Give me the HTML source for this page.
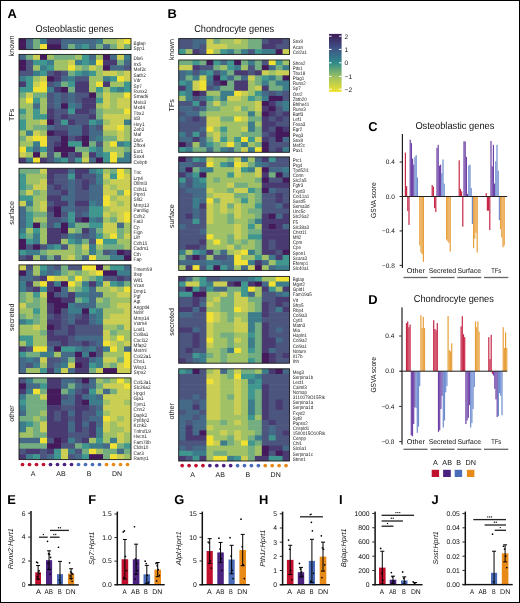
<!DOCTYPE html>
<html><head><meta charset="utf-8"><style>
html,body{margin:0;padding:0;background:#fff;}
body{width:520px;height:603px;overflow:hidden;position:relative;font-family:"Liberation Sans", sans-serif;}
svg{display:block;position:absolute;left:0;top:0;filter:blur(0.4px);}
.frame{position:absolute;left:0;top:0;width:520px;height:603px;box-sizing:border-box;pointer-events:none;}
</style></head><body>
<svg width="520" height="603" viewBox="0 0 520 603" text-rendering="geometricPrecision" font-family='"Liberation Sans", sans-serif'>
<rect x="0" y="0" width="520" height="603" fill="#fff"/>
<rect x="19" y="38.6" width="7.6" height="6.1" fill="#441a5c"/>
<rect x="26" y="38.6" width="7.6" height="6.1" fill="#456a88"/>
<rect x="33" y="38.6" width="7.6" height="6.1" fill="#74ae80"/>
<rect x="40" y="38.6" width="7.6" height="6.1" fill="#3d7d8b"/>
<rect x="47" y="38.6" width="14.6" height="6.1" fill="#4a3a72"/>
<rect x="61" y="38.6" width="35.6" height="6.1" fill="#456a88"/>
<rect x="96" y="38.6" width="7.6" height="6.1" fill="#3d7d8b"/>
<rect x="103" y="38.6" width="14.6" height="6.1" fill="#a0c166"/>
<rect x="117" y="38.6" width="7.6" height="6.1" fill="#cacf53"/>
<rect x="124" y="38.6" width="7" height="6.1" fill="#f0e132"/>
<rect x="19" y="44.1" width="7.6" height="5.5" fill="#441a5c"/>
<rect x="26" y="44.1" width="7.6" height="5.5" fill="#456a88"/>
<rect x="33" y="44.1" width="7.6" height="5.5" fill="#74ae80"/>
<rect x="40" y="44.1" width="7.6" height="5.5" fill="#f0e132"/>
<rect x="47" y="44.1" width="14.6" height="5.5" fill="#441a5c"/>
<rect x="61" y="44.1" width="7.6" height="5.5" fill="#456a88"/>
<rect x="68" y="44.1" width="7.6" height="5.5" fill="#74ae80"/>
<rect x="75" y="44.1" width="7.6" height="5.5" fill="#3d7d8b"/>
<rect x="82" y="44.1" width="7.6" height="5.5" fill="#40978f"/>
<rect x="89" y="44.1" width="7.6" height="5.5" fill="#456a88"/>
<rect x="96" y="44.1" width="7.6" height="5.5" fill="#74ae80"/>
<rect x="103" y="44.1" width="7.6" height="5.5" fill="#456a88"/>
<rect x="110" y="44.1" width="7.6" height="5.5" fill="#74ae80"/>
<rect x="117" y="44.1" width="7.6" height="5.5" fill="#cacf53"/>
<rect x="124" y="44.1" width="7" height="5.5" fill="#74ae80"/>
<rect x="19" y="38.6" width="112" height="11" fill="none" stroke="#1a1a1a" stroke-width="0.9"/>
<text x="593.78" y="178.6" font-size="20.8" fill="#1a1a1a" transform="scale(0.2250,0.25)">Bglap</text>
<text x="593.78" y="200.6" font-size="20.8" fill="#1a1a1a" transform="scale(0.2250,0.25)">Spp1</text>
<text x="0" y="0" font-size="7.2" fill="#111" text-anchor="middle" transform="translate(13.9,46) rotate(-90)">known</text>
<rect x="19" y="54.4" width="7.6" height="6.03" fill="#456a88"/>
<rect x="26" y="54.4" width="7.6" height="6.03" fill="#74ae80"/>
<rect x="33" y="54.4" width="7.6" height="6.03" fill="#cacf53"/>
<rect x="40" y="54.4" width="7.6" height="6.03" fill="#441a5c"/>
<rect x="47" y="54.4" width="7.6" height="6.03" fill="#a0c166"/>
<rect x="54" y="54.4" width="21.6" height="6.03" fill="#74ae80"/>
<rect x="75" y="54.4" width="7.6" height="6.03" fill="#a0c166"/>
<rect x="82" y="54.4" width="7.6" height="6.03" fill="#40978f"/>
<rect x="89" y="54.4" width="7.6" height="6.03" fill="#456a88"/>
<rect x="96" y="54.4" width="7.6" height="6.03" fill="#a0c166"/>
<rect x="103" y="54.4" width="7.6" height="6.03" fill="#441a5c"/>
<rect x="110" y="54.4" width="7.6" height="6.03" fill="#456a88"/>
<rect x="117" y="54.4" width="7.6" height="6.03" fill="#cacf53"/>
<rect x="124" y="54.4" width="7" height="6.03" fill="#3d7d8b"/>
<rect x="19" y="59.83" width="7.6" height="6.03" fill="#441a5c"/>
<rect x="26" y="59.83" width="7.6" height="6.03" fill="#4b557e"/>
<rect x="33" y="59.83" width="14.6" height="6.03" fill="#40978f"/>
<rect x="47" y="59.83" width="7.6" height="6.03" fill="#3d7d8b"/>
<rect x="54" y="59.83" width="14.6" height="6.03" fill="#a0c166"/>
<rect x="68" y="59.83" width="7.6" height="6.03" fill="#cacf53"/>
<rect x="75" y="59.83" width="7.6" height="6.03" fill="#3d7d8b"/>
<rect x="82" y="59.83" width="7.6" height="6.03" fill="#40978f"/>
<rect x="89" y="59.83" width="7.6" height="6.03" fill="#3d7d8b"/>
<rect x="96" y="59.83" width="7.6" height="6.03" fill="#f0e132"/>
<rect x="103" y="59.83" width="14.6" height="6.03" fill="#4a3a72"/>
<rect x="117" y="59.83" width="7.6" height="6.03" fill="#74ae80"/>
<rect x="124" y="59.83" width="7" height="6.03" fill="#456a88"/>
<rect x="19" y="65.26" width="7.6" height="6.03" fill="#441a5c"/>
<rect x="26" y="65.26" width="7.6" height="6.03" fill="#4b557e"/>
<rect x="33" y="65.26" width="7.6" height="6.03" fill="#a0c166"/>
<rect x="40" y="65.26" width="7.6" height="6.03" fill="#3d7d8b"/>
<rect x="47" y="65.26" width="7.6" height="6.03" fill="#40978f"/>
<rect x="54" y="65.26" width="14.6" height="6.03" fill="#a0c166"/>
<rect x="68" y="65.26" width="7.6" height="6.03" fill="#f0e132"/>
<rect x="75" y="65.26" width="7.6" height="6.03" fill="#a0c166"/>
<rect x="82" y="65.26" width="7.6" height="6.03" fill="#74ae80"/>
<rect x="89" y="65.26" width="7.6" height="6.03" fill="#cacf53"/>
<rect x="96" y="65.26" width="7.6" height="6.03" fill="#a0c166"/>
<rect x="103" y="65.26" width="7.6" height="6.03" fill="#441a5c"/>
<rect x="110" y="65.26" width="14.6" height="6.03" fill="#456a88"/>
<rect x="124" y="65.26" width="7" height="6.03" fill="#4b557e"/>
<rect x="19" y="70.69" width="14.6" height="6.03" fill="#4b557e"/>
<rect x="33" y="70.69" width="7.6" height="6.03" fill="#3d7d8b"/>
<rect x="40" y="70.69" width="7.6" height="6.03" fill="#40978f"/>
<rect x="47" y="70.69" width="7.6" height="6.03" fill="#4b557e"/>
<rect x="54" y="70.69" width="7.6" height="6.03" fill="#4a3a72"/>
<rect x="61" y="70.69" width="7.6" height="6.03" fill="#4b557e"/>
<rect x="68" y="70.69" width="7.6" height="6.03" fill="#74ae80"/>
<rect x="75" y="70.69" width="7.6" height="6.03" fill="#40978f"/>
<rect x="82" y="70.69" width="7.6" height="6.03" fill="#3d7d8b"/>
<rect x="89" y="70.69" width="7.6" height="6.03" fill="#40978f"/>
<rect x="96" y="70.69" width="7.6" height="6.03" fill="#a0c166"/>
<rect x="103" y="70.69" width="14.6" height="6.03" fill="#cacf53"/>
<rect x="117" y="70.69" width="7.6" height="6.03" fill="#a0c166"/>
<rect x="124" y="70.69" width="7" height="6.03" fill="#cacf53"/>
<rect x="19" y="76.12" width="7.6" height="6.03" fill="#3d7d8b"/>
<rect x="26" y="76.12" width="7.6" height="6.03" fill="#40978f"/>
<rect x="33" y="76.12" width="7.6" height="6.03" fill="#a0c166"/>
<rect x="40" y="76.12" width="7.6" height="6.03" fill="#cacf53"/>
<rect x="47" y="76.12" width="7.6" height="6.03" fill="#441a5c"/>
<rect x="54" y="76.12" width="7.6" height="6.03" fill="#4a3a72"/>
<rect x="61" y="76.12" width="7.6" height="6.03" fill="#456a88"/>
<rect x="68" y="76.12" width="7.6" height="6.03" fill="#3d7d8b"/>
<rect x="75" y="76.12" width="14.6" height="6.03" fill="#4b557e"/>
<rect x="89" y="76.12" width="14.6" height="6.03" fill="#a0c166"/>
<rect x="103" y="76.12" width="7.6" height="6.03" fill="#3d7d8b"/>
<rect x="110" y="76.12" width="7.6" height="6.03" fill="#40978f"/>
<rect x="117" y="76.12" width="7.6" height="6.03" fill="#f0e132"/>
<rect x="124" y="76.12" width="7" height="6.03" fill="#cacf53"/>
<rect x="19" y="81.55" width="7.6" height="6.03" fill="#4a3a72"/>
<rect x="26" y="81.55" width="7.6" height="6.03" fill="#40978f"/>
<rect x="33" y="81.55" width="7.6" height="6.03" fill="#cacf53"/>
<rect x="40" y="81.55" width="7.6" height="6.03" fill="#f0e132"/>
<rect x="47" y="81.55" width="7.6" height="6.03" fill="#4b557e"/>
<rect x="54" y="81.55" width="7.6" height="6.03" fill="#456a88"/>
<rect x="61" y="81.55" width="7.6" height="6.03" fill="#74ae80"/>
<rect x="68" y="81.55" width="7.6" height="6.03" fill="#40978f"/>
<rect x="75" y="81.55" width="14.6" height="6.03" fill="#4a3a72"/>
<rect x="89" y="81.55" width="7.6" height="6.03" fill="#a0c166"/>
<rect x="96" y="81.55" width="7.6" height="6.03" fill="#f0e132"/>
<rect x="103" y="81.55" width="7.6" height="6.03" fill="#4a3a72"/>
<rect x="110" y="81.55" width="14.6" height="6.03" fill="#a0c166"/>
<rect x="124" y="81.55" width="7" height="6.03" fill="#40978f"/>
<rect x="19" y="86.98" width="14.6" height="6.03" fill="#40978f"/>
<rect x="33" y="86.98" width="14.6" height="6.03" fill="#f0e132"/>
<rect x="47" y="86.98" width="7.6" height="6.03" fill="#3d7d8b"/>
<rect x="54" y="86.98" width="7.6" height="6.03" fill="#4a3a72"/>
<rect x="61" y="86.98" width="7.6" height="6.03" fill="#441a5c"/>
<rect x="68" y="86.98" width="7.6" height="6.03" fill="#74ae80"/>
<rect x="75" y="86.98" width="14.6" height="6.03" fill="#4a3a72"/>
<rect x="89" y="86.98" width="7.6" height="6.03" fill="#a0c166"/>
<rect x="96" y="86.98" width="7.6" height="6.03" fill="#40978f"/>
<rect x="103" y="86.98" width="7.6" height="6.03" fill="#a0c166"/>
<rect x="110" y="86.98" width="7.6" height="6.03" fill="#40978f"/>
<rect x="117" y="86.98" width="7.6" height="6.03" fill="#3d7d8b"/>
<rect x="124" y="86.98" width="7" height="6.03" fill="#40978f"/>
<rect x="19" y="92.41" width="7.6" height="6.03" fill="#74ae80"/>
<rect x="26" y="92.41" width="7.6" height="6.03" fill="#cacf53"/>
<rect x="33" y="92.41" width="14.6" height="6.03" fill="#74ae80"/>
<rect x="47" y="92.41" width="7.6" height="6.03" fill="#4b557e"/>
<rect x="54" y="92.41" width="7.6" height="6.03" fill="#456a88"/>
<rect x="61" y="92.41" width="7.6" height="6.03" fill="#4b557e"/>
<rect x="68" y="92.41" width="7.6" height="6.03" fill="#456a88"/>
<rect x="75" y="92.41" width="14.6" height="6.03" fill="#4b557e"/>
<rect x="89" y="92.41" width="7.6" height="6.03" fill="#441a5c"/>
<rect x="96" y="92.41" width="7.6" height="6.03" fill="#74ae80"/>
<rect x="103" y="92.41" width="7.6" height="6.03" fill="#cacf53"/>
<rect x="110" y="92.41" width="14.6" height="6.03" fill="#a0c166"/>
<rect x="124" y="92.41" width="7" height="6.03" fill="#f0e132"/>
<rect x="19" y="97.84" width="7.6" height="6.03" fill="#a0c166"/>
<rect x="26" y="97.84" width="7.6" height="6.03" fill="#f0e132"/>
<rect x="33" y="97.84" width="7.6" height="6.03" fill="#40978f"/>
<rect x="40" y="97.84" width="7.6" height="6.03" fill="#a0c166"/>
<rect x="47" y="97.84" width="7.6" height="6.03" fill="#4b557e"/>
<rect x="54" y="97.84" width="7.6" height="6.03" fill="#456a88"/>
<rect x="61" y="97.84" width="7.6" height="6.03" fill="#4b557e"/>
<rect x="68" y="97.84" width="7.6" height="6.03" fill="#456a88"/>
<rect x="75" y="97.84" width="7.6" height="6.03" fill="#4b557e"/>
<rect x="82" y="97.84" width="14.6" height="6.03" fill="#4a3a72"/>
<rect x="96" y="97.84" width="7.6" height="6.03" fill="#40978f"/>
<rect x="103" y="97.84" width="7.6" height="6.03" fill="#cacf53"/>
<rect x="110" y="97.84" width="7.6" height="6.03" fill="#a0c166"/>
<rect x="117" y="97.84" width="14" height="6.03" fill="#cacf53"/>
<rect x="19" y="103.27" width="14.6" height="6.03" fill="#a0c166"/>
<rect x="33" y="103.27" width="7.6" height="6.03" fill="#456a88"/>
<rect x="40" y="103.27" width="7.6" height="6.03" fill="#a0c166"/>
<rect x="47" y="103.27" width="7.6" height="6.03" fill="#4b557e"/>
<rect x="54" y="103.27" width="7.6" height="6.03" fill="#456a88"/>
<rect x="61" y="103.27" width="7.6" height="6.03" fill="#441a5c"/>
<rect x="68" y="103.27" width="7.6" height="6.03" fill="#3d7d8b"/>
<rect x="75" y="103.27" width="7.6" height="6.03" fill="#456a88"/>
<rect x="82" y="103.27" width="14.6" height="6.03" fill="#4a3a72"/>
<rect x="96" y="103.27" width="7.6" height="6.03" fill="#a0c166"/>
<rect x="103" y="103.27" width="7.6" height="6.03" fill="#cacf53"/>
<rect x="110" y="103.27" width="7.6" height="6.03" fill="#a0c166"/>
<rect x="117" y="103.27" width="14" height="6.03" fill="#cacf53"/>
<rect x="19" y="108.7" width="7.6" height="6.03" fill="#40978f"/>
<rect x="26" y="108.7" width="7.6" height="6.03" fill="#a0c166"/>
<rect x="33" y="108.7" width="7.6" height="6.03" fill="#40978f"/>
<rect x="40" y="108.7" width="7.6" height="6.03" fill="#a0c166"/>
<rect x="47" y="108.7" width="7.6" height="6.03" fill="#4a3a72"/>
<rect x="54" y="108.7" width="14.6" height="6.03" fill="#4b557e"/>
<rect x="68" y="108.7" width="7.6" height="6.03" fill="#40978f"/>
<rect x="75" y="108.7" width="14.6" height="6.03" fill="#4a3a72"/>
<rect x="89" y="108.7" width="7.6" height="6.03" fill="#4b557e"/>
<rect x="96" y="108.7" width="7.6" height="6.03" fill="#74ae80"/>
<rect x="103" y="108.7" width="21.6" height="6.03" fill="#a0c166"/>
<rect x="124" y="108.7" width="7" height="6.03" fill="#f0e132"/>
<rect x="19" y="114.13" width="7.6" height="6.03" fill="#74ae80"/>
<rect x="26" y="114.13" width="7.6" height="6.03" fill="#a0c166"/>
<rect x="33" y="114.13" width="14.6" height="6.03" fill="#40978f"/>
<rect x="47" y="114.13" width="7.6" height="6.03" fill="#4a3a72"/>
<rect x="54" y="114.13" width="7.6" height="6.03" fill="#4b557e"/>
<rect x="61" y="114.13" width="7.6" height="6.03" fill="#4a3a72"/>
<rect x="68" y="114.13" width="21.6" height="6.03" fill="#4b557e"/>
<rect x="89" y="114.13" width="7.6" height="6.03" fill="#4a3a72"/>
<rect x="96" y="114.13" width="7.6" height="6.03" fill="#74ae80"/>
<rect x="103" y="114.13" width="28" height="6.03" fill="#cacf53"/>
<rect x="19" y="119.56" width="7.6" height="6.03" fill="#40978f"/>
<rect x="26" y="119.56" width="14.6" height="6.03" fill="#a0c166"/>
<rect x="40" y="119.56" width="7.6" height="6.03" fill="#cacf53"/>
<rect x="47" y="119.56" width="7.6" height="6.03" fill="#441a5c"/>
<rect x="54" y="119.56" width="7.6" height="6.03" fill="#4b557e"/>
<rect x="61" y="119.56" width="7.6" height="6.03" fill="#40978f"/>
<rect x="68" y="119.56" width="7.6" height="6.03" fill="#4a3a72"/>
<rect x="75" y="119.56" width="14.6" height="6.03" fill="#4b557e"/>
<rect x="89" y="119.56" width="7.6" height="6.03" fill="#40978f"/>
<rect x="96" y="119.56" width="7.6" height="6.03" fill="#3d7d8b"/>
<rect x="103" y="119.56" width="7.6" height="6.03" fill="#a0c166"/>
<rect x="110" y="119.56" width="14.6" height="6.03" fill="#cacf53"/>
<rect x="124" y="119.56" width="7" height="6.03" fill="#3d7d8b"/>
<rect x="19" y="124.99" width="7.6" height="6.03" fill="#40978f"/>
<rect x="26" y="124.99" width="7.6" height="6.03" fill="#a0c166"/>
<rect x="33" y="124.99" width="14.6" height="6.03" fill="#74ae80"/>
<rect x="47" y="124.99" width="7.6" height="6.03" fill="#456a88"/>
<rect x="54" y="124.99" width="14.6" height="6.03" fill="#4b557e"/>
<rect x="68" y="124.99" width="14.6" height="6.03" fill="#456a88"/>
<rect x="82" y="124.99" width="7.6" height="6.03" fill="#4a3a72"/>
<rect x="89" y="124.99" width="7.6" height="6.03" fill="#456a88"/>
<rect x="96" y="124.99" width="7.6" height="6.03" fill="#4b557e"/>
<rect x="103" y="124.99" width="14.6" height="6.03" fill="#cacf53"/>
<rect x="117" y="124.99" width="7.6" height="6.03" fill="#f0e132"/>
<rect x="124" y="124.99" width="7" height="6.03" fill="#a0c166"/>
<rect x="19" y="130.42" width="7.6" height="6.03" fill="#a0c166"/>
<rect x="26" y="130.42" width="7.6" height="6.03" fill="#3d7d8b"/>
<rect x="33" y="130.42" width="7.6" height="6.03" fill="#cacf53"/>
<rect x="40" y="130.42" width="7.6" height="6.03" fill="#a0c166"/>
<rect x="47" y="130.42" width="7.6" height="6.03" fill="#441a5c"/>
<rect x="54" y="130.42" width="14.6" height="6.03" fill="#4a3a72"/>
<rect x="68" y="130.42" width="14.6" height="6.03" fill="#456a88"/>
<rect x="82" y="130.42" width="7.6" height="6.03" fill="#4a3a72"/>
<rect x="89" y="130.42" width="14.6" height="6.03" fill="#456a88"/>
<rect x="103" y="130.42" width="14.6" height="6.03" fill="#a0c166"/>
<rect x="117" y="130.42" width="7.6" height="6.03" fill="#cacf53"/>
<rect x="124" y="130.42" width="7" height="6.03" fill="#a0c166"/>
<rect x="19" y="135.85" width="7.6" height="6.03" fill="#74ae80"/>
<rect x="26" y="135.85" width="7.6" height="6.03" fill="#cacf53"/>
<rect x="33" y="135.85" width="14.6" height="6.03" fill="#f0e132"/>
<rect x="47" y="135.85" width="14.6" height="6.03" fill="#4b557e"/>
<rect x="61" y="135.85" width="7.6" height="6.03" fill="#441a5c"/>
<rect x="68" y="135.85" width="7.6" height="6.03" fill="#4b557e"/>
<rect x="75" y="135.85" width="7.6" height="6.03" fill="#4a3a72"/>
<rect x="82" y="135.85" width="7.6" height="6.03" fill="#441a5c"/>
<rect x="89" y="135.85" width="7.6" height="6.03" fill="#456a88"/>
<rect x="96" y="135.85" width="7.6" height="6.03" fill="#3d7d8b"/>
<rect x="103" y="135.85" width="14.6" height="6.03" fill="#74ae80"/>
<rect x="117" y="135.85" width="7.6" height="6.03" fill="#cacf53"/>
<rect x="124" y="135.85" width="7" height="6.03" fill="#a0c166"/>
<rect x="19" y="141.28" width="14.6" height="6.03" fill="#a0c166"/>
<rect x="33" y="141.28" width="7.6" height="6.03" fill="#3d7d8b"/>
<rect x="40" y="141.28" width="7.6" height="6.03" fill="#f0e132"/>
<rect x="47" y="141.28" width="7.6" height="6.03" fill="#4b557e"/>
<rect x="54" y="141.28" width="7.6" height="6.03" fill="#4a3a72"/>
<rect x="61" y="141.28" width="7.6" height="6.03" fill="#441a5c"/>
<rect x="68" y="141.28" width="14.6" height="6.03" fill="#40978f"/>
<rect x="82" y="141.28" width="7.6" height="6.03" fill="#441a5c"/>
<rect x="89" y="141.28" width="7.6" height="6.03" fill="#74ae80"/>
<rect x="96" y="141.28" width="7.6" height="6.03" fill="#4b557e"/>
<rect x="103" y="141.28" width="7.6" height="6.03" fill="#a0c166"/>
<rect x="110" y="141.28" width="7.6" height="6.03" fill="#f0e132"/>
<rect x="117" y="141.28" width="7.6" height="6.03" fill="#3d7d8b"/>
<rect x="124" y="141.28" width="7" height="6.03" fill="#40978f"/>
<rect x="19" y="146.71" width="7.6" height="6.03" fill="#f0e132"/>
<rect x="26" y="146.71" width="7.6" height="6.03" fill="#40978f"/>
<rect x="33" y="146.71" width="7.6" height="6.03" fill="#456a88"/>
<rect x="40" y="146.71" width="7.6" height="6.03" fill="#40978f"/>
<rect x="47" y="146.71" width="7.6" height="6.03" fill="#4b557e"/>
<rect x="54" y="146.71" width="21.6" height="6.03" fill="#441a5c"/>
<rect x="75" y="146.71" width="14.6" height="6.03" fill="#74ae80"/>
<rect x="89" y="146.71" width="7.6" height="6.03" fill="#40978f"/>
<rect x="96" y="146.71" width="7.6" height="6.03" fill="#3d7d8b"/>
<rect x="103" y="146.71" width="21.6" height="6.03" fill="#a0c166"/>
<rect x="124" y="146.71" width="7" height="6.03" fill="#74ae80"/>
<rect x="19" y="152.14" width="7.6" height="6.03" fill="#cacf53"/>
<rect x="26" y="152.14" width="7.6" height="6.03" fill="#a0c166"/>
<rect x="33" y="152.14" width="7.6" height="6.03" fill="#441a5c"/>
<rect x="40" y="152.14" width="7.6" height="6.03" fill="#a0c166"/>
<rect x="47" y="152.14" width="7.6" height="6.03" fill="#4b557e"/>
<rect x="54" y="152.14" width="7.6" height="6.03" fill="#74ae80"/>
<rect x="61" y="152.14" width="7.6" height="6.03" fill="#441a5c"/>
<rect x="68" y="152.14" width="7.6" height="6.03" fill="#4b557e"/>
<rect x="75" y="152.14" width="7.6" height="6.03" fill="#4a3a72"/>
<rect x="82" y="152.14" width="7.6" height="6.03" fill="#a0c166"/>
<rect x="89" y="152.14" width="7.6" height="6.03" fill="#4a3a72"/>
<rect x="96" y="152.14" width="7.6" height="6.03" fill="#3d7d8b"/>
<rect x="103" y="152.14" width="7.6" height="6.03" fill="#40978f"/>
<rect x="110" y="152.14" width="7.6" height="6.03" fill="#f0e132"/>
<rect x="117" y="152.14" width="7.6" height="6.03" fill="#a0c166"/>
<rect x="124" y="152.14" width="7" height="6.03" fill="#3d7d8b"/>
<rect x="19" y="157.57" width="7.6" height="5.43" fill="#4a3a72"/>
<rect x="26" y="157.57" width="7.6" height="5.43" fill="#3d7d8b"/>
<rect x="33" y="157.57" width="7.6" height="5.43" fill="#f0e132"/>
<rect x="40" y="157.57" width="7.6" height="5.43" fill="#4a3a72"/>
<rect x="47" y="157.57" width="7.6" height="5.43" fill="#4b557e"/>
<rect x="54" y="157.57" width="7.6" height="5.43" fill="#3d7d8b"/>
<rect x="61" y="157.57" width="7.6" height="5.43" fill="#40978f"/>
<rect x="68" y="157.57" width="7.6" height="5.43" fill="#4b557e"/>
<rect x="75" y="157.57" width="7.6" height="5.43" fill="#40978f"/>
<rect x="82" y="157.57" width="7.6" height="5.43" fill="#cacf53"/>
<rect x="89" y="157.57" width="7.6" height="5.43" fill="#456a88"/>
<rect x="96" y="157.57" width="7.6" height="5.43" fill="#441a5c"/>
<rect x="103" y="157.57" width="7.6" height="5.43" fill="#40978f"/>
<rect x="110" y="157.57" width="7.6" height="5.43" fill="#f0e132"/>
<rect x="117" y="157.57" width="14" height="5.43" fill="#3d7d8b"/>
<rect x="19" y="54.4" width="112" height="108.6" fill="none" stroke="#1a1a1a" stroke-width="0.9"/>
<text x="593.78" y="241.66" font-size="20.8" fill="#1a1a1a" transform="scale(0.2250,0.25)">Dlx6</text>
<text x="593.78" y="263.38" font-size="20.8" fill="#1a1a1a" transform="scale(0.2250,0.25)">Irx5</text>
<text x="593.78" y="285.1" font-size="20.8" fill="#1a1a1a" transform="scale(0.2250,0.25)">Mef2c</text>
<text x="593.78" y="306.82" font-size="20.8" fill="#1a1a1a" transform="scale(0.2250,0.25)">Satb2</text>
<text x="593.78" y="328.54" font-size="20.8" fill="#1a1a1a" transform="scale(0.2250,0.25)">Vdr</text>
<text x="593.78" y="350.26" font-size="20.8" fill="#1a1a1a" transform="scale(0.2250,0.25)">Sp7</text>
<text x="593.78" y="371.98" font-size="20.8" fill="#1a1a1a" transform="scale(0.2250,0.25)">Runx2</text>
<text x="593.78" y="393.7" font-size="20.8" fill="#1a1a1a" transform="scale(0.2250,0.25)">Smad6</text>
<text x="593.78" y="415.42" font-size="20.8" fill="#1a1a1a" transform="scale(0.2250,0.25)">Meis3</text>
<text x="593.78" y="437.14" font-size="20.8" fill="#1a1a1a" transform="scale(0.2250,0.25)">Mxd4</text>
<text x="593.78" y="458.86" font-size="20.8" fill="#1a1a1a" transform="scale(0.2250,0.25)">Tbx2</text>
<text x="593.78" y="480.58" font-size="20.8" fill="#1a1a1a" transform="scale(0.2250,0.25)">Id3</text>
<text x="593.78" y="502.3" font-size="20.8" fill="#1a1a1a" transform="scale(0.2250,0.25)">Hey1</text>
<text x="593.78" y="524.02" font-size="20.8" fill="#1a1a1a" transform="scale(0.2250,0.25)">Zeb2</text>
<text x="593.78" y="545.74" font-size="20.8" fill="#1a1a1a" transform="scale(0.2250,0.25)">Maf</text>
<text x="593.78" y="567.46" font-size="20.8" fill="#1a1a1a" transform="scale(0.2250,0.25)">Dlx5</text>
<text x="593.78" y="589.18" font-size="20.8" fill="#1a1a1a" transform="scale(0.2250,0.25)">Zfhx4</text>
<text x="593.78" y="610.9" font-size="20.8" fill="#1a1a1a" transform="scale(0.2250,0.25)">Esr1</text>
<text x="593.78" y="632.62" font-size="20.8" fill="#1a1a1a" transform="scale(0.2250,0.25)">Sox4</text>
<text x="593.78" y="654.34" font-size="20.8" fill="#1a1a1a" transform="scale(0.2250,0.25)">Cebpb</text>
<text x="0" y="0" font-size="7.2" fill="#111" text-anchor="middle" transform="translate(13.9,114.75) rotate(-90)">TFs</text>
<rect x="19" y="168.3" width="21.6" height="6.03" fill="#74ae80"/>
<rect x="40" y="168.3" width="7.6" height="6.03" fill="#cacf53"/>
<rect x="47" y="168.3" width="21.6" height="6.03" fill="#4a3a72"/>
<rect x="68" y="168.3" width="7.6" height="6.03" fill="#456a88"/>
<rect x="75" y="168.3" width="14.6" height="6.03" fill="#4a3a72"/>
<rect x="89" y="168.3" width="7.6" height="6.03" fill="#3d7d8b"/>
<rect x="96" y="168.3" width="7.6" height="6.03" fill="#40978f"/>
<rect x="103" y="168.3" width="7.6" height="6.03" fill="#a0c166"/>
<rect x="110" y="168.3" width="7.6" height="6.03" fill="#74ae80"/>
<rect x="117" y="168.3" width="7.6" height="6.03" fill="#f0e132"/>
<rect x="124" y="168.3" width="7" height="6.03" fill="#a0c166"/>
<rect x="19" y="173.73" width="7.6" height="6.03" fill="#40978f"/>
<rect x="26" y="173.73" width="21.6" height="6.03" fill="#a0c166"/>
<rect x="47" y="173.73" width="7.6" height="6.03" fill="#4a3a72"/>
<rect x="54" y="173.73" width="14.6" height="6.03" fill="#4b557e"/>
<rect x="68" y="173.73" width="7.6" height="6.03" fill="#40978f"/>
<rect x="75" y="173.73" width="7.6" height="6.03" fill="#4a3a72"/>
<rect x="82" y="173.73" width="14.6" height="6.03" fill="#4b557e"/>
<rect x="96" y="173.73" width="7.6" height="6.03" fill="#3d7d8b"/>
<rect x="103" y="173.73" width="7.6" height="6.03" fill="#cacf53"/>
<rect x="110" y="173.73" width="7.6" height="6.03" fill="#40978f"/>
<rect x="117" y="173.73" width="7.6" height="6.03" fill="#f0e132"/>
<rect x="124" y="173.73" width="7" height="6.03" fill="#cacf53"/>
<rect x="19" y="179.16" width="7.6" height="6.03" fill="#40978f"/>
<rect x="26" y="179.16" width="14.6" height="6.03" fill="#a0c166"/>
<rect x="40" y="179.16" width="7.6" height="6.03" fill="#cacf53"/>
<rect x="47" y="179.16" width="7.6" height="6.03" fill="#4a3a72"/>
<rect x="54" y="179.16" width="14.6" height="6.03" fill="#4b557e"/>
<rect x="68" y="179.16" width="7.6" height="6.03" fill="#456a88"/>
<rect x="75" y="179.16" width="7.6" height="6.03" fill="#4b557e"/>
<rect x="82" y="179.16" width="7.6" height="6.03" fill="#4a3a72"/>
<rect x="89" y="179.16" width="7.6" height="6.03" fill="#4b557e"/>
<rect x="96" y="179.16" width="7.6" height="6.03" fill="#3d7d8b"/>
<rect x="103" y="179.16" width="7.6" height="6.03" fill="#a0c166"/>
<rect x="110" y="179.16" width="21" height="6.03" fill="#cacf53"/>
<rect x="19" y="184.59" width="7.6" height="6.03" fill="#40978f"/>
<rect x="26" y="184.59" width="7.6" height="6.03" fill="#74ae80"/>
<rect x="33" y="184.59" width="14.6" height="6.03" fill="#cacf53"/>
<rect x="47" y="184.59" width="7.6" height="6.03" fill="#4b557e"/>
<rect x="54" y="184.59" width="7.6" height="6.03" fill="#4a3a72"/>
<rect x="61" y="184.59" width="7.6" height="6.03" fill="#4b557e"/>
<rect x="68" y="184.59" width="7.6" height="6.03" fill="#456a88"/>
<rect x="75" y="184.59" width="7.6" height="6.03" fill="#4b557e"/>
<rect x="82" y="184.59" width="7.6" height="6.03" fill="#4a3a72"/>
<rect x="89" y="184.59" width="14.6" height="6.03" fill="#456a88"/>
<rect x="103" y="184.59" width="7.6" height="6.03" fill="#cacf53"/>
<rect x="110" y="184.59" width="7.6" height="6.03" fill="#a0c166"/>
<rect x="117" y="184.59" width="14" height="6.03" fill="#cacf53"/>
<rect x="19" y="190.02" width="7.6" height="6.03" fill="#74ae80"/>
<rect x="26" y="190.02" width="7.6" height="6.03" fill="#cacf53"/>
<rect x="33" y="190.02" width="7.6" height="6.03" fill="#74ae80"/>
<rect x="40" y="190.02" width="7.6" height="6.03" fill="#a0c166"/>
<rect x="47" y="190.02" width="14.6" height="6.03" fill="#4b557e"/>
<rect x="61" y="190.02" width="7.6" height="6.03" fill="#4a3a72"/>
<rect x="68" y="190.02" width="7.6" height="6.03" fill="#456a88"/>
<rect x="75" y="190.02" width="14.6" height="6.03" fill="#4b557e"/>
<rect x="89" y="190.02" width="14.6" height="6.03" fill="#456a88"/>
<rect x="103" y="190.02" width="14.6" height="6.03" fill="#cacf53"/>
<rect x="117" y="190.02" width="7.6" height="6.03" fill="#74ae80"/>
<rect x="124" y="190.02" width="7" height="6.03" fill="#f0e132"/>
<rect x="19" y="195.45" width="14.6" height="6.03" fill="#40978f"/>
<rect x="33" y="195.45" width="14.6" height="6.03" fill="#a0c166"/>
<rect x="47" y="195.45" width="14.6" height="6.03" fill="#4a3a72"/>
<rect x="61" y="195.45" width="14.6" height="6.03" fill="#456a88"/>
<rect x="75" y="195.45" width="14.6" height="6.03" fill="#4b557e"/>
<rect x="89" y="195.45" width="14.6" height="6.03" fill="#456a88"/>
<rect x="103" y="195.45" width="7.6" height="6.03" fill="#f0e132"/>
<rect x="110" y="195.45" width="7.6" height="6.03" fill="#a0c166"/>
<rect x="117" y="195.45" width="14" height="6.03" fill="#cacf53"/>
<rect x="19" y="200.88" width="7.6" height="6.03" fill="#cacf53"/>
<rect x="26" y="200.88" width="7.6" height="6.03" fill="#3d7d8b"/>
<rect x="33" y="200.88" width="7.6" height="6.03" fill="#a0c166"/>
<rect x="40" y="200.88" width="7.6" height="6.03" fill="#cacf53"/>
<rect x="47" y="200.88" width="7.6" height="6.03" fill="#4b557e"/>
<rect x="54" y="200.88" width="14.6" height="6.03" fill="#4a3a72"/>
<rect x="68" y="200.88" width="7.6" height="6.03" fill="#456a88"/>
<rect x="75" y="200.88" width="14.6" height="6.03" fill="#4a3a72"/>
<rect x="89" y="200.88" width="7.6" height="6.03" fill="#3d7d8b"/>
<rect x="96" y="200.88" width="7.6" height="6.03" fill="#456a88"/>
<rect x="103" y="200.88" width="7.6" height="6.03" fill="#f0e132"/>
<rect x="110" y="200.88" width="7.6" height="6.03" fill="#cacf53"/>
<rect x="117" y="200.88" width="7.6" height="6.03" fill="#a0c166"/>
<rect x="124" y="200.88" width="7" height="6.03" fill="#cacf53"/>
<rect x="19" y="206.31" width="7.6" height="6.03" fill="#456a88"/>
<rect x="26" y="206.31" width="7.6" height="6.03" fill="#74ae80"/>
<rect x="33" y="206.31" width="7.6" height="6.03" fill="#a0c166"/>
<rect x="40" y="206.31" width="7.6" height="6.03" fill="#cacf53"/>
<rect x="47" y="206.31" width="7.6" height="6.03" fill="#4a3a72"/>
<rect x="54" y="206.31" width="7.6" height="6.03" fill="#441a5c"/>
<rect x="61" y="206.31" width="14.6" height="6.03" fill="#456a88"/>
<rect x="75" y="206.31" width="14.6" height="6.03" fill="#4b557e"/>
<rect x="89" y="206.31" width="14.6" height="6.03" fill="#40978f"/>
<rect x="103" y="206.31" width="7.6" height="6.03" fill="#a0c166"/>
<rect x="110" y="206.31" width="21" height="6.03" fill="#cacf53"/>
<rect x="19" y="211.74" width="7.6" height="6.03" fill="#456a88"/>
<rect x="26" y="211.74" width="7.6" height="6.03" fill="#40978f"/>
<rect x="33" y="211.74" width="14.6" height="6.03" fill="#74ae80"/>
<rect x="47" y="211.74" width="7.6" height="6.03" fill="#4b557e"/>
<rect x="54" y="211.74" width="7.6" height="6.03" fill="#441a5c"/>
<rect x="61" y="211.74" width="7.6" height="6.03" fill="#4b557e"/>
<rect x="68" y="211.74" width="7.6" height="6.03" fill="#40978f"/>
<rect x="75" y="211.74" width="7.6" height="6.03" fill="#4b557e"/>
<rect x="82" y="211.74" width="7.6" height="6.03" fill="#456a88"/>
<rect x="89" y="211.74" width="14.6" height="6.03" fill="#40978f"/>
<rect x="103" y="211.74" width="7.6" height="6.03" fill="#cacf53"/>
<rect x="110" y="211.74" width="7.6" height="6.03" fill="#a0c166"/>
<rect x="117" y="211.74" width="7.6" height="6.03" fill="#cacf53"/>
<rect x="124" y="211.74" width="7" height="6.03" fill="#f0e132"/>
<rect x="19" y="217.16" width="7.6" height="6.03" fill="#456a88"/>
<rect x="26" y="217.16" width="7.6" height="6.03" fill="#40978f"/>
<rect x="33" y="217.16" width="14.6" height="6.03" fill="#a0c166"/>
<rect x="47" y="217.16" width="14.6" height="6.03" fill="#4b557e"/>
<rect x="61" y="217.16" width="7.6" height="6.03" fill="#456a88"/>
<rect x="68" y="217.16" width="7.6" height="6.03" fill="#40978f"/>
<rect x="75" y="217.16" width="7.6" height="6.03" fill="#4a3a72"/>
<rect x="82" y="217.16" width="7.6" height="6.03" fill="#441a5c"/>
<rect x="89" y="217.16" width="7.6" height="6.03" fill="#3d7d8b"/>
<rect x="96" y="217.16" width="7.6" height="6.03" fill="#456a88"/>
<rect x="103" y="217.16" width="7.6" height="6.03" fill="#a0c166"/>
<rect x="110" y="217.16" width="7.6" height="6.03" fill="#74ae80"/>
<rect x="117" y="217.16" width="7.6" height="6.03" fill="#cacf53"/>
<rect x="124" y="217.16" width="7" height="6.03" fill="#f0e132"/>
<rect x="19" y="222.59" width="7.6" height="6.03" fill="#456a88"/>
<rect x="26" y="222.59" width="7.6" height="6.03" fill="#40978f"/>
<rect x="33" y="222.59" width="7.6" height="6.03" fill="#441a5c"/>
<rect x="40" y="222.59" width="7.6" height="6.03" fill="#74ae80"/>
<rect x="47" y="222.59" width="7.6" height="6.03" fill="#4b557e"/>
<rect x="54" y="222.59" width="7.6" height="6.03" fill="#3d7d8b"/>
<rect x="61" y="222.59" width="7.6" height="6.03" fill="#441a5c"/>
<rect x="68" y="222.59" width="7.6" height="6.03" fill="#3d7d8b"/>
<rect x="75" y="222.59" width="14.6" height="6.03" fill="#74ae80"/>
<rect x="89" y="222.59" width="14.6" height="6.03" fill="#40978f"/>
<rect x="103" y="222.59" width="14.6" height="6.03" fill="#cacf53"/>
<rect x="117" y="222.59" width="7.6" height="6.03" fill="#456a88"/>
<rect x="124" y="222.59" width="7" height="6.03" fill="#a0c166"/>
<rect x="19" y="228.02" width="7.6" height="6.03" fill="#3d7d8b"/>
<rect x="26" y="228.02" width="7.6" height="6.03" fill="#a0c166"/>
<rect x="33" y="228.02" width="7.6" height="6.03" fill="#40978f"/>
<rect x="40" y="228.02" width="7.6" height="6.03" fill="#a0c166"/>
<rect x="47" y="228.02" width="14.6" height="6.03" fill="#4a3a72"/>
<rect x="61" y="228.02" width="7.6" height="6.03" fill="#441a5c"/>
<rect x="68" y="228.02" width="7.6" height="6.03" fill="#a0c166"/>
<rect x="75" y="228.02" width="7.6" height="6.03" fill="#74ae80"/>
<rect x="82" y="228.02" width="7.6" height="6.03" fill="#4a3a72"/>
<rect x="89" y="228.02" width="7.6" height="6.03" fill="#456a88"/>
<rect x="96" y="228.02" width="7.6" height="6.03" fill="#74ae80"/>
<rect x="103" y="228.02" width="14.6" height="6.03" fill="#cacf53"/>
<rect x="117" y="228.02" width="7.6" height="6.03" fill="#74ae80"/>
<rect x="124" y="228.02" width="7" height="6.03" fill="#a0c166"/>
<rect x="19" y="233.45" width="7.6" height="6.03" fill="#40978f"/>
<rect x="26" y="233.45" width="7.6" height="6.03" fill="#74ae80"/>
<rect x="33" y="233.45" width="7.6" height="6.03" fill="#3d7d8b"/>
<rect x="40" y="233.45" width="7.6" height="6.03" fill="#a0c166"/>
<rect x="47" y="233.45" width="14.6" height="6.03" fill="#4a3a72"/>
<rect x="61" y="233.45" width="7.6" height="6.03" fill="#4b557e"/>
<rect x="68" y="233.45" width="7.6" height="6.03" fill="#3d7d8b"/>
<rect x="75" y="233.45" width="7.6" height="6.03" fill="#456a88"/>
<rect x="82" y="233.45" width="7.6" height="6.03" fill="#4b557e"/>
<rect x="89" y="233.45" width="7.6" height="6.03" fill="#456a88"/>
<rect x="96" y="233.45" width="7.6" height="6.03" fill="#40978f"/>
<rect x="103" y="233.45" width="7.6" height="6.03" fill="#a0c166"/>
<rect x="110" y="233.45" width="7.6" height="6.03" fill="#f0e132"/>
<rect x="117" y="233.45" width="7.6" height="6.03" fill="#74ae80"/>
<rect x="124" y="233.45" width="7" height="6.03" fill="#cacf53"/>
<rect x="19" y="238.88" width="7.6" height="6.03" fill="#441a5c"/>
<rect x="26" y="238.88" width="7.6" height="6.03" fill="#40978f"/>
<rect x="33" y="238.88" width="7.6" height="6.03" fill="#3d7d8b"/>
<rect x="40" y="238.88" width="7.6" height="6.03" fill="#a0c166"/>
<rect x="47" y="238.88" width="14.6" height="6.03" fill="#4a3a72"/>
<rect x="61" y="238.88" width="7.6" height="6.03" fill="#a0c166"/>
<rect x="68" y="238.88" width="7.6" height="6.03" fill="#40978f"/>
<rect x="75" y="238.88" width="7.6" height="6.03" fill="#3d7d8b"/>
<rect x="82" y="238.88" width="7.6" height="6.03" fill="#74ae80"/>
<rect x="89" y="238.88" width="7.6" height="6.03" fill="#4b557e"/>
<rect x="96" y="238.88" width="7.6" height="6.03" fill="#f0e132"/>
<rect x="103" y="238.88" width="14.6" height="6.03" fill="#40978f"/>
<rect x="117" y="238.88" width="14" height="6.03" fill="#a0c166"/>
<rect x="19" y="244.31" width="7.6" height="6.03" fill="#441a5c"/>
<rect x="26" y="244.31" width="7.6" height="6.03" fill="#4b557e"/>
<rect x="33" y="244.31" width="7.6" height="6.03" fill="#441a5c"/>
<rect x="40" y="244.31" width="7.6" height="6.03" fill="#4b557e"/>
<rect x="47" y="244.31" width="7.6" height="6.03" fill="#3d7d8b"/>
<rect x="54" y="244.31" width="7.6" height="6.03" fill="#40978f"/>
<rect x="61" y="244.31" width="7.6" height="6.03" fill="#4b557e"/>
<rect x="68" y="244.31" width="7.6" height="6.03" fill="#a0c166"/>
<rect x="75" y="244.31" width="7.6" height="6.03" fill="#74ae80"/>
<rect x="82" y="244.31" width="7.6" height="6.03" fill="#cacf53"/>
<rect x="89" y="244.31" width="7.6" height="6.03" fill="#3d7d8b"/>
<rect x="96" y="244.31" width="7.6" height="6.03" fill="#a0c166"/>
<rect x="103" y="244.31" width="21.6" height="6.03" fill="#74ae80"/>
<rect x="124" y="244.31" width="7" height="6.03" fill="#a0c166"/>
<rect x="19" y="249.74" width="7.6" height="6.03" fill="#40978f"/>
<rect x="26" y="249.74" width="14.6" height="6.03" fill="#3d7d8b"/>
<rect x="40" y="249.74" width="7.6" height="6.03" fill="#74ae80"/>
<rect x="47" y="249.74" width="28.6" height="6.03" fill="#a0c166"/>
<rect x="75" y="249.74" width="7.6" height="6.03" fill="#74ae80"/>
<rect x="82" y="249.74" width="7.6" height="6.03" fill="#a0c166"/>
<rect x="89" y="249.74" width="7.6" height="6.03" fill="#3d7d8b"/>
<rect x="96" y="249.74" width="7.6" height="6.03" fill="#74ae80"/>
<rect x="103" y="249.74" width="7.6" height="6.03" fill="#4b557e"/>
<rect x="110" y="249.74" width="7.6" height="6.03" fill="#456a88"/>
<rect x="117" y="249.74" width="7.6" height="6.03" fill="#441a5c"/>
<rect x="124" y="249.74" width="7" height="6.03" fill="#4a3a72"/>
<rect x="19" y="255.17" width="7.6" height="5.43" fill="#4b557e"/>
<rect x="26" y="255.17" width="7.6" height="5.43" fill="#4a3a72"/>
<rect x="33" y="255.17" width="7.6" height="5.43" fill="#a0c166"/>
<rect x="40" y="255.17" width="7.6" height="5.43" fill="#456a88"/>
<rect x="47" y="255.17" width="7.6" height="5.43" fill="#74ae80"/>
<rect x="54" y="255.17" width="7.6" height="5.43" fill="#4b557e"/>
<rect x="61" y="255.17" width="7.6" height="5.43" fill="#a0c166"/>
<rect x="68" y="255.17" width="7.6" height="5.43" fill="#cacf53"/>
<rect x="75" y="255.17" width="7.6" height="5.43" fill="#74ae80"/>
<rect x="82" y="255.17" width="7.6" height="5.43" fill="#456a88"/>
<rect x="89" y="255.17" width="7.6" height="5.43" fill="#f0e132"/>
<rect x="96" y="255.17" width="14.6" height="5.43" fill="#74ae80"/>
<rect x="110" y="255.17" width="14.6" height="5.43" fill="#3d7d8b"/>
<rect x="124" y="255.17" width="7" height="5.43" fill="#441a5c"/>
<rect x="19" y="168.3" width="112" height="92.3" fill="none" stroke="#1a1a1a" stroke-width="0.9"/>
<text x="593.78" y="697.26" font-size="20.8" fill="#1a1a1a" transform="scale(0.2250,0.25)">Tnc</text>
<text x="593.78" y="718.98" font-size="20.8" fill="#1a1a1a" transform="scale(0.2250,0.25)">Lrp4</text>
<text x="593.78" y="740.69" font-size="20.8" fill="#1a1a1a" transform="scale(0.2250,0.25)">Olfml3</text>
<text x="593.78" y="762.41" font-size="20.8" fill="#1a1a1a" transform="scale(0.2250,0.25)">Cdh11</text>
<text x="593.78" y="784.13" font-size="20.8" fill="#1a1a1a" transform="scale(0.2250,0.25)">Ptprd</text>
<text x="593.78" y="805.85" font-size="20.8" fill="#1a1a1a" transform="scale(0.2250,0.25)">Slit2</text>
<text x="593.78" y="827.56" font-size="20.8" fill="#1a1a1a" transform="scale(0.2250,0.25)">Mmp13</text>
<text x="593.78" y="849.28" font-size="20.8" fill="#1a1a1a" transform="scale(0.2250,0.25)">Pard6g</text>
<text x="593.78" y="871" font-size="20.8" fill="#1a1a1a" transform="scale(0.2250,0.25)">Cdh2</text>
<text x="593.78" y="892.72" font-size="20.8" fill="#1a1a1a" transform="scale(0.2250,0.25)">Fat3</text>
<text x="593.78" y="914.44" font-size="20.8" fill="#1a1a1a" transform="scale(0.2250,0.25)">Cp</text>
<text x="593.78" y="936.15" font-size="20.8" fill="#1a1a1a" transform="scale(0.2250,0.25)">Fign</text>
<text x="593.78" y="957.87" font-size="20.8" fill="#1a1a1a" transform="scale(0.2250,0.25)">Lifr</text>
<text x="593.78" y="979.59" font-size="20.8" fill="#1a1a1a" transform="scale(0.2250,0.25)">Cdh15</text>
<text x="593.78" y="1001.31" font-size="20.8" fill="#1a1a1a" transform="scale(0.2250,0.25)">Cadm1</text>
<text x="593.78" y="1023.02" font-size="20.8" fill="#1a1a1a" transform="scale(0.2250,0.25)">Cth</text>
<text x="593.78" y="1044.74" font-size="20.8" fill="#1a1a1a" transform="scale(0.2250,0.25)">Fap</text>
<text x="0" y="0" font-size="7.2" fill="#111" text-anchor="middle" transform="translate(13.9,212.9) rotate(-90)">surface</text>
<rect x="19" y="264.9" width="7.6" height="6.03" fill="#cacf53"/>
<rect x="26" y="264.9" width="7.6" height="6.03" fill="#4b557e"/>
<rect x="33" y="264.9" width="7.6" height="6.03" fill="#a0c166"/>
<rect x="40" y="264.9" width="7.6" height="6.03" fill="#40978f"/>
<rect x="47" y="264.9" width="7.6" height="6.03" fill="#456a88"/>
<rect x="54" y="264.9" width="7.6" height="6.03" fill="#4b557e"/>
<rect x="61" y="264.9" width="7.6" height="6.03" fill="#74ae80"/>
<rect x="68" y="264.9" width="14.6" height="6.03" fill="#4b557e"/>
<rect x="82" y="264.9" width="14.6" height="6.03" fill="#f0e132"/>
<rect x="96" y="264.9" width="7.6" height="6.03" fill="#441a5c"/>
<rect x="103" y="264.9" width="7.6" height="6.03" fill="#a0c166"/>
<rect x="110" y="264.9" width="14.6" height="6.03" fill="#40978f"/>
<rect x="124" y="264.9" width="7" height="6.03" fill="#456a88"/>
<rect x="19" y="270.33" width="7.6" height="6.03" fill="#441a5c"/>
<rect x="26" y="270.33" width="7.6" height="6.03" fill="#456a88"/>
<rect x="33" y="270.33" width="7.6" height="6.03" fill="#a0c166"/>
<rect x="40" y="270.33" width="7.6" height="6.03" fill="#3d7d8b"/>
<rect x="47" y="270.33" width="7.6" height="6.03" fill="#456a88"/>
<rect x="54" y="270.33" width="7.6" height="6.03" fill="#3d7d8b"/>
<rect x="61" y="270.33" width="7.6" height="6.03" fill="#74ae80"/>
<rect x="68" y="270.33" width="7.6" height="6.03" fill="#a0c166"/>
<rect x="75" y="270.33" width="7.6" height="6.03" fill="#74ae80"/>
<rect x="82" y="270.33" width="7.6" height="6.03" fill="#a0c166"/>
<rect x="89" y="270.33" width="7.6" height="6.03" fill="#cacf53"/>
<rect x="96" y="270.33" width="7.6" height="6.03" fill="#f0e132"/>
<rect x="103" y="270.33" width="14.6" height="6.03" fill="#441a5c"/>
<rect x="117" y="270.33" width="14" height="6.03" fill="#3d7d8b"/>
<rect x="19" y="275.76" width="14.6" height="6.03" fill="#456a88"/>
<rect x="33" y="275.76" width="7.6" height="6.03" fill="#4b557e"/>
<rect x="40" y="275.76" width="7.6" height="6.03" fill="#4a3a72"/>
<rect x="47" y="275.76" width="7.6" height="6.03" fill="#f0e132"/>
<rect x="54" y="275.76" width="14.6" height="6.03" fill="#cacf53"/>
<rect x="68" y="275.76" width="7.6" height="6.03" fill="#74ae80"/>
<rect x="75" y="275.76" width="7.6" height="6.03" fill="#f0e132"/>
<rect x="82" y="275.76" width="7.6" height="6.03" fill="#a0c166"/>
<rect x="89" y="275.76" width="7.6" height="6.03" fill="#74ae80"/>
<rect x="96" y="275.76" width="7.6" height="6.03" fill="#40978f"/>
<rect x="103" y="275.76" width="14.6" height="6.03" fill="#4b557e"/>
<rect x="117" y="275.76" width="7.6" height="6.03" fill="#4a3a72"/>
<rect x="124" y="275.76" width="7" height="6.03" fill="#4b557e"/>
<rect x="19" y="281.19" width="7.6" height="6.03" fill="#3d7d8b"/>
<rect x="26" y="281.19" width="7.6" height="6.03" fill="#4a3a72"/>
<rect x="33" y="281.19" width="7.6" height="6.03" fill="#a0c166"/>
<rect x="40" y="281.19" width="7.6" height="6.03" fill="#f0e132"/>
<rect x="47" y="281.19" width="7.6" height="6.03" fill="#4a3a72"/>
<rect x="54" y="281.19" width="7.6" height="6.03" fill="#3d7d8b"/>
<rect x="61" y="281.19" width="7.6" height="6.03" fill="#441a5c"/>
<rect x="68" y="281.19" width="7.6" height="6.03" fill="#f0e132"/>
<rect x="75" y="281.19" width="7.6" height="6.03" fill="#a0c166"/>
<rect x="82" y="281.19" width="7.6" height="6.03" fill="#3d7d8b"/>
<rect x="89" y="281.19" width="7.6" height="6.03" fill="#4a3a72"/>
<rect x="96" y="281.19" width="7.6" height="6.03" fill="#3d7d8b"/>
<rect x="103" y="281.19" width="7.6" height="6.03" fill="#cacf53"/>
<rect x="110" y="281.19" width="7.6" height="6.03" fill="#40978f"/>
<rect x="117" y="281.19" width="7.6" height="6.03" fill="#3d7d8b"/>
<rect x="124" y="281.19" width="7" height="6.03" fill="#74ae80"/>
<rect x="19" y="286.62" width="7.6" height="6.03" fill="#3d7d8b"/>
<rect x="26" y="286.62" width="7.6" height="6.03" fill="#4b557e"/>
<rect x="33" y="286.62" width="7.6" height="6.03" fill="#4a3a72"/>
<rect x="40" y="286.62" width="7.6" height="6.03" fill="#40978f"/>
<rect x="47" y="286.62" width="7.6" height="6.03" fill="#4a3a72"/>
<rect x="54" y="286.62" width="7.6" height="6.03" fill="#441a5c"/>
<rect x="61" y="286.62" width="7.6" height="6.03" fill="#456a88"/>
<rect x="68" y="286.62" width="7.6" height="6.03" fill="#a0c166"/>
<rect x="75" y="286.62" width="7.6" height="6.03" fill="#74ae80"/>
<rect x="82" y="286.62" width="7.6" height="6.03" fill="#40978f"/>
<rect x="89" y="286.62" width="7.6" height="6.03" fill="#456a88"/>
<rect x="96" y="286.62" width="14.6" height="6.03" fill="#a0c166"/>
<rect x="110" y="286.62" width="7.6" height="6.03" fill="#cacf53"/>
<rect x="117" y="286.62" width="7.6" height="6.03" fill="#a0c166"/>
<rect x="124" y="286.62" width="7" height="6.03" fill="#f0e132"/>
<rect x="19" y="292.05" width="7.6" height="6.03" fill="#74ae80"/>
<rect x="26" y="292.05" width="7.6" height="6.03" fill="#a0c166"/>
<rect x="33" y="292.05" width="7.6" height="6.03" fill="#40978f"/>
<rect x="40" y="292.05" width="7.6" height="6.03" fill="#cacf53"/>
<rect x="47" y="292.05" width="7.6" height="6.03" fill="#441a5c"/>
<rect x="54" y="292.05" width="7.6" height="6.03" fill="#4b557e"/>
<rect x="61" y="292.05" width="7.6" height="6.03" fill="#456a88"/>
<rect x="68" y="292.05" width="7.6" height="6.03" fill="#4a3a72"/>
<rect x="75" y="292.05" width="14.6" height="6.03" fill="#3d7d8b"/>
<rect x="89" y="292.05" width="14.6" height="6.03" fill="#456a88"/>
<rect x="103" y="292.05" width="14.6" height="6.03" fill="#a0c166"/>
<rect x="117" y="292.05" width="14" height="6.03" fill="#cacf53"/>
<rect x="19" y="297.48" width="7.6" height="6.03" fill="#74ae80"/>
<rect x="26" y="297.48" width="7.6" height="6.03" fill="#a0c166"/>
<rect x="33" y="297.48" width="7.6" height="6.03" fill="#74ae80"/>
<rect x="40" y="297.48" width="7.6" height="6.03" fill="#a0c166"/>
<rect x="47" y="297.48" width="14.6" height="6.03" fill="#441a5c"/>
<rect x="61" y="297.48" width="14.6" height="6.03" fill="#4a3a72"/>
<rect x="75" y="297.48" width="7.6" height="6.03" fill="#74ae80"/>
<rect x="82" y="297.48" width="7.6" height="6.03" fill="#40978f"/>
<rect x="89" y="297.48" width="7.6" height="6.03" fill="#456a88"/>
<rect x="96" y="297.48" width="7.6" height="6.03" fill="#a0c166"/>
<rect x="103" y="297.48" width="7.6" height="6.03" fill="#74ae80"/>
<rect x="110" y="297.48" width="21" height="6.03" fill="#a0c166"/>
<rect x="19" y="302.91" width="7.6" height="6.03" fill="#cacf53"/>
<rect x="26" y="302.91" width="14.6" height="6.03" fill="#74ae80"/>
<rect x="40" y="302.91" width="7.6" height="6.03" fill="#a0c166"/>
<rect x="47" y="302.91" width="7.6" height="6.03" fill="#4a3a72"/>
<rect x="54" y="302.91" width="14.6" height="6.03" fill="#441a5c"/>
<rect x="68" y="302.91" width="7.6" height="6.03" fill="#3d7d8b"/>
<rect x="75" y="302.91" width="21.6" height="6.03" fill="#456a88"/>
<rect x="96" y="302.91" width="14.6" height="6.03" fill="#74ae80"/>
<rect x="110" y="302.91" width="7.6" height="6.03" fill="#a0c166"/>
<rect x="117" y="302.91" width="14" height="6.03" fill="#cacf53"/>
<rect x="19" y="308.34" width="14.6" height="6.03" fill="#a0c166"/>
<rect x="33" y="308.34" width="7.6" height="6.03" fill="#40978f"/>
<rect x="40" y="308.34" width="7.6" height="6.03" fill="#a0c166"/>
<rect x="47" y="308.34" width="7.6" height="6.03" fill="#4a3a72"/>
<rect x="54" y="308.34" width="7.6" height="6.03" fill="#441a5c"/>
<rect x="61" y="308.34" width="7.6" height="6.03" fill="#4b557e"/>
<rect x="68" y="308.34" width="14.6" height="6.03" fill="#3d7d8b"/>
<rect x="82" y="308.34" width="7.6" height="6.03" fill="#441a5c"/>
<rect x="89" y="308.34" width="7.6" height="6.03" fill="#40978f"/>
<rect x="96" y="308.34" width="7.6" height="6.03" fill="#3d7d8b"/>
<rect x="103" y="308.34" width="21.6" height="6.03" fill="#a0c166"/>
<rect x="124" y="308.34" width="7" height="6.03" fill="#cacf53"/>
<rect x="19" y="313.77" width="7.6" height="6.03" fill="#74ae80"/>
<rect x="26" y="313.77" width="7.6" height="6.03" fill="#a0c166"/>
<rect x="33" y="313.77" width="7.6" height="6.03" fill="#74ae80"/>
<rect x="40" y="313.77" width="7.6" height="6.03" fill="#a0c166"/>
<rect x="47" y="313.77" width="7.6" height="6.03" fill="#4b557e"/>
<rect x="54" y="313.77" width="7.6" height="6.03" fill="#4a3a72"/>
<rect x="61" y="313.77" width="7.6" height="6.03" fill="#4b557e"/>
<rect x="68" y="313.77" width="7.6" height="6.03" fill="#456a88"/>
<rect x="75" y="313.77" width="7.6" height="6.03" fill="#4b557e"/>
<rect x="82" y="313.77" width="7.6" height="6.03" fill="#4a3a72"/>
<rect x="89" y="313.77" width="7.6" height="6.03" fill="#456a88"/>
<rect x="96" y="313.77" width="7.6" height="6.03" fill="#3d7d8b"/>
<rect x="103" y="313.77" width="7.6" height="6.03" fill="#a0c166"/>
<rect x="110" y="313.77" width="21" height="6.03" fill="#cacf53"/>
<rect x="19" y="319.2" width="7.6" height="6.03" fill="#3d7d8b"/>
<rect x="26" y="319.2" width="7.6" height="6.03" fill="#40978f"/>
<rect x="33" y="319.2" width="7.6" height="6.03" fill="#74ae80"/>
<rect x="40" y="319.2" width="7.6" height="6.03" fill="#a0c166"/>
<rect x="47" y="319.2" width="14.6" height="6.03" fill="#4a3a72"/>
<rect x="61" y="319.2" width="7.6" height="6.03" fill="#4b557e"/>
<rect x="68" y="319.2" width="7.6" height="6.03" fill="#456a88"/>
<rect x="75" y="319.2" width="14.6" height="6.03" fill="#4a3a72"/>
<rect x="89" y="319.2" width="7.6" height="6.03" fill="#456a88"/>
<rect x="96" y="319.2" width="7.6" height="6.03" fill="#3d7d8b"/>
<rect x="103" y="319.2" width="28" height="6.03" fill="#cacf53"/>
<rect x="19" y="324.63" width="14.6" height="6.03" fill="#a0c166"/>
<rect x="33" y="324.63" width="7.6" height="6.03" fill="#cacf53"/>
<rect x="40" y="324.63" width="7.6" height="6.03" fill="#a0c166"/>
<rect x="47" y="324.63" width="7.6" height="6.03" fill="#441a5c"/>
<rect x="54" y="324.63" width="7.6" height="6.03" fill="#4a3a72"/>
<rect x="61" y="324.63" width="7.6" height="6.03" fill="#4b557e"/>
<rect x="68" y="324.63" width="7.6" height="6.03" fill="#4a3a72"/>
<rect x="75" y="324.63" width="28.6" height="6.03" fill="#4b557e"/>
<rect x="103" y="324.63" width="14.6" height="6.03" fill="#a0c166"/>
<rect x="117" y="324.63" width="7.6" height="6.03" fill="#74ae80"/>
<rect x="124" y="324.63" width="7" height="6.03" fill="#cacf53"/>
<rect x="19" y="330.06" width="21.6" height="6.03" fill="#a0c166"/>
<rect x="40" y="330.06" width="7.6" height="6.03" fill="#74ae80"/>
<rect x="47" y="330.06" width="7.6" height="6.03" fill="#4a3a72"/>
<rect x="54" y="330.06" width="14.6" height="6.03" fill="#4b557e"/>
<rect x="68" y="330.06" width="7.6" height="6.03" fill="#4a3a72"/>
<rect x="75" y="330.06" width="28.6" height="6.03" fill="#4b557e"/>
<rect x="103" y="330.06" width="7.6" height="6.03" fill="#cacf53"/>
<rect x="110" y="330.06" width="7.6" height="6.03" fill="#74ae80"/>
<rect x="117" y="330.06" width="14" height="6.03" fill="#a0c166"/>
<rect x="19" y="335.49" width="14.6" height="6.03" fill="#40978f"/>
<rect x="33" y="335.49" width="14.6" height="6.03" fill="#a0c166"/>
<rect x="47" y="335.49" width="21.6" height="6.03" fill="#4a3a72"/>
<rect x="68" y="335.49" width="7.6" height="6.03" fill="#4b557e"/>
<rect x="75" y="335.49" width="28.6" height="6.03" fill="#456a88"/>
<rect x="103" y="335.49" width="7.6" height="6.03" fill="#cacf53"/>
<rect x="110" y="335.49" width="7.6" height="6.03" fill="#a0c166"/>
<rect x="117" y="335.49" width="7.6" height="6.03" fill="#f0e132"/>
<rect x="124" y="335.49" width="7" height="6.03" fill="#a0c166"/>
<rect x="19" y="340.92" width="7.6" height="6.03" fill="#a0c166"/>
<rect x="26" y="340.92" width="7.6" height="6.03" fill="#40978f"/>
<rect x="33" y="340.92" width="14.6" height="6.03" fill="#a0c166"/>
<rect x="47" y="340.92" width="14.6" height="6.03" fill="#4b557e"/>
<rect x="61" y="340.92" width="7.6" height="6.03" fill="#4a3a72"/>
<rect x="68" y="340.92" width="14.6" height="6.03" fill="#4b557e"/>
<rect x="82" y="340.92" width="7.6" height="6.03" fill="#4a3a72"/>
<rect x="89" y="340.92" width="7.6" height="6.03" fill="#4b557e"/>
<rect x="96" y="340.92" width="7.6" height="6.03" fill="#456a88"/>
<rect x="103" y="340.92" width="7.6" height="6.03" fill="#f0e132"/>
<rect x="110" y="340.92" width="7.6" height="6.03" fill="#cacf53"/>
<rect x="117" y="340.92" width="7.6" height="6.03" fill="#a0c166"/>
<rect x="124" y="340.92" width="7" height="6.03" fill="#cacf53"/>
<rect x="19" y="346.35" width="7.6" height="6.03" fill="#4a3a72"/>
<rect x="26" y="346.35" width="7.6" height="6.03" fill="#4b557e"/>
<rect x="33" y="346.35" width="14.6" height="6.03" fill="#f0e132"/>
<rect x="47" y="346.35" width="7.6" height="6.03" fill="#456a88"/>
<rect x="54" y="346.35" width="7.6" height="6.03" fill="#441a5c"/>
<rect x="61" y="346.35" width="14.6" height="6.03" fill="#40978f"/>
<rect x="75" y="346.35" width="7.6" height="6.03" fill="#3d7d8b"/>
<rect x="82" y="346.35" width="7.6" height="6.03" fill="#456a88"/>
<rect x="89" y="346.35" width="7.6" height="6.03" fill="#3d7d8b"/>
<rect x="96" y="346.35" width="7.6" height="6.03" fill="#4b557e"/>
<rect x="103" y="346.35" width="7.6" height="6.03" fill="#3d7d8b"/>
<rect x="110" y="346.35" width="7.6" height="6.03" fill="#f0e132"/>
<rect x="117" y="346.35" width="7.6" height="6.03" fill="#a0c166"/>
<rect x="124" y="346.35" width="7" height="6.03" fill="#456a88"/>
<rect x="19" y="351.78" width="7.6" height="6.03" fill="#40978f"/>
<rect x="26" y="351.78" width="14.6" height="6.03" fill="#74ae80"/>
<rect x="40" y="351.78" width="14.6" height="6.03" fill="#3d7d8b"/>
<rect x="54" y="351.78" width="7.6" height="6.03" fill="#a0c166"/>
<rect x="61" y="351.78" width="14.6" height="6.03" fill="#456a88"/>
<rect x="75" y="351.78" width="7.6" height="6.03" fill="#441a5c"/>
<rect x="82" y="351.78" width="7.6" height="6.03" fill="#3d7d8b"/>
<rect x="89" y="351.78" width="7.6" height="6.03" fill="#441a5c"/>
<rect x="96" y="351.78" width="7.6" height="6.03" fill="#4b557e"/>
<rect x="103" y="351.78" width="21.6" height="6.03" fill="#a0c166"/>
<rect x="124" y="351.78" width="7" height="6.03" fill="#f0e132"/>
<rect x="19" y="357.21" width="7.6" height="6.03" fill="#456a88"/>
<rect x="26" y="357.21" width="7.6" height="6.03" fill="#3d7d8b"/>
<rect x="33" y="357.21" width="7.6" height="6.03" fill="#456a88"/>
<rect x="40" y="357.21" width="7.6" height="6.03" fill="#cacf53"/>
<rect x="47" y="357.21" width="14.6" height="6.03" fill="#4b557e"/>
<rect x="61" y="357.21" width="7.6" height="6.03" fill="#456a88"/>
<rect x="68" y="357.21" width="7.6" height="6.03" fill="#74ae80"/>
<rect x="75" y="357.21" width="14.6" height="6.03" fill="#4a3a72"/>
<rect x="89" y="357.21" width="7.6" height="6.03" fill="#456a88"/>
<rect x="96" y="357.21" width="7.6" height="6.03" fill="#3d7d8b"/>
<rect x="103" y="357.21" width="14.6" height="6.03" fill="#cacf53"/>
<rect x="117" y="357.21" width="7.6" height="6.03" fill="#74ae80"/>
<rect x="124" y="357.21" width="7" height="6.03" fill="#f0e132"/>
<rect x="19" y="362.64" width="7.6" height="6.03" fill="#456a88"/>
<rect x="26" y="362.64" width="7.6" height="6.03" fill="#4b557e"/>
<rect x="33" y="362.64" width="7.6" height="6.03" fill="#3d7d8b"/>
<rect x="40" y="362.64" width="7.6" height="6.03" fill="#a0c166"/>
<rect x="47" y="362.64" width="7.6" height="6.03" fill="#4b557e"/>
<rect x="54" y="362.64" width="7.6" height="6.03" fill="#456a88"/>
<rect x="61" y="362.64" width="7.6" height="6.03" fill="#3d7d8b"/>
<rect x="68" y="362.64" width="7.6" height="6.03" fill="#cacf53"/>
<rect x="75" y="362.64" width="7.6" height="6.03" fill="#441a5c"/>
<rect x="82" y="362.64" width="7.6" height="6.03" fill="#4a3a72"/>
<rect x="89" y="362.64" width="7.6" height="6.03" fill="#40978f"/>
<rect x="96" y="362.64" width="7.6" height="6.03" fill="#3d7d8b"/>
<rect x="103" y="362.64" width="7.6" height="6.03" fill="#a0c166"/>
<rect x="110" y="362.64" width="7.6" height="6.03" fill="#74ae80"/>
<rect x="117" y="362.64" width="7.6" height="6.03" fill="#cacf53"/>
<rect x="124" y="362.64" width="7" height="6.03" fill="#f0e132"/>
<rect x="19" y="368.07" width="7.6" height="5.43" fill="#456a88"/>
<rect x="26" y="368.07" width="14.6" height="5.43" fill="#a0c166"/>
<rect x="40" y="368.07" width="7.6" height="5.43" fill="#40978f"/>
<rect x="47" y="368.07" width="7.6" height="5.43" fill="#4a3a72"/>
<rect x="54" y="368.07" width="7.6" height="5.43" fill="#3d7d8b"/>
<rect x="61" y="368.07" width="7.6" height="5.43" fill="#cacf53"/>
<rect x="68" y="368.07" width="7.6" height="5.43" fill="#456a88"/>
<rect x="75" y="368.07" width="14.6" height="5.43" fill="#4a3a72"/>
<rect x="89" y="368.07" width="7.6" height="5.43" fill="#74ae80"/>
<rect x="96" y="368.07" width="7.6" height="5.43" fill="#cacf53"/>
<rect x="103" y="368.07" width="14.6" height="5.43" fill="#441a5c"/>
<rect x="117" y="368.07" width="14" height="5.43" fill="#cacf53"/>
<rect x="19" y="264.9" width="112" height="108.6" fill="none" stroke="#1a1a1a" stroke-width="0.9"/>
<text x="593.78" y="1083.66" font-size="20.8" fill="#1a1a1a" transform="scale(0.2250,0.25)">Tmem59</text>
<text x="593.78" y="1105.38" font-size="20.8" fill="#1a1a1a" transform="scale(0.2250,0.25)">Ibsp</text>
<text x="593.78" y="1127.1" font-size="20.8" fill="#1a1a1a" transform="scale(0.2250,0.25)">Wif1</text>
<text x="593.78" y="1148.82" font-size="20.8" fill="#1a1a1a" transform="scale(0.2250,0.25)">Vcan</text>
<text x="593.78" y="1170.54" font-size="20.8" fill="#1a1a1a" transform="scale(0.2250,0.25)">Dmp1</text>
<text x="593.78" y="1192.26" font-size="20.8" fill="#1a1a1a" transform="scale(0.2250,0.25)">Pgf</text>
<text x="593.78" y="1213.98" font-size="20.8" fill="#1a1a1a" transform="scale(0.2250,0.25)">Agt</text>
<text x="593.78" y="1235.7" font-size="20.8" fill="#1a1a1a" transform="scale(0.2250,0.25)">Angptl4</text>
<text x="593.78" y="1257.42" font-size="20.8" fill="#1a1a1a" transform="scale(0.2250,0.25)">Ndnf</text>
<text x="593.78" y="1279.14" font-size="20.8" fill="#1a1a1a" transform="scale(0.2250,0.25)">Mmp14</text>
<text x="593.78" y="1300.86" font-size="20.8" fill="#1a1a1a" transform="scale(0.2250,0.25)">Vstm4</text>
<text x="593.78" y="1322.58" font-size="20.8" fill="#1a1a1a" transform="scale(0.2250,0.25)">Loxl1</text>
<text x="593.78" y="1344.3" font-size="20.8" fill="#1a1a1a" transform="scale(0.2250,0.25)">Col8a1</text>
<text x="593.78" y="1366.02" font-size="20.8" fill="#1a1a1a" transform="scale(0.2250,0.25)">Cxcl12</text>
<text x="593.78" y="1387.74" font-size="20.8" fill="#1a1a1a" transform="scale(0.2250,0.25)">Mfap2</text>
<text x="593.78" y="1409.46" font-size="20.8" fill="#1a1a1a" transform="scale(0.2250,0.25)">Metrnl</text>
<text x="593.78" y="1431.18" font-size="20.8" fill="#1a1a1a" transform="scale(0.2250,0.25)">Col22a1</text>
<text x="593.78" y="1452.9" font-size="20.8" fill="#1a1a1a" transform="scale(0.2250,0.25)">Chn1</text>
<text x="593.78" y="1474.62" font-size="20.8" fill="#1a1a1a" transform="scale(0.2250,0.25)">Wisp1</text>
<text x="593.78" y="1496.34" font-size="20.8" fill="#1a1a1a" transform="scale(0.2250,0.25)">Srpx2</text>
<text x="0" y="0" font-size="7.2" fill="#111" text-anchor="middle" transform="translate(13.9,317.3) rotate(-90)">secreted</text>
<rect x="19" y="377.9" width="7.6" height="6.05" fill="#4b557e"/>
<rect x="26" y="377.9" width="7.6" height="6.05" fill="#3d7d8b"/>
<rect x="33" y="377.9" width="14.6" height="6.05" fill="#74ae80"/>
<rect x="47" y="377.9" width="14.6" height="6.05" fill="#4a3a72"/>
<rect x="61" y="377.9" width="14.6" height="6.05" fill="#456a88"/>
<rect x="75" y="377.9" width="7.6" height="6.05" fill="#4b557e"/>
<rect x="82" y="377.9" width="7.6" height="6.05" fill="#441a5c"/>
<rect x="89" y="377.9" width="7.6" height="6.05" fill="#456a88"/>
<rect x="96" y="377.9" width="7.6" height="6.05" fill="#a0c166"/>
<rect x="103" y="377.9" width="7.6" height="6.05" fill="#74ae80"/>
<rect x="110" y="377.9" width="7.6" height="6.05" fill="#a0c166"/>
<rect x="117" y="377.9" width="7.6" height="6.05" fill="#f0e132"/>
<rect x="124" y="377.9" width="7" height="6.05" fill="#a0c166"/>
<rect x="19" y="383.35" width="7.6" height="6.05" fill="#441a5c"/>
<rect x="26" y="383.35" width="14.6" height="6.05" fill="#456a88"/>
<rect x="40" y="383.35" width="7.6" height="6.05" fill="#40978f"/>
<rect x="47" y="383.35" width="14.6" height="6.05" fill="#4a3a72"/>
<rect x="61" y="383.35" width="7.6" height="6.05" fill="#456a88"/>
<rect x="68" y="383.35" width="7.6" height="6.05" fill="#74ae80"/>
<rect x="75" y="383.35" width="7.6" height="6.05" fill="#456a88"/>
<rect x="82" y="383.35" width="7.6" height="6.05" fill="#4b557e"/>
<rect x="89" y="383.35" width="7.6" height="6.05" fill="#456a88"/>
<rect x="96" y="383.35" width="7.6" height="6.05" fill="#74ae80"/>
<rect x="103" y="383.35" width="21.6" height="6.05" fill="#cacf53"/>
<rect x="124" y="383.35" width="7" height="6.05" fill="#f0e132"/>
<rect x="19" y="388.79" width="7.6" height="6.05" fill="#4a3a72"/>
<rect x="26" y="388.79" width="7.6" height="6.05" fill="#3d7d8b"/>
<rect x="33" y="388.79" width="7.6" height="6.05" fill="#f0e132"/>
<rect x="40" y="388.79" width="7.6" height="6.05" fill="#74ae80"/>
<rect x="47" y="388.79" width="14.6" height="6.05" fill="#441a5c"/>
<rect x="61" y="388.79" width="7.6" height="6.05" fill="#74ae80"/>
<rect x="68" y="388.79" width="7.6" height="6.05" fill="#3d7d8b"/>
<rect x="75" y="388.79" width="7.6" height="6.05" fill="#4b557e"/>
<rect x="82" y="388.79" width="7.6" height="6.05" fill="#4a3a72"/>
<rect x="89" y="388.79" width="7.6" height="6.05" fill="#40978f"/>
<rect x="96" y="388.79" width="7.6" height="6.05" fill="#a0c166"/>
<rect x="103" y="388.79" width="7.6" height="6.05" fill="#456a88"/>
<rect x="110" y="388.79" width="7.6" height="6.05" fill="#74ae80"/>
<rect x="117" y="388.79" width="14" height="6.05" fill="#cacf53"/>
<rect x="19" y="394.24" width="7.6" height="6.05" fill="#3d7d8b"/>
<rect x="26" y="394.24" width="14.6" height="6.05" fill="#74ae80"/>
<rect x="40" y="394.24" width="7.6" height="6.05" fill="#cacf53"/>
<rect x="47" y="394.24" width="14.6" height="6.05" fill="#441a5c"/>
<rect x="61" y="394.24" width="7.6" height="6.05" fill="#4b557e"/>
<rect x="68" y="394.24" width="7.6" height="6.05" fill="#456a88"/>
<rect x="75" y="394.24" width="7.6" height="6.05" fill="#4a3a72"/>
<rect x="82" y="394.24" width="7.6" height="6.05" fill="#456a88"/>
<rect x="89" y="394.24" width="7.6" height="6.05" fill="#3d7d8b"/>
<rect x="96" y="394.24" width="7.6" height="6.05" fill="#456a88"/>
<rect x="103" y="394.24" width="28" height="6.05" fill="#cacf53"/>
<rect x="19" y="399.69" width="7.6" height="6.05" fill="#40978f"/>
<rect x="26" y="399.69" width="21.6" height="6.05" fill="#74ae80"/>
<rect x="47" y="399.69" width="14.6" height="6.05" fill="#441a5c"/>
<rect x="61" y="399.69" width="14.6" height="6.05" fill="#456a88"/>
<rect x="75" y="399.69" width="7.6" height="6.05" fill="#4a3a72"/>
<rect x="82" y="399.69" width="7.6" height="6.05" fill="#441a5c"/>
<rect x="89" y="399.69" width="14.6" height="6.05" fill="#3d7d8b"/>
<rect x="103" y="399.69" width="7.6" height="6.05" fill="#a0c166"/>
<rect x="110" y="399.69" width="14.6" height="6.05" fill="#cacf53"/>
<rect x="124" y="399.69" width="7" height="6.05" fill="#a0c166"/>
<rect x="19" y="405.13" width="7.6" height="6.05" fill="#3d7d8b"/>
<rect x="26" y="405.13" width="21.6" height="6.05" fill="#74ae80"/>
<rect x="47" y="405.13" width="14.6" height="6.05" fill="#4a3a72"/>
<rect x="61" y="405.13" width="14.6" height="6.05" fill="#4b557e"/>
<rect x="75" y="405.13" width="14.6" height="6.05" fill="#4a3a72"/>
<rect x="89" y="405.13" width="7.6" height="6.05" fill="#4b557e"/>
<rect x="96" y="405.13" width="7.6" height="6.05" fill="#456a88"/>
<rect x="103" y="405.13" width="28" height="6.05" fill="#cacf53"/>
<rect x="19" y="410.58" width="7.6" height="6.05" fill="#456a88"/>
<rect x="26" y="410.58" width="14.6" height="6.05" fill="#74ae80"/>
<rect x="40" y="410.58" width="7.6" height="6.05" fill="#a0c166"/>
<rect x="47" y="410.58" width="7.6" height="6.05" fill="#4a3a72"/>
<rect x="54" y="410.58" width="7.6" height="6.05" fill="#4b557e"/>
<rect x="61" y="410.58" width="7.6" height="6.05" fill="#4a3a72"/>
<rect x="68" y="410.58" width="7.6" height="6.05" fill="#456a88"/>
<rect x="75" y="410.58" width="7.6" height="6.05" fill="#4a3a72"/>
<rect x="82" y="410.58" width="14.6" height="6.05" fill="#4b557e"/>
<rect x="96" y="410.58" width="7.6" height="6.05" fill="#3d7d8b"/>
<rect x="103" y="410.58" width="7.6" height="6.05" fill="#a0c166"/>
<rect x="110" y="410.58" width="21" height="6.05" fill="#cacf53"/>
<rect x="19" y="416.03" width="14.6" height="6.05" fill="#74ae80"/>
<rect x="33" y="416.03" width="7.6" height="6.05" fill="#a0c166"/>
<rect x="40" y="416.03" width="7.6" height="6.05" fill="#74ae80"/>
<rect x="47" y="416.03" width="7.6" height="6.05" fill="#4a3a72"/>
<rect x="54" y="416.03" width="7.6" height="6.05" fill="#4b557e"/>
<rect x="61" y="416.03" width="7.6" height="6.05" fill="#4a3a72"/>
<rect x="68" y="416.03" width="7.6" height="6.05" fill="#4b557e"/>
<rect x="75" y="416.03" width="7.6" height="6.05" fill="#4a3a72"/>
<rect x="82" y="416.03" width="7.6" height="6.05" fill="#4b557e"/>
<rect x="89" y="416.03" width="14.6" height="6.05" fill="#456a88"/>
<rect x="103" y="416.03" width="7.6" height="6.05" fill="#f0e132"/>
<rect x="110" y="416.03" width="7.6" height="6.05" fill="#cacf53"/>
<rect x="117" y="416.03" width="7.6" height="6.05" fill="#a0c166"/>
<rect x="124" y="416.03" width="7" height="6.05" fill="#cacf53"/>
<rect x="19" y="421.47" width="7.6" height="6.05" fill="#3d7d8b"/>
<rect x="26" y="421.47" width="7.6" height="6.05" fill="#40978f"/>
<rect x="33" y="421.47" width="7.6" height="6.05" fill="#74ae80"/>
<rect x="40" y="421.47" width="7.6" height="6.05" fill="#cacf53"/>
<rect x="47" y="421.47" width="21.6" height="6.05" fill="#4a3a72"/>
<rect x="68" y="421.47" width="7.6" height="6.05" fill="#456a88"/>
<rect x="75" y="421.47" width="7.6" height="6.05" fill="#4a3a72"/>
<rect x="82" y="421.47" width="7.6" height="6.05" fill="#456a88"/>
<rect x="89" y="421.47" width="7.6" height="6.05" fill="#4a3a72"/>
<rect x="96" y="421.47" width="7.6" height="6.05" fill="#456a88"/>
<rect x="103" y="421.47" width="7.6" height="6.05" fill="#cacf53"/>
<rect x="110" y="421.47" width="7.6" height="6.05" fill="#a0c166"/>
<rect x="117" y="421.47" width="14" height="6.05" fill="#cacf53"/>
<rect x="19" y="426.92" width="7.6" height="6.05" fill="#3d7d8b"/>
<rect x="26" y="426.92" width="7.6" height="6.05" fill="#a0c166"/>
<rect x="33" y="426.92" width="7.6" height="6.05" fill="#74ae80"/>
<rect x="40" y="426.92" width="7.6" height="6.05" fill="#cacf53"/>
<rect x="47" y="426.92" width="21.6" height="6.05" fill="#4a3a72"/>
<rect x="68" y="426.92" width="7.6" height="6.05" fill="#456a88"/>
<rect x="75" y="426.92" width="7.6" height="6.05" fill="#4a3a72"/>
<rect x="82" y="426.92" width="7.6" height="6.05" fill="#4b557e"/>
<rect x="89" y="426.92" width="7.6" height="6.05" fill="#4a3a72"/>
<rect x="96" y="426.92" width="7.6" height="6.05" fill="#3d7d8b"/>
<rect x="103" y="426.92" width="7.6" height="6.05" fill="#cacf53"/>
<rect x="110" y="426.92" width="14.6" height="6.05" fill="#a0c166"/>
<rect x="124" y="426.92" width="7" height="6.05" fill="#cacf53"/>
<rect x="19" y="432.37" width="14.6" height="6.05" fill="#a0c166"/>
<rect x="33" y="432.37" width="14.6" height="6.05" fill="#74ae80"/>
<rect x="47" y="432.37" width="21.6" height="6.05" fill="#4a3a72"/>
<rect x="68" y="432.37" width="21.6" height="6.05" fill="#4b557e"/>
<rect x="89" y="432.37" width="7.6" height="6.05" fill="#4a3a72"/>
<rect x="96" y="432.37" width="7.6" height="6.05" fill="#3d7d8b"/>
<rect x="103" y="432.37" width="14.6" height="6.05" fill="#a0c166"/>
<rect x="117" y="432.37" width="7.6" height="6.05" fill="#cacf53"/>
<rect x="124" y="432.37" width="7" height="6.05" fill="#a0c166"/>
<rect x="19" y="437.81" width="21.6" height="6.05" fill="#456a88"/>
<rect x="40" y="437.81" width="7.6" height="6.05" fill="#f0e132"/>
<rect x="47" y="437.81" width="7.6" height="6.05" fill="#4b557e"/>
<rect x="54" y="437.81" width="7.6" height="6.05" fill="#441a5c"/>
<rect x="61" y="437.81" width="7.6" height="6.05" fill="#4a3a72"/>
<rect x="68" y="437.81" width="7.6" height="6.05" fill="#3d7d8b"/>
<rect x="75" y="437.81" width="7.6" height="6.05" fill="#4b557e"/>
<rect x="82" y="437.81" width="7.6" height="6.05" fill="#4a3a72"/>
<rect x="89" y="437.81" width="7.6" height="6.05" fill="#a0c166"/>
<rect x="96" y="437.81" width="7.6" height="6.05" fill="#40978f"/>
<rect x="103" y="437.81" width="7.6" height="6.05" fill="#a0c166"/>
<rect x="110" y="437.81" width="7.6" height="6.05" fill="#3d7d8b"/>
<rect x="117" y="437.81" width="7.6" height="6.05" fill="#cacf53"/>
<rect x="124" y="437.81" width="7" height="6.05" fill="#a0c166"/>
<rect x="19" y="443.26" width="28.6" height="6.05" fill="#74ae80"/>
<rect x="47" y="443.26" width="14.6" height="6.05" fill="#441a5c"/>
<rect x="61" y="443.26" width="14.6" height="6.05" fill="#4b557e"/>
<rect x="75" y="443.26" width="7.6" height="6.05" fill="#74ae80"/>
<rect x="82" y="443.26" width="7.6" height="6.05" fill="#40978f"/>
<rect x="89" y="443.26" width="14.6" height="6.05" fill="#3d7d8b"/>
<rect x="103" y="443.26" width="7.6" height="6.05" fill="#456a88"/>
<rect x="110" y="443.26" width="7.6" height="6.05" fill="#f0e132"/>
<rect x="117" y="443.26" width="7.6" height="6.05" fill="#74ae80"/>
<rect x="124" y="443.26" width="7" height="6.05" fill="#40978f"/>
<rect x="19" y="448.71" width="7.6" height="6.05" fill="#4b557e"/>
<rect x="26" y="448.71" width="14.6" height="6.05" fill="#4a3a72"/>
<rect x="40" y="448.71" width="7.6" height="6.05" fill="#4b557e"/>
<rect x="47" y="448.71" width="7.6" height="6.05" fill="#4a3a72"/>
<rect x="54" y="448.71" width="7.6" height="6.05" fill="#40978f"/>
<rect x="61" y="448.71" width="7.6" height="6.05" fill="#cacf53"/>
<rect x="68" y="448.71" width="7.6" height="6.05" fill="#3d7d8b"/>
<rect x="75" y="448.71" width="7.6" height="6.05" fill="#4b557e"/>
<rect x="82" y="448.71" width="7.6" height="6.05" fill="#74ae80"/>
<rect x="89" y="448.71" width="7.6" height="6.05" fill="#f0e132"/>
<rect x="96" y="448.71" width="7.6" height="6.05" fill="#a0c166"/>
<rect x="103" y="448.71" width="14.6" height="6.05" fill="#74ae80"/>
<rect x="117" y="448.71" width="7.6" height="6.05" fill="#456a88"/>
<rect x="124" y="448.71" width="7" height="6.05" fill="#74ae80"/>
<rect x="19" y="454.15" width="7.6" height="5.45" fill="#4a3a72"/>
<rect x="26" y="454.15" width="7.6" height="5.45" fill="#3d7d8b"/>
<rect x="33" y="454.15" width="7.6" height="5.45" fill="#40978f"/>
<rect x="40" y="454.15" width="7.6" height="5.45" fill="#4b557e"/>
<rect x="47" y="454.15" width="7.6" height="5.45" fill="#456a88"/>
<rect x="54" y="454.15" width="7.6" height="5.45" fill="#40978f"/>
<rect x="61" y="454.15" width="7.6" height="5.45" fill="#cacf53"/>
<rect x="68" y="454.15" width="7.6" height="5.45" fill="#4b557e"/>
<rect x="75" y="454.15" width="7.6" height="5.45" fill="#456a88"/>
<rect x="82" y="454.15" width="7.6" height="5.45" fill="#40978f"/>
<rect x="89" y="454.15" width="14.6" height="5.45" fill="#441a5c"/>
<rect x="103" y="454.15" width="7.6" height="5.45" fill="#74ae80"/>
<rect x="110" y="454.15" width="7.6" height="5.45" fill="#f0e132"/>
<rect x="117" y="454.15" width="7.6" height="5.45" fill="#cacf53"/>
<rect x="124" y="454.15" width="7" height="5.45" fill="#a0c166"/>
<rect x="19" y="377.9" width="112" height="81.7" fill="none" stroke="#1a1a1a" stroke-width="0.9"/>
<text x="593.78" y="1535.69" font-size="20.8" fill="#1a1a1a" transform="scale(0.2250,0.25)">Col13a1</text>
<text x="593.78" y="1557.48" font-size="20.8" fill="#1a1a1a" transform="scale(0.2250,0.25)">Slc36a2</text>
<text x="593.78" y="1579.27" font-size="20.8" fill="#1a1a1a" transform="scale(0.2250,0.25)">Hpgd</text>
<text x="593.78" y="1601.05" font-size="20.8" fill="#1a1a1a" transform="scale(0.2250,0.25)">Gja1</text>
<text x="593.78" y="1622.84" font-size="20.8" fill="#1a1a1a" transform="scale(0.2250,0.25)">Tpm1</text>
<text x="593.78" y="1644.63" font-size="20.8" fill="#1a1a1a" transform="scale(0.2250,0.25)">Cnn2</text>
<text x="593.78" y="1666.41" font-size="20.8" fill="#1a1a1a" transform="scale(0.2250,0.25)">Dapk2</text>
<text x="593.78" y="1688.2" font-size="20.8" fill="#1a1a1a" transform="scale(0.2250,0.25)">Ppfibp2</text>
<text x="593.78" y="1709.99" font-size="20.8" fill="#1a1a1a" transform="scale(0.2250,0.25)">Kcnk2</text>
<text x="593.78" y="1731.77" font-size="20.8" fill="#1a1a1a" transform="scale(0.2250,0.25)">Tnfrsf19</text>
<text x="593.78" y="1753.56" font-size="20.8" fill="#1a1a1a" transform="scale(0.2250,0.25)">Hvcn1</text>
<text x="593.78" y="1775.35" font-size="20.8" fill="#1a1a1a" transform="scale(0.2250,0.25)">Fam78b</text>
<text x="593.78" y="1797.13" font-size="20.8" fill="#1a1a1a" transform="scale(0.2250,0.25)">Cldn10</text>
<text x="593.78" y="1818.92" font-size="20.8" fill="#1a1a1a" transform="scale(0.2250,0.25)">Car3</text>
<text x="593.78" y="1840.71" font-size="20.8" fill="#1a1a1a" transform="scale(0.2250,0.25)">Ramp1</text>
<text x="0" y="0" font-size="7.2" fill="#111" text-anchor="middle" transform="translate(13.9,413.6) rotate(-90)">other</text>
<rect x="178.7" y="38.6" width="14.45" height="5.87" fill="#4b557e"/>
<rect x="192.55" y="38.6" width="14.45" height="5.87" fill="#456a88"/>
<rect x="206.4" y="38.6" width="7.53" height="5.87" fill="#cacf53"/>
<rect x="213.32" y="38.6" width="7.53" height="5.87" fill="#74ae80"/>
<rect x="220.25" y="38.6" width="14.45" height="5.87" fill="#a0c166"/>
<rect x="234.1" y="38.6" width="7.53" height="5.87" fill="#cacf53"/>
<rect x="241.02" y="38.6" width="7.53" height="5.87" fill="#a0c166"/>
<rect x="247.95" y="38.6" width="14.45" height="5.87" fill="#74ae80"/>
<rect x="261.8" y="38.6" width="7.53" height="5.87" fill="#4b557e"/>
<rect x="268.73" y="38.6" width="14.45" height="5.87" fill="#4a3a72"/>
<rect x="282.57" y="38.6" width="6.93" height="5.87" fill="#4b557e"/>
<rect x="178.7" y="43.87" width="14.45" height="5.87" fill="#4b557e"/>
<rect x="192.55" y="43.87" width="7.53" height="5.87" fill="#456a88"/>
<rect x="199.47" y="43.87" width="7.53" height="5.87" fill="#4b557e"/>
<rect x="206.4" y="43.87" width="21.38" height="5.87" fill="#cacf53"/>
<rect x="227.18" y="43.87" width="21.38" height="5.87" fill="#a0c166"/>
<rect x="247.95" y="43.87" width="14.45" height="5.87" fill="#74ae80"/>
<rect x="261.8" y="43.87" width="14.45" height="5.87" fill="#4a3a72"/>
<rect x="275.65" y="43.87" width="13.85" height="5.87" fill="#4b557e"/>
<rect x="178.7" y="49.13" width="7.53" height="5.27" fill="#40978f"/>
<rect x="185.62" y="49.13" width="7.53" height="5.27" fill="#a0c166"/>
<rect x="192.55" y="49.13" width="7.53" height="5.27" fill="#4a3a72"/>
<rect x="199.47" y="49.13" width="7.53" height="5.27" fill="#4b557e"/>
<rect x="206.4" y="49.13" width="7.53" height="5.27" fill="#f0e132"/>
<rect x="213.32" y="49.13" width="7.53" height="5.27" fill="#a0c166"/>
<rect x="220.25" y="49.13" width="7.53" height="5.27" fill="#40978f"/>
<rect x="227.18" y="49.13" width="7.53" height="5.27" fill="#3d7d8b"/>
<rect x="234.1" y="49.13" width="7.53" height="5.27" fill="#74ae80"/>
<rect x="241.02" y="49.13" width="7.53" height="5.27" fill="#3d7d8b"/>
<rect x="247.95" y="49.13" width="7.53" height="5.27" fill="#4b557e"/>
<rect x="254.88" y="49.13" width="7.53" height="5.27" fill="#40978f"/>
<rect x="261.8" y="49.13" width="14.45" height="5.27" fill="#3d7d8b"/>
<rect x="275.65" y="49.13" width="7.53" height="5.27" fill="#441a5c"/>
<rect x="282.57" y="49.13" width="6.93" height="5.27" fill="#cacf53"/>
<rect x="178.7" y="38.6" width="110.8" height="15.8" fill="none" stroke="#1a1a1a" stroke-width="0.9"/>
<text x="1301.33" y="173.73" font-size="20" fill="#1a1a1a" transform="scale(0.2250,0.25)">Sox9</text>
<text x="1301.33" y="194.8" font-size="20" fill="#1a1a1a" transform="scale(0.2250,0.25)">Acan</text>
<text x="1301.33" y="215.87" font-size="20" fill="#1a1a1a" transform="scale(0.2250,0.25)">Col2a1</text>
<text x="0" y="0" font-size="7.2" fill="#111" text-anchor="middle" transform="translate(173.9,49.5) rotate(-90)">known</text>
<rect x="178.7" y="60" width="14.45" height="5.73" fill="#74ae80"/>
<rect x="192.55" y="60" width="7.53" height="5.73" fill="#40978f"/>
<rect x="199.47" y="60" width="7.53" height="5.73" fill="#74ae80"/>
<rect x="206.4" y="60" width="7.53" height="5.73" fill="#441a5c"/>
<rect x="213.32" y="60" width="7.53" height="5.73" fill="#40978f"/>
<rect x="220.25" y="60" width="7.53" height="5.73" fill="#456a88"/>
<rect x="227.18" y="60" width="7.53" height="5.73" fill="#40978f"/>
<rect x="234.1" y="60" width="7.53" height="5.73" fill="#441a5c"/>
<rect x="241.02" y="60" width="7.53" height="5.73" fill="#74ae80"/>
<rect x="247.95" y="60" width="7.53" height="5.73" fill="#3d7d8b"/>
<rect x="254.88" y="60" width="7.53" height="5.73" fill="#74ae80"/>
<rect x="261.8" y="60" width="7.53" height="5.73" fill="#4b557e"/>
<rect x="268.73" y="60" width="7.53" height="5.73" fill="#f0e132"/>
<rect x="275.65" y="60" width="7.53" height="5.73" fill="#40978f"/>
<rect x="282.57" y="60" width="6.93" height="5.73" fill="#a0c166"/>
<rect x="178.7" y="65.13" width="14.45" height="5.73" fill="#cacf53"/>
<rect x="192.55" y="65.13" width="7.53" height="5.73" fill="#4a3a72"/>
<rect x="199.47" y="65.13" width="14.45" height="5.73" fill="#4b557e"/>
<rect x="213.32" y="65.13" width="7.53" height="5.73" fill="#74ae80"/>
<rect x="220.25" y="65.13" width="7.53" height="5.73" fill="#a0c166"/>
<rect x="227.18" y="65.13" width="7.53" height="5.73" fill="#40978f"/>
<rect x="234.1" y="65.13" width="7.53" height="5.73" fill="#3d7d8b"/>
<rect x="241.02" y="65.13" width="7.53" height="5.73" fill="#a0c166"/>
<rect x="247.95" y="65.13" width="7.53" height="5.73" fill="#4b557e"/>
<rect x="254.88" y="65.13" width="7.53" height="5.73" fill="#74ae80"/>
<rect x="261.8" y="65.13" width="7.53" height="5.73" fill="#441a5c"/>
<rect x="268.73" y="65.13" width="7.53" height="5.73" fill="#456a88"/>
<rect x="275.65" y="65.13" width="7.53" height="5.73" fill="#74ae80"/>
<rect x="282.57" y="65.13" width="6.93" height="5.73" fill="#3d7d8b"/>
<rect x="178.7" y="70.26" width="7.53" height="5.73" fill="#456a88"/>
<rect x="185.62" y="70.26" width="7.53" height="5.73" fill="#3d7d8b"/>
<rect x="192.55" y="70.26" width="7.53" height="5.73" fill="#4b557e"/>
<rect x="199.47" y="70.26" width="7.53" height="5.73" fill="#3d7d8b"/>
<rect x="206.4" y="70.26" width="7.53" height="5.73" fill="#40978f"/>
<rect x="213.32" y="70.26" width="7.53" height="5.73" fill="#4b557e"/>
<rect x="220.25" y="70.26" width="7.53" height="5.73" fill="#3d7d8b"/>
<rect x="227.18" y="70.26" width="7.53" height="5.73" fill="#74ae80"/>
<rect x="234.1" y="70.26" width="14.45" height="5.73" fill="#4a3a72"/>
<rect x="247.95" y="70.26" width="7.53" height="5.73" fill="#4b557e"/>
<rect x="254.88" y="70.26" width="7.53" height="5.73" fill="#4a3a72"/>
<rect x="261.8" y="70.26" width="7.53" height="5.73" fill="#cacf53"/>
<rect x="268.73" y="70.26" width="7.53" height="5.73" fill="#a0c166"/>
<rect x="275.65" y="70.26" width="13.85" height="5.73" fill="#cacf53"/>
<rect x="178.7" y="75.38" width="7.53" height="5.73" fill="#456a88"/>
<rect x="185.62" y="75.38" width="7.53" height="5.73" fill="#74ae80"/>
<rect x="192.55" y="75.38" width="7.53" height="5.73" fill="#3d7d8b"/>
<rect x="199.47" y="75.38" width="7.53" height="5.73" fill="#cacf53"/>
<rect x="206.4" y="75.38" width="7.53" height="5.73" fill="#3d7d8b"/>
<rect x="213.32" y="75.38" width="7.53" height="5.73" fill="#441a5c"/>
<rect x="220.25" y="75.38" width="7.53" height="5.73" fill="#40978f"/>
<rect x="227.18" y="75.38" width="7.53" height="5.73" fill="#456a88"/>
<rect x="234.1" y="75.38" width="7.53" height="5.73" fill="#74ae80"/>
<rect x="241.02" y="75.38" width="7.53" height="5.73" fill="#456a88"/>
<rect x="247.95" y="75.38" width="7.53" height="5.73" fill="#cacf53"/>
<rect x="254.88" y="75.38" width="7.53" height="5.73" fill="#74ae80"/>
<rect x="261.8" y="75.38" width="7.53" height="5.73" fill="#40978f"/>
<rect x="268.73" y="75.38" width="7.53" height="5.73" fill="#3d7d8b"/>
<rect x="275.65" y="75.38" width="7.53" height="5.73" fill="#74ae80"/>
<rect x="282.57" y="75.38" width="6.93" height="5.73" fill="#441a5c"/>
<rect x="178.7" y="80.51" width="7.53" height="5.73" fill="#40978f"/>
<rect x="185.62" y="80.51" width="7.53" height="5.73" fill="#3d7d8b"/>
<rect x="192.55" y="80.51" width="7.53" height="5.73" fill="#cacf53"/>
<rect x="199.47" y="80.51" width="7.53" height="5.73" fill="#f0e132"/>
<rect x="206.4" y="80.51" width="7.53" height="5.73" fill="#456a88"/>
<rect x="213.32" y="80.51" width="7.53" height="5.73" fill="#4a3a72"/>
<rect x="220.25" y="80.51" width="7.53" height="5.73" fill="#441a5c"/>
<rect x="227.18" y="80.51" width="7.53" height="5.73" fill="#74ae80"/>
<rect x="234.1" y="80.51" width="14.45" height="5.73" fill="#4a3a72"/>
<rect x="247.95" y="80.51" width="7.53" height="5.73" fill="#a0c166"/>
<rect x="254.88" y="80.51" width="7.53" height="5.73" fill="#74ae80"/>
<rect x="261.8" y="80.51" width="7.53" height="5.73" fill="#3d7d8b"/>
<rect x="268.73" y="80.51" width="7.53" height="5.73" fill="#74ae80"/>
<rect x="275.65" y="80.51" width="13.85" height="5.73" fill="#3d7d8b"/>
<rect x="178.7" y="85.64" width="7.53" height="5.73" fill="#4a3a72"/>
<rect x="185.62" y="85.64" width="7.53" height="5.73" fill="#3d7d8b"/>
<rect x="192.55" y="85.64" width="7.53" height="5.73" fill="#cacf53"/>
<rect x="199.47" y="85.64" width="7.53" height="5.73" fill="#f0e132"/>
<rect x="206.4" y="85.64" width="7.53" height="5.73" fill="#4b557e"/>
<rect x="213.32" y="85.64" width="7.53" height="5.73" fill="#456a88"/>
<rect x="220.25" y="85.64" width="14.45" height="5.73" fill="#74ae80"/>
<rect x="234.1" y="85.64" width="14.45" height="5.73" fill="#4a3a72"/>
<rect x="247.95" y="85.64" width="7.53" height="5.73" fill="#a0c166"/>
<rect x="254.88" y="85.64" width="7.53" height="5.73" fill="#cacf53"/>
<rect x="261.8" y="85.64" width="7.53" height="5.73" fill="#4a3a72"/>
<rect x="268.73" y="85.64" width="14.45" height="5.73" fill="#74ae80"/>
<rect x="282.57" y="85.64" width="6.93" height="5.73" fill="#3d7d8b"/>
<rect x="178.7" y="90.77" width="7.53" height="5.73" fill="#40978f"/>
<rect x="185.62" y="90.77" width="7.53" height="5.73" fill="#3d7d8b"/>
<rect x="192.55" y="90.77" width="7.53" height="5.73" fill="#441a5c"/>
<rect x="199.47" y="90.77" width="7.53" height="5.73" fill="#4a3a72"/>
<rect x="206.4" y="90.77" width="14.45" height="5.73" fill="#a0c166"/>
<rect x="220.25" y="90.77" width="14.45" height="5.73" fill="#3d7d8b"/>
<rect x="234.1" y="90.77" width="7.53" height="5.73" fill="#f0e132"/>
<rect x="241.02" y="90.77" width="7.53" height="5.73" fill="#cacf53"/>
<rect x="247.95" y="90.77" width="7.53" height="5.73" fill="#a0c166"/>
<rect x="254.88" y="90.77" width="7.53" height="5.73" fill="#40978f"/>
<rect x="261.8" y="90.77" width="7.53" height="5.73" fill="#456a88"/>
<rect x="268.73" y="90.77" width="7.53" height="5.73" fill="#4b557e"/>
<rect x="275.65" y="90.77" width="7.53" height="5.73" fill="#456a88"/>
<rect x="282.57" y="90.77" width="6.93" height="5.73" fill="#4b557e"/>
<rect x="178.7" y="95.89" width="7.53" height="5.73" fill="#a0c166"/>
<rect x="185.62" y="95.89" width="7.53" height="5.73" fill="#3d7d8b"/>
<rect x="192.55" y="95.89" width="7.53" height="5.73" fill="#4b557e"/>
<rect x="199.47" y="95.89" width="7.53" height="5.73" fill="#456a88"/>
<rect x="206.4" y="95.89" width="7.53" height="5.73" fill="#40978f"/>
<rect x="213.32" y="95.89" width="7.53" height="5.73" fill="#74ae80"/>
<rect x="220.25" y="95.89" width="7.53" height="5.73" fill="#3d7d8b"/>
<rect x="227.18" y="95.89" width="14.45" height="5.73" fill="#cacf53"/>
<rect x="241.02" y="95.89" width="7.53" height="5.73" fill="#a0c166"/>
<rect x="247.95" y="95.89" width="7.53" height="5.73" fill="#40978f"/>
<rect x="254.88" y="95.89" width="7.53" height="5.73" fill="#74ae80"/>
<rect x="261.8" y="95.89" width="7.53" height="5.73" fill="#3d7d8b"/>
<rect x="268.73" y="95.89" width="14.45" height="5.73" fill="#441a5c"/>
<rect x="282.57" y="95.89" width="6.93" height="5.73" fill="#4b557e"/>
<rect x="178.7" y="101.02" width="14.45" height="5.73" fill="#4b557e"/>
<rect x="192.55" y="101.02" width="7.53" height="5.73" fill="#40978f"/>
<rect x="199.47" y="101.02" width="7.53" height="5.73" fill="#4a3a72"/>
<rect x="206.4" y="101.02" width="7.53" height="5.73" fill="#74ae80"/>
<rect x="213.32" y="101.02" width="7.53" height="5.73" fill="#cacf53"/>
<rect x="220.25" y="101.02" width="7.53" height="5.73" fill="#74ae80"/>
<rect x="227.18" y="101.02" width="28.3" height="5.73" fill="#a0c166"/>
<rect x="254.88" y="101.02" width="7.53" height="5.73" fill="#cacf53"/>
<rect x="261.8" y="101.02" width="7.53" height="5.73" fill="#441a5c"/>
<rect x="268.73" y="101.02" width="7.53" height="5.73" fill="#4a3a72"/>
<rect x="275.65" y="101.02" width="7.53" height="5.73" fill="#456a88"/>
<rect x="282.57" y="101.02" width="6.93" height="5.73" fill="#3d7d8b"/>
<rect x="178.7" y="106.15" width="14.45" height="5.73" fill="#456a88"/>
<rect x="192.55" y="106.15" width="7.53" height="5.73" fill="#4b557e"/>
<rect x="199.47" y="106.15" width="7.53" height="5.73" fill="#456a88"/>
<rect x="206.4" y="106.15" width="14.45" height="5.73" fill="#74ae80"/>
<rect x="220.25" y="106.15" width="14.45" height="5.73" fill="#a0c166"/>
<rect x="234.1" y="106.15" width="7.53" height="5.73" fill="#cacf53"/>
<rect x="241.02" y="106.15" width="7.53" height="5.73" fill="#74ae80"/>
<rect x="247.95" y="106.15" width="7.53" height="5.73" fill="#a0c166"/>
<rect x="254.88" y="106.15" width="7.53" height="5.73" fill="#cacf53"/>
<rect x="261.8" y="106.15" width="7.53" height="5.73" fill="#4a3a72"/>
<rect x="268.73" y="106.15" width="7.53" height="5.73" fill="#441a5c"/>
<rect x="275.65" y="106.15" width="7.53" height="5.73" fill="#4b557e"/>
<rect x="282.57" y="106.15" width="6.93" height="5.73" fill="#3d7d8b"/>
<rect x="178.7" y="111.28" width="7.53" height="5.73" fill="#4b557e"/>
<rect x="185.62" y="111.28" width="14.45" height="5.73" fill="#456a88"/>
<rect x="199.47" y="111.28" width="7.53" height="5.73" fill="#74ae80"/>
<rect x="206.4" y="111.28" width="42.15" height="5.73" fill="#a0c166"/>
<rect x="247.95" y="111.28" width="7.53" height="5.73" fill="#3d7d8b"/>
<rect x="254.88" y="111.28" width="7.53" height="5.73" fill="#a0c166"/>
<rect x="261.8" y="111.28" width="7.53" height="5.73" fill="#441a5c"/>
<rect x="268.73" y="111.28" width="7.53" height="5.73" fill="#4a3a72"/>
<rect x="275.65" y="111.28" width="7.53" height="5.73" fill="#4b557e"/>
<rect x="282.57" y="111.28" width="6.93" height="5.73" fill="#4a3a72"/>
<rect x="178.7" y="116.41" width="7.53" height="5.73" fill="#456a88"/>
<rect x="185.62" y="116.41" width="7.53" height="5.73" fill="#4b557e"/>
<rect x="192.55" y="116.41" width="7.53" height="5.73" fill="#4a3a72"/>
<rect x="199.47" y="116.41" width="7.53" height="5.73" fill="#4b557e"/>
<rect x="206.4" y="116.41" width="14.45" height="5.73" fill="#cacf53"/>
<rect x="220.25" y="116.41" width="14.45" height="5.73" fill="#74ae80"/>
<rect x="234.1" y="116.41" width="7.53" height="5.73" fill="#f0e132"/>
<rect x="241.02" y="116.41" width="7.53" height="5.73" fill="#cacf53"/>
<rect x="247.95" y="116.41" width="14.45" height="5.73" fill="#74ae80"/>
<rect x="261.8" y="116.41" width="7.53" height="5.73" fill="#4a3a72"/>
<rect x="268.73" y="116.41" width="7.53" height="5.73" fill="#4b557e"/>
<rect x="275.65" y="116.41" width="7.53" height="5.73" fill="#4a3a72"/>
<rect x="282.57" y="116.41" width="6.93" height="5.73" fill="#4b557e"/>
<rect x="178.7" y="121.53" width="28.3" height="5.73" fill="#4b557e"/>
<rect x="206.4" y="121.53" width="14.45" height="5.73" fill="#cacf53"/>
<rect x="220.25" y="121.53" width="28.3" height="5.73" fill="#a0c166"/>
<rect x="247.95" y="121.53" width="7.53" height="5.73" fill="#3d7d8b"/>
<rect x="254.88" y="121.53" width="7.53" height="5.73" fill="#a0c166"/>
<rect x="261.8" y="121.53" width="14.45" height="5.73" fill="#4a3a72"/>
<rect x="275.65" y="121.53" width="13.85" height="5.73" fill="#4b557e"/>
<rect x="178.7" y="126.66" width="21.38" height="5.73" fill="#4b557e"/>
<rect x="199.47" y="126.66" width="7.53" height="5.73" fill="#456a88"/>
<rect x="206.4" y="126.66" width="7.53" height="5.73" fill="#f0e132"/>
<rect x="213.32" y="126.66" width="7.53" height="5.73" fill="#a0c166"/>
<rect x="220.25" y="126.66" width="7.53" height="5.73" fill="#40978f"/>
<rect x="227.18" y="126.66" width="14.45" height="5.73" fill="#a0c166"/>
<rect x="241.02" y="126.66" width="7.53" height="5.73" fill="#cacf53"/>
<rect x="247.95" y="126.66" width="7.53" height="5.73" fill="#3d7d8b"/>
<rect x="254.88" y="126.66" width="7.53" height="5.73" fill="#74ae80"/>
<rect x="261.8" y="126.66" width="7.53" height="5.73" fill="#4a3a72"/>
<rect x="268.73" y="126.66" width="7.53" height="5.73" fill="#4b557e"/>
<rect x="275.65" y="126.66" width="7.53" height="5.73" fill="#441a5c"/>
<rect x="282.57" y="126.66" width="6.93" height="5.73" fill="#4a3a72"/>
<rect x="178.7" y="131.79" width="7.53" height="5.73" fill="#3d7d8b"/>
<rect x="185.62" y="131.79" width="7.53" height="5.73" fill="#4b557e"/>
<rect x="192.55" y="131.79" width="7.53" height="5.73" fill="#40978f"/>
<rect x="199.47" y="131.79" width="7.53" height="5.73" fill="#4b557e"/>
<rect x="206.4" y="131.79" width="7.53" height="5.73" fill="#a0c166"/>
<rect x="213.32" y="131.79" width="7.53" height="5.73" fill="#cacf53"/>
<rect x="220.25" y="131.79" width="7.53" height="5.73" fill="#74ae80"/>
<rect x="227.18" y="131.79" width="14.45" height="5.73" fill="#a0c166"/>
<rect x="241.02" y="131.79" width="21.38" height="5.73" fill="#74ae80"/>
<rect x="261.8" y="131.79" width="7.53" height="5.73" fill="#4b557e"/>
<rect x="268.73" y="131.79" width="7.53" height="5.73" fill="#4a3a72"/>
<rect x="275.65" y="131.79" width="13.85" height="5.73" fill="#441a5c"/>
<rect x="178.7" y="136.92" width="14.45" height="5.73" fill="#456a88"/>
<rect x="192.55" y="136.92" width="7.53" height="5.73" fill="#4a3a72"/>
<rect x="199.47" y="136.92" width="7.53" height="5.73" fill="#456a88"/>
<rect x="206.4" y="136.92" width="7.53" height="5.73" fill="#74ae80"/>
<rect x="213.32" y="136.92" width="7.53" height="5.73" fill="#cacf53"/>
<rect x="220.25" y="136.92" width="7.53" height="5.73" fill="#40978f"/>
<rect x="227.18" y="136.92" width="7.53" height="5.73" fill="#a0c166"/>
<rect x="234.1" y="136.92" width="7.53" height="5.73" fill="#40978f"/>
<rect x="241.02" y="136.92" width="7.53" height="5.73" fill="#f0e132"/>
<rect x="247.95" y="136.92" width="7.53" height="5.73" fill="#40978f"/>
<rect x="254.88" y="136.92" width="7.53" height="5.73" fill="#cacf53"/>
<rect x="261.8" y="136.92" width="7.53" height="5.73" fill="#4a3a72"/>
<rect x="268.73" y="136.92" width="7.53" height="5.73" fill="#4b557e"/>
<rect x="275.65" y="136.92" width="7.53" height="5.73" fill="#441a5c"/>
<rect x="282.57" y="136.92" width="6.93" height="5.73" fill="#456a88"/>
<rect x="178.7" y="142.04" width="7.53" height="5.73" fill="#441a5c"/>
<rect x="185.62" y="142.04" width="7.53" height="5.73" fill="#4b557e"/>
<rect x="192.55" y="142.04" width="7.53" height="5.73" fill="#a0c166"/>
<rect x="199.47" y="142.04" width="7.53" height="5.73" fill="#456a88"/>
<rect x="206.4" y="142.04" width="7.53" height="5.73" fill="#40978f"/>
<rect x="213.32" y="142.04" width="7.53" height="5.73" fill="#74ae80"/>
<rect x="220.25" y="142.04" width="7.53" height="5.73" fill="#a0c166"/>
<rect x="227.18" y="142.04" width="7.53" height="5.73" fill="#f0e132"/>
<rect x="234.1" y="142.04" width="7.53" height="5.73" fill="#74ae80"/>
<rect x="241.02" y="142.04" width="7.53" height="5.73" fill="#3d7d8b"/>
<rect x="247.95" y="142.04" width="7.53" height="5.73" fill="#a0c166"/>
<rect x="254.88" y="142.04" width="7.53" height="5.73" fill="#74ae80"/>
<rect x="261.8" y="142.04" width="7.53" height="5.73" fill="#441a5c"/>
<rect x="268.73" y="142.04" width="20.78" height="5.73" fill="#4b557e"/>
<rect x="178.7" y="147.17" width="7.53" height="5.13" fill="#40978f"/>
<rect x="185.62" y="147.17" width="7.53" height="5.13" fill="#3d7d8b"/>
<rect x="192.55" y="147.17" width="14.45" height="5.13" fill="#74ae80"/>
<rect x="206.4" y="147.17" width="7.53" height="5.13" fill="#456a88"/>
<rect x="213.32" y="147.17" width="7.53" height="5.13" fill="#74ae80"/>
<rect x="220.25" y="147.17" width="7.53" height="5.13" fill="#3d7d8b"/>
<rect x="227.18" y="147.17" width="7.53" height="5.13" fill="#456a88"/>
<rect x="234.1" y="147.17" width="7.53" height="5.13" fill="#74ae80"/>
<rect x="241.02" y="147.17" width="7.53" height="5.13" fill="#cacf53"/>
<rect x="247.95" y="147.17" width="7.53" height="5.13" fill="#3d7d8b"/>
<rect x="254.88" y="147.17" width="7.53" height="5.13" fill="#f0e132"/>
<rect x="261.8" y="147.17" width="7.53" height="5.13" fill="#441a5c"/>
<rect x="268.73" y="147.17" width="7.53" height="5.13" fill="#4b557e"/>
<rect x="275.65" y="147.17" width="7.53" height="5.13" fill="#4a3a72"/>
<rect x="282.57" y="147.17" width="6.93" height="5.13" fill="#3d7d8b"/>
<rect x="178.7" y="60" width="110.8" height="92.3" fill="none" stroke="#1a1a1a" stroke-width="0.9"/>
<text x="1301.33" y="259.06" font-size="20" fill="#1a1a1a" transform="scale(0.2250,0.25)">Shox2</text>
<text x="1301.33" y="279.57" font-size="20" fill="#1a1a1a" transform="scale(0.2250,0.25)">Pitx1</text>
<text x="1301.33" y="300.08" font-size="20" fill="#1a1a1a" transform="scale(0.2250,0.25)">Tbx18</text>
<text x="1301.33" y="320.59" font-size="20" fill="#1a1a1a" transform="scale(0.2250,0.25)">Plag1</text>
<text x="1301.33" y="341.1" font-size="20" fill="#1a1a1a" transform="scale(0.2250,0.25)">Runx2</text>
<text x="1301.33" y="361.61" font-size="20" fill="#1a1a1a" transform="scale(0.2250,0.25)">Sp7</text>
<text x="1301.33" y="382.12" font-size="20" fill="#1a1a1a" transform="scale(0.2250,0.25)">Osr2</text>
<text x="1301.33" y="402.63" font-size="20" fill="#1a1a1a" transform="scale(0.2250,0.25)">Zbtb20</text>
<text x="1301.33" y="423.14" font-size="20" fill="#1a1a1a" transform="scale(0.2250,0.25)">Bhlhe41</text>
<text x="1301.33" y="443.66" font-size="20" fill="#1a1a1a" transform="scale(0.2250,0.25)">Runx3</text>
<text x="1301.33" y="464.17" font-size="20" fill="#1a1a1a" transform="scale(0.2250,0.25)">Batf3</text>
<text x="1301.33" y="484.68" font-size="20" fill="#1a1a1a" transform="scale(0.2250,0.25)">Lef1</text>
<text x="1301.33" y="505.19" font-size="20" fill="#1a1a1a" transform="scale(0.2250,0.25)">Foxa3</text>
<text x="1301.33" y="525.7" font-size="20" fill="#1a1a1a" transform="scale(0.2250,0.25)">Egr2</text>
<text x="1301.33" y="546.21" font-size="20" fill="#1a1a1a" transform="scale(0.2250,0.25)">Peg3</text>
<text x="1301.33" y="566.72" font-size="20" fill="#1a1a1a" transform="scale(0.2250,0.25)">Sox8</text>
<text x="1301.33" y="587.23" font-size="20" fill="#1a1a1a" transform="scale(0.2250,0.25)">Mef2c</text>
<text x="1301.33" y="607.74" font-size="20" fill="#1a1a1a" transform="scale(0.2250,0.25)">Pax1</text>
<text x="0" y="0" font-size="7.2" fill="#111" text-anchor="middle" transform="translate(173.9,105.3) rotate(-90)">TFs</text>
<rect x="178.7" y="156.9" width="7.53" height="5.76" fill="#441a5c"/>
<rect x="185.62" y="156.9" width="7.53" height="5.76" fill="#4b557e"/>
<rect x="192.55" y="156.9" width="7.53" height="5.76" fill="#40978f"/>
<rect x="199.47" y="156.9" width="7.53" height="5.76" fill="#3d7d8b"/>
<rect x="206.4" y="156.9" width="7.53" height="5.76" fill="#cacf53"/>
<rect x="213.32" y="156.9" width="14.45" height="5.76" fill="#a0c166"/>
<rect x="227.18" y="156.9" width="7.53" height="5.76" fill="#74ae80"/>
<rect x="234.1" y="156.9" width="7.53" height="5.76" fill="#cacf53"/>
<rect x="241.02" y="156.9" width="7.53" height="5.76" fill="#3d7d8b"/>
<rect x="247.95" y="156.9" width="7.53" height="5.76" fill="#a0c166"/>
<rect x="254.88" y="156.9" width="7.53" height="5.76" fill="#456a88"/>
<rect x="261.8" y="156.9" width="7.53" height="5.76" fill="#4a3a72"/>
<rect x="268.73" y="156.9" width="7.53" height="5.76" fill="#40978f"/>
<rect x="275.65" y="156.9" width="13.85" height="5.76" fill="#4b557e"/>
<rect x="178.7" y="162.06" width="14.45" height="5.76" fill="#456a88"/>
<rect x="192.55" y="162.06" width="14.45" height="5.76" fill="#4b557e"/>
<rect x="206.4" y="162.06" width="7.53" height="5.76" fill="#f0e132"/>
<rect x="213.32" y="162.06" width="7.53" height="5.76" fill="#a0c166"/>
<rect x="220.25" y="162.06" width="7.53" height="5.76" fill="#40978f"/>
<rect x="227.18" y="162.06" width="7.53" height="5.76" fill="#3d7d8b"/>
<rect x="234.1" y="162.06" width="7.53" height="5.76" fill="#f0e132"/>
<rect x="241.02" y="162.06" width="7.53" height="5.76" fill="#cacf53"/>
<rect x="247.95" y="162.06" width="7.53" height="5.76" fill="#74ae80"/>
<rect x="254.88" y="162.06" width="7.53" height="5.76" fill="#3d7d8b"/>
<rect x="261.8" y="162.06" width="7.53" height="5.76" fill="#456a88"/>
<rect x="268.73" y="162.06" width="20.78" height="5.76" fill="#4b557e"/>
<rect x="178.7" y="167.22" width="7.53" height="5.76" fill="#456a88"/>
<rect x="185.62" y="167.22" width="7.53" height="5.76" fill="#441a5c"/>
<rect x="192.55" y="167.22" width="7.53" height="5.76" fill="#74ae80"/>
<rect x="199.47" y="167.22" width="14.45" height="5.76" fill="#3d7d8b"/>
<rect x="213.32" y="167.22" width="21.38" height="5.76" fill="#a0c166"/>
<rect x="234.1" y="167.22" width="7.53" height="5.76" fill="#cacf53"/>
<rect x="241.02" y="167.22" width="7.53" height="5.76" fill="#40978f"/>
<rect x="247.95" y="167.22" width="7.53" height="5.76" fill="#3d7d8b"/>
<rect x="254.88" y="167.22" width="7.53" height="5.76" fill="#cacf53"/>
<rect x="261.8" y="167.22" width="7.53" height="5.76" fill="#441a5c"/>
<rect x="268.73" y="167.22" width="14.45" height="5.76" fill="#456a88"/>
<rect x="282.57" y="167.22" width="6.93" height="5.76" fill="#3d7d8b"/>
<rect x="178.7" y="172.38" width="7.53" height="5.76" fill="#4a3a72"/>
<rect x="185.62" y="172.38" width="7.53" height="5.76" fill="#456a88"/>
<rect x="192.55" y="172.38" width="7.53" height="5.76" fill="#40978f"/>
<rect x="199.47" y="172.38" width="7.53" height="5.76" fill="#441a5c"/>
<rect x="206.4" y="172.38" width="21.38" height="5.76" fill="#a0c166"/>
<rect x="227.18" y="172.38" width="7.53" height="5.76" fill="#40978f"/>
<rect x="234.1" y="172.38" width="7.53" height="5.76" fill="#cacf53"/>
<rect x="241.02" y="172.38" width="14.45" height="5.76" fill="#a0c166"/>
<rect x="254.88" y="172.38" width="7.53" height="5.76" fill="#cacf53"/>
<rect x="261.8" y="172.38" width="7.53" height="5.76" fill="#4a3a72"/>
<rect x="268.73" y="172.38" width="7.53" height="5.76" fill="#74ae80"/>
<rect x="275.65" y="172.38" width="7.53" height="5.76" fill="#441a5c"/>
<rect x="282.57" y="172.38" width="6.93" height="5.76" fill="#456a88"/>
<rect x="178.7" y="177.54" width="7.53" height="5.76" fill="#40978f"/>
<rect x="185.62" y="177.54" width="7.53" height="5.76" fill="#4b557e"/>
<rect x="192.55" y="177.54" width="7.53" height="5.76" fill="#3d7d8b"/>
<rect x="199.47" y="177.54" width="7.53" height="5.76" fill="#40978f"/>
<rect x="206.4" y="177.54" width="7.53" height="5.76" fill="#a0c166"/>
<rect x="213.32" y="177.54" width="7.53" height="5.76" fill="#74ae80"/>
<rect x="220.25" y="177.54" width="35.23" height="5.76" fill="#a0c166"/>
<rect x="254.88" y="177.54" width="7.53" height="5.76" fill="#74ae80"/>
<rect x="261.8" y="177.54" width="7.53" height="5.76" fill="#441a5c"/>
<rect x="268.73" y="177.54" width="14.45" height="5.76" fill="#4b557e"/>
<rect x="282.57" y="177.54" width="6.93" height="5.76" fill="#441a5c"/>
<rect x="178.7" y="182.7" width="7.53" height="5.76" fill="#456a88"/>
<rect x="185.62" y="182.7" width="7.53" height="5.76" fill="#4b557e"/>
<rect x="192.55" y="182.7" width="14.45" height="5.76" fill="#3d7d8b"/>
<rect x="206.4" y="182.7" width="21.38" height="5.76" fill="#a0c166"/>
<rect x="227.18" y="182.7" width="7.53" height="5.76" fill="#cacf53"/>
<rect x="234.1" y="182.7" width="14.45" height="5.76" fill="#74ae80"/>
<rect x="247.95" y="182.7" width="14.45" height="5.76" fill="#a0c166"/>
<rect x="261.8" y="182.7" width="27.7" height="5.76" fill="#4a3a72"/>
<rect x="178.7" y="187.85" width="7.53" height="5.76" fill="#4b557e"/>
<rect x="185.62" y="187.85" width="21.38" height="5.76" fill="#456a88"/>
<rect x="206.4" y="187.85" width="7.53" height="5.76" fill="#cacf53"/>
<rect x="213.32" y="187.85" width="14.45" height="5.76" fill="#a0c166"/>
<rect x="227.18" y="187.85" width="7.53" height="5.76" fill="#74ae80"/>
<rect x="234.1" y="187.85" width="14.45" height="5.76" fill="#cacf53"/>
<rect x="247.95" y="187.85" width="7.53" height="5.76" fill="#40978f"/>
<rect x="254.88" y="187.85" width="7.53" height="5.76" fill="#74ae80"/>
<rect x="261.8" y="187.85" width="7.53" height="5.76" fill="#441a5c"/>
<rect x="268.73" y="187.85" width="7.53" height="5.76" fill="#456a88"/>
<rect x="275.65" y="187.85" width="13.85" height="5.76" fill="#4b557e"/>
<rect x="178.7" y="193.01" width="14.45" height="5.76" fill="#4b557e"/>
<rect x="192.55" y="193.01" width="14.45" height="5.76" fill="#456a88"/>
<rect x="206.4" y="193.01" width="7.53" height="5.76" fill="#a0c166"/>
<rect x="213.32" y="193.01" width="21.38" height="5.76" fill="#cacf53"/>
<rect x="234.1" y="193.01" width="14.45" height="5.76" fill="#74ae80"/>
<rect x="247.95" y="193.01" width="7.53" height="5.76" fill="#a0c166"/>
<rect x="254.88" y="193.01" width="7.53" height="5.76" fill="#74ae80"/>
<rect x="261.8" y="193.01" width="14.45" height="5.76" fill="#4b557e"/>
<rect x="275.65" y="193.01" width="7.53" height="5.76" fill="#4a3a72"/>
<rect x="282.57" y="193.01" width="6.93" height="5.76" fill="#4b557e"/>
<rect x="178.7" y="198.17" width="14.45" height="5.76" fill="#4b557e"/>
<rect x="192.55" y="198.17" width="7.53" height="5.76" fill="#3d7d8b"/>
<rect x="199.47" y="198.17" width="7.53" height="5.76" fill="#456a88"/>
<rect x="206.4" y="198.17" width="7.53" height="5.76" fill="#f0e132"/>
<rect x="213.32" y="198.17" width="7.53" height="5.76" fill="#74ae80"/>
<rect x="220.25" y="198.17" width="14.45" height="5.76" fill="#cacf53"/>
<rect x="234.1" y="198.17" width="7.53" height="5.76" fill="#a0c166"/>
<rect x="241.02" y="198.17" width="7.53" height="5.76" fill="#40978f"/>
<rect x="247.95" y="198.17" width="7.53" height="5.76" fill="#a0c166"/>
<rect x="254.88" y="198.17" width="7.53" height="5.76" fill="#74ae80"/>
<rect x="261.8" y="198.17" width="14.45" height="5.76" fill="#4b557e"/>
<rect x="275.65" y="198.17" width="7.53" height="5.76" fill="#4a3a72"/>
<rect x="282.57" y="198.17" width="6.93" height="5.76" fill="#4b557e"/>
<rect x="178.7" y="203.33" width="14.45" height="5.76" fill="#4b557e"/>
<rect x="192.55" y="203.33" width="7.53" height="5.76" fill="#3d7d8b"/>
<rect x="199.47" y="203.33" width="7.53" height="5.76" fill="#4a3a72"/>
<rect x="206.4" y="203.33" width="7.53" height="5.76" fill="#cacf53"/>
<rect x="213.32" y="203.33" width="7.53" height="5.76" fill="#a0c166"/>
<rect x="220.25" y="203.33" width="7.53" height="5.76" fill="#cacf53"/>
<rect x="227.18" y="203.33" width="7.53" height="5.76" fill="#74ae80"/>
<rect x="234.1" y="203.33" width="7.53" height="5.76" fill="#cacf53"/>
<rect x="241.02" y="203.33" width="14.45" height="5.76" fill="#a0c166"/>
<rect x="254.88" y="203.33" width="7.53" height="5.76" fill="#40978f"/>
<rect x="261.8" y="203.33" width="14.45" height="5.76" fill="#4b557e"/>
<rect x="275.65" y="203.33" width="7.53" height="5.76" fill="#456a88"/>
<rect x="282.57" y="203.33" width="6.93" height="5.76" fill="#4a3a72"/>
<rect x="178.7" y="208.49" width="14.45" height="5.76" fill="#4b557e"/>
<rect x="192.55" y="208.49" width="7.53" height="5.76" fill="#456a88"/>
<rect x="199.47" y="208.49" width="7.53" height="5.76" fill="#4b557e"/>
<rect x="206.4" y="208.49" width="7.53" height="5.76" fill="#cacf53"/>
<rect x="213.32" y="208.49" width="7.53" height="5.76" fill="#a0c166"/>
<rect x="220.25" y="208.49" width="7.53" height="5.76" fill="#cacf53"/>
<rect x="227.18" y="208.49" width="7.53" height="5.76" fill="#a0c166"/>
<rect x="234.1" y="208.49" width="7.53" height="5.76" fill="#cacf53"/>
<rect x="241.02" y="208.49" width="7.53" height="5.76" fill="#a0c166"/>
<rect x="247.95" y="208.49" width="14.45" height="5.76" fill="#74ae80"/>
<rect x="261.8" y="208.49" width="27.7" height="5.76" fill="#4b557e"/>
<rect x="178.7" y="213.65" width="7.53" height="5.76" fill="#4b557e"/>
<rect x="185.62" y="213.65" width="7.53" height="5.76" fill="#4a3a72"/>
<rect x="192.55" y="213.65" width="7.53" height="5.76" fill="#456a88"/>
<rect x="199.47" y="213.65" width="7.53" height="5.76" fill="#4b557e"/>
<rect x="206.4" y="213.65" width="7.53" height="5.76" fill="#cacf53"/>
<rect x="213.32" y="213.65" width="14.45" height="5.76" fill="#a0c166"/>
<rect x="227.18" y="213.65" width="7.53" height="5.76" fill="#74ae80"/>
<rect x="234.1" y="213.65" width="7.53" height="5.76" fill="#cacf53"/>
<rect x="241.02" y="213.65" width="14.45" height="5.76" fill="#a0c166"/>
<rect x="254.88" y="213.65" width="7.53" height="5.76" fill="#74ae80"/>
<rect x="261.8" y="213.65" width="7.53" height="5.76" fill="#4a3a72"/>
<rect x="268.73" y="213.65" width="7.53" height="5.76" fill="#441a5c"/>
<rect x="275.65" y="213.65" width="7.53" height="5.76" fill="#456a88"/>
<rect x="282.57" y="213.65" width="6.93" height="5.76" fill="#4a3a72"/>
<rect x="178.7" y="218.81" width="14.45" height="5.76" fill="#4b557e"/>
<rect x="192.55" y="218.81" width="7.53" height="5.76" fill="#40978f"/>
<rect x="199.47" y="218.81" width="7.53" height="5.76" fill="#4b557e"/>
<rect x="206.4" y="218.81" width="7.53" height="5.76" fill="#cacf53"/>
<rect x="213.32" y="218.81" width="14.45" height="5.76" fill="#a0c166"/>
<rect x="227.18" y="218.81" width="7.53" height="5.76" fill="#74ae80"/>
<rect x="234.1" y="218.81" width="14.45" height="5.76" fill="#a0c166"/>
<rect x="247.95" y="218.81" width="7.53" height="5.76" fill="#74ae80"/>
<rect x="254.88" y="218.81" width="7.53" height="5.76" fill="#3d7d8b"/>
<rect x="261.8" y="218.81" width="27.7" height="5.76" fill="#4a3a72"/>
<rect x="178.7" y="223.97" width="7.53" height="5.76" fill="#456a88"/>
<rect x="185.62" y="223.97" width="21.38" height="5.76" fill="#4b557e"/>
<rect x="206.4" y="223.97" width="28.3" height="5.76" fill="#a0c166"/>
<rect x="234.1" y="223.97" width="7.53" height="5.76" fill="#cacf53"/>
<rect x="241.02" y="223.97" width="7.53" height="5.76" fill="#a0c166"/>
<rect x="247.95" y="223.97" width="7.53" height="5.76" fill="#40978f"/>
<rect x="254.88" y="223.97" width="7.53" height="5.76" fill="#a0c166"/>
<rect x="261.8" y="223.97" width="7.53" height="5.76" fill="#4a3a72"/>
<rect x="268.73" y="223.97" width="7.53" height="5.76" fill="#441a5c"/>
<rect x="275.65" y="223.97" width="7.53" height="5.76" fill="#4a3a72"/>
<rect x="282.57" y="223.97" width="6.93" height="5.76" fill="#456a88"/>
<rect x="178.7" y="229.13" width="21.38" height="5.76" fill="#4b557e"/>
<rect x="199.47" y="229.13" width="7.53" height="5.76" fill="#456a88"/>
<rect x="206.4" y="229.13" width="28.3" height="5.76" fill="#a0c166"/>
<rect x="234.1" y="229.13" width="7.53" height="5.76" fill="#cacf53"/>
<rect x="241.02" y="229.13" width="7.53" height="5.76" fill="#a0c166"/>
<rect x="247.95" y="229.13" width="14.45" height="5.76" fill="#74ae80"/>
<rect x="261.8" y="229.13" width="27.7" height="5.76" fill="#4a3a72"/>
<rect x="178.7" y="234.29" width="28.3" height="5.76" fill="#4b557e"/>
<rect x="206.4" y="234.29" width="7.53" height="5.76" fill="#f0e132"/>
<rect x="213.32" y="234.29" width="14.45" height="5.76" fill="#a0c166"/>
<rect x="227.18" y="234.29" width="7.53" height="5.76" fill="#74ae80"/>
<rect x="234.1" y="234.29" width="7.53" height="5.76" fill="#cacf53"/>
<rect x="241.02" y="234.29" width="7.53" height="5.76" fill="#a0c166"/>
<rect x="247.95" y="234.29" width="14.45" height="5.76" fill="#40978f"/>
<rect x="261.8" y="234.29" width="27.7" height="5.76" fill="#4a3a72"/>
<rect x="178.7" y="239.45" width="21.38" height="5.76" fill="#4b557e"/>
<rect x="199.47" y="239.45" width="7.53" height="5.76" fill="#4a3a72"/>
<rect x="206.4" y="239.45" width="7.53" height="5.76" fill="#a0c166"/>
<rect x="213.32" y="239.45" width="7.53" height="5.76" fill="#f0e132"/>
<rect x="220.25" y="239.45" width="7.53" height="5.76" fill="#a0c166"/>
<rect x="227.18" y="239.45" width="7.53" height="5.76" fill="#74ae80"/>
<rect x="234.1" y="239.45" width="7.53" height="5.76" fill="#a0c166"/>
<rect x="241.02" y="239.45" width="7.53" height="5.76" fill="#74ae80"/>
<rect x="247.95" y="239.45" width="7.53" height="5.76" fill="#a0c166"/>
<rect x="254.88" y="239.45" width="7.53" height="5.76" fill="#74ae80"/>
<rect x="261.8" y="239.45" width="7.53" height="5.76" fill="#4a3a72"/>
<rect x="268.73" y="239.45" width="7.53" height="5.76" fill="#4b557e"/>
<rect x="275.65" y="239.45" width="13.85" height="5.76" fill="#4a3a72"/>
<rect x="178.7" y="244.6" width="7.53" height="5.76" fill="#4b557e"/>
<rect x="185.62" y="244.6" width="14.45" height="5.76" fill="#4a3a72"/>
<rect x="199.47" y="244.6" width="7.53" height="5.76" fill="#4b557e"/>
<rect x="206.4" y="244.6" width="21.38" height="5.76" fill="#a0c166"/>
<rect x="227.18" y="244.6" width="7.53" height="5.76" fill="#cacf53"/>
<rect x="234.1" y="244.6" width="7.53" height="5.76" fill="#74ae80"/>
<rect x="241.02" y="244.6" width="14.45" height="5.76" fill="#a0c166"/>
<rect x="254.88" y="244.6" width="7.53" height="5.76" fill="#74ae80"/>
<rect x="261.8" y="244.6" width="7.53" height="5.76" fill="#4a3a72"/>
<rect x="268.73" y="244.6" width="7.53" height="5.76" fill="#4b557e"/>
<rect x="275.65" y="244.6" width="13.85" height="5.76" fill="#4a3a72"/>
<rect x="178.7" y="249.76" width="7.53" height="5.76" fill="#3d7d8b"/>
<rect x="185.62" y="249.76" width="7.53" height="5.76" fill="#a0c166"/>
<rect x="192.55" y="249.76" width="7.53" height="5.76" fill="#40978f"/>
<rect x="199.47" y="249.76" width="7.53" height="5.76" fill="#3d7d8b"/>
<rect x="206.4" y="249.76" width="7.53" height="5.76" fill="#4a3a72"/>
<rect x="213.32" y="249.76" width="7.53" height="5.76" fill="#74ae80"/>
<rect x="220.25" y="249.76" width="7.53" height="5.76" fill="#456a88"/>
<rect x="227.18" y="249.76" width="7.53" height="5.76" fill="#a0c166"/>
<rect x="234.1" y="249.76" width="7.53" height="5.76" fill="#cacf53"/>
<rect x="241.02" y="249.76" width="7.53" height="5.76" fill="#f0e132"/>
<rect x="247.95" y="249.76" width="7.53" height="5.76" fill="#3d7d8b"/>
<rect x="254.88" y="249.76" width="7.53" height="5.76" fill="#74ae80"/>
<rect x="261.8" y="249.76" width="14.45" height="5.76" fill="#4a3a72"/>
<rect x="275.65" y="249.76" width="7.53" height="5.76" fill="#4b557e"/>
<rect x="282.57" y="249.76" width="6.93" height="5.76" fill="#441a5c"/>
<rect x="178.7" y="254.92" width="7.53" height="5.76" fill="#74ae80"/>
<rect x="185.62" y="254.92" width="7.53" height="5.76" fill="#4b557e"/>
<rect x="192.55" y="254.92" width="7.53" height="5.76" fill="#441a5c"/>
<rect x="199.47" y="254.92" width="7.53" height="5.76" fill="#4b557e"/>
<rect x="206.4" y="254.92" width="7.53" height="5.76" fill="#a0c166"/>
<rect x="213.32" y="254.92" width="14.45" height="5.76" fill="#4b557e"/>
<rect x="227.18" y="254.92" width="7.53" height="5.76" fill="#456a88"/>
<rect x="234.1" y="254.92" width="7.53" height="5.76" fill="#f0e132"/>
<rect x="241.02" y="254.92" width="14.45" height="5.76" fill="#a0c166"/>
<rect x="254.88" y="254.92" width="7.53" height="5.76" fill="#40978f"/>
<rect x="261.8" y="254.92" width="7.53" height="5.76" fill="#a0c166"/>
<rect x="268.73" y="254.92" width="7.53" height="5.76" fill="#3d7d8b"/>
<rect x="275.65" y="254.92" width="7.53" height="5.76" fill="#4a3a72"/>
<rect x="282.57" y="254.92" width="6.93" height="5.76" fill="#40978f"/>
<rect x="178.7" y="260.08" width="28.3" height="5.76" fill="#456a88"/>
<rect x="206.4" y="260.08" width="14.45" height="5.76" fill="#3d7d8b"/>
<rect x="220.25" y="260.08" width="14.45" height="5.76" fill="#456a88"/>
<rect x="234.1" y="260.08" width="14.45" height="5.76" fill="#f0e132"/>
<rect x="247.95" y="260.08" width="7.53" height="5.76" fill="#3d7d8b"/>
<rect x="254.88" y="260.08" width="7.53" height="5.76" fill="#4a3a72"/>
<rect x="261.8" y="260.08" width="7.53" height="5.76" fill="#456a88"/>
<rect x="268.73" y="260.08" width="7.53" height="5.76" fill="#a0c166"/>
<rect x="275.65" y="260.08" width="13.85" height="5.76" fill="#40978f"/>
<rect x="178.7" y="265.24" width="7.53" height="5.16" fill="#a0c166"/>
<rect x="185.62" y="265.24" width="7.53" height="5.16" fill="#4a3a72"/>
<rect x="192.55" y="265.24" width="7.53" height="5.16" fill="#f0e132"/>
<rect x="199.47" y="265.24" width="7.53" height="5.16" fill="#4b557e"/>
<rect x="206.4" y="265.24" width="7.53" height="5.16" fill="#40978f"/>
<rect x="213.32" y="265.24" width="7.53" height="5.16" fill="#441a5c"/>
<rect x="220.25" y="265.24" width="7.53" height="5.16" fill="#40978f"/>
<rect x="227.18" y="265.24" width="7.53" height="5.16" fill="#456a88"/>
<rect x="234.1" y="265.24" width="7.53" height="5.16" fill="#a0c166"/>
<rect x="241.02" y="265.24" width="7.53" height="5.16" fill="#456a88"/>
<rect x="247.95" y="265.24" width="7.53" height="5.16" fill="#cacf53"/>
<rect x="254.88" y="265.24" width="7.53" height="5.16" fill="#441a5c"/>
<rect x="261.8" y="265.24" width="7.53" height="5.16" fill="#a0c166"/>
<rect x="268.73" y="265.24" width="7.53" height="5.16" fill="#456a88"/>
<rect x="275.65" y="265.24" width="13.85" height="5.16" fill="#3d7d8b"/>
<rect x="178.7" y="156.9" width="110.8" height="113.5" fill="none" stroke="#1a1a1a" stroke-width="0.9"/>
<text x="1301.33" y="646.72" font-size="20" fill="#1a1a1a" transform="scale(0.2250,0.25)">Prc1</text>
<text x="1301.33" y="667.35" font-size="20" fill="#1a1a1a" transform="scale(0.2250,0.25)">Prg4</text>
<text x="1301.33" y="687.99" font-size="20" fill="#1a1a1a" transform="scale(0.2250,0.25)">Tpd52l1</text>
<text x="1301.33" y="708.63" font-size="20" fill="#1a1a1a" transform="scale(0.2250,0.25)">Corin</text>
<text x="1301.33" y="729.26" font-size="20" fill="#1a1a1a" transform="scale(0.2250,0.25)">Slc2a5</text>
<text x="1301.33" y="749.9" font-size="20" fill="#1a1a1a" transform="scale(0.2250,0.25)">Fgfr3</text>
<text x="1301.33" y="770.54" font-size="20" fill="#1a1a1a" transform="scale(0.2250,0.25)">Fxyd3</text>
<text x="1301.33" y="791.17" font-size="20" fill="#1a1a1a" transform="scale(0.2250,0.25)">Col11a1</text>
<text x="1301.33" y="811.81" font-size="20" fill="#1a1a1a" transform="scale(0.2250,0.25)">Susd5</text>
<text x="1301.33" y="832.45" font-size="20" fill="#1a1a1a" transform="scale(0.2250,0.25)">Sema3d</text>
<text x="1301.33" y="853.08" font-size="20" fill="#1a1a1a" transform="scale(0.2250,0.25)">Unc5c</text>
<text x="1301.33" y="873.72" font-size="20" fill="#1a1a1a" transform="scale(0.2250,0.25)">Slc26a2</text>
<text x="1301.33" y="894.35" font-size="20" fill="#1a1a1a" transform="scale(0.2250,0.25)">F5</text>
<text x="1301.33" y="914.99" font-size="20" fill="#1a1a1a" transform="scale(0.2250,0.25)">Slc38a3</text>
<text x="1301.33" y="935.63" font-size="20" fill="#1a1a1a" transform="scale(0.2250,0.25)">Chst11</text>
<text x="1301.33" y="956.26" font-size="20" fill="#1a1a1a" transform="scale(0.2250,0.25)">Mfi2</text>
<text x="1301.33" y="976.9" font-size="20" fill="#1a1a1a" transform="scale(0.2250,0.25)">Cpm</text>
<text x="1301.33" y="997.54" font-size="20" fill="#1a1a1a" transform="scale(0.2250,0.25)">Cpe</text>
<text x="1301.33" y="1018.17" font-size="20" fill="#1a1a1a" transform="scale(0.2250,0.25)">Spon1</text>
<text x="1301.33" y="1038.81" font-size="20" fill="#1a1a1a" transform="scale(0.2250,0.25)">Scara3</text>
<text x="1301.33" y="1059.45" font-size="20" fill="#1a1a1a" transform="scale(0.2250,0.25)">Efemp1</text>
<text x="1301.33" y="1080.08" font-size="20" fill="#1a1a1a" transform="scale(0.2250,0.25)">Slc40a1</text>
<text x="0" y="0" font-size="7.2" fill="#111" text-anchor="middle" transform="translate(173.9,216.1) rotate(-90)">surface</text>
<rect x="178.7" y="276.4" width="7.53" height="5.71" fill="#4a3a72"/>
<rect x="185.62" y="276.4" width="7.53" height="5.71" fill="#456a88"/>
<rect x="192.55" y="276.4" width="7.53" height="5.71" fill="#74ae80"/>
<rect x="199.47" y="276.4" width="7.53" height="5.71" fill="#40978f"/>
<rect x="206.4" y="276.4" width="14.45" height="5.71" fill="#4b557e"/>
<rect x="220.25" y="276.4" width="28.3" height="5.71" fill="#456a88"/>
<rect x="247.95" y="276.4" width="7.53" height="5.71" fill="#3d7d8b"/>
<rect x="254.88" y="276.4" width="7.53" height="5.71" fill="#40978f"/>
<rect x="261.8" y="276.4" width="14.45" height="5.71" fill="#a0c166"/>
<rect x="275.65" y="276.4" width="13.85" height="5.71" fill="#f0e132"/>
<rect x="178.7" y="281.51" width="7.53" height="5.71" fill="#40978f"/>
<rect x="185.62" y="281.51" width="14.45" height="5.71" fill="#cacf53"/>
<rect x="199.47" y="281.51" width="7.53" height="5.71" fill="#40978f"/>
<rect x="206.4" y="281.51" width="7.53" height="5.71" fill="#3d7d8b"/>
<rect x="213.32" y="281.51" width="14.45" height="5.71" fill="#cacf53"/>
<rect x="227.18" y="281.51" width="7.53" height="5.71" fill="#4a3a72"/>
<rect x="234.1" y="281.51" width="7.53" height="5.71" fill="#441a5c"/>
<rect x="241.02" y="281.51" width="7.53" height="5.71" fill="#40978f"/>
<rect x="247.95" y="281.51" width="7.53" height="5.71" fill="#4a3a72"/>
<rect x="254.88" y="281.51" width="7.53" height="5.71" fill="#441a5c"/>
<rect x="261.8" y="281.51" width="7.53" height="5.71" fill="#456a88"/>
<rect x="268.73" y="281.51" width="7.53" height="5.71" fill="#f0e132"/>
<rect x="275.65" y="281.51" width="13.85" height="5.71" fill="#3d7d8b"/>
<rect x="178.7" y="286.61" width="7.53" height="5.71" fill="#4b557e"/>
<rect x="185.62" y="286.61" width="7.53" height="5.71" fill="#441a5c"/>
<rect x="192.55" y="286.61" width="7.53" height="5.71" fill="#40978f"/>
<rect x="199.47" y="286.61" width="7.53" height="5.71" fill="#4b557e"/>
<rect x="206.4" y="286.61" width="7.53" height="5.71" fill="#40978f"/>
<rect x="213.32" y="286.61" width="14.45" height="5.71" fill="#456a88"/>
<rect x="227.18" y="286.61" width="14.45" height="5.71" fill="#74ae80"/>
<rect x="241.02" y="286.61" width="7.53" height="5.71" fill="#40978f"/>
<rect x="247.95" y="286.61" width="7.53" height="5.71" fill="#f0e132"/>
<rect x="254.88" y="286.61" width="7.53" height="5.71" fill="#a0c166"/>
<rect x="261.8" y="286.61" width="7.53" height="5.71" fill="#4a3a72"/>
<rect x="268.73" y="286.61" width="7.53" height="5.71" fill="#40978f"/>
<rect x="275.65" y="286.61" width="7.53" height="5.71" fill="#a0c166"/>
<rect x="282.57" y="286.61" width="6.93" height="5.71" fill="#4a3a72"/>
<rect x="178.7" y="291.72" width="14.45" height="5.71" fill="#40978f"/>
<rect x="192.55" y="291.72" width="14.45" height="5.71" fill="#441a5c"/>
<rect x="206.4" y="291.72" width="14.45" height="5.71" fill="#a0c166"/>
<rect x="220.25" y="291.72" width="7.53" height="5.71" fill="#cacf53"/>
<rect x="227.18" y="291.72" width="7.53" height="5.71" fill="#74ae80"/>
<rect x="234.1" y="291.72" width="7.53" height="5.71" fill="#cacf53"/>
<rect x="241.02" y="291.72" width="7.53" height="5.71" fill="#40978f"/>
<rect x="247.95" y="291.72" width="7.53" height="5.71" fill="#456a88"/>
<rect x="254.88" y="291.72" width="7.53" height="5.71" fill="#a0c166"/>
<rect x="261.8" y="291.72" width="14.45" height="5.71" fill="#4b557e"/>
<rect x="275.65" y="291.72" width="7.53" height="5.71" fill="#456a88"/>
<rect x="282.57" y="291.72" width="6.93" height="5.71" fill="#3d7d8b"/>
<rect x="178.7" y="296.82" width="14.45" height="5.71" fill="#4b557e"/>
<rect x="192.55" y="296.82" width="7.53" height="5.71" fill="#4a3a72"/>
<rect x="199.47" y="296.82" width="7.53" height="5.71" fill="#4b557e"/>
<rect x="206.4" y="296.82" width="7.53" height="5.71" fill="#a0c166"/>
<rect x="213.32" y="296.82" width="7.53" height="5.71" fill="#cacf53"/>
<rect x="220.25" y="296.82" width="14.45" height="5.71" fill="#74ae80"/>
<rect x="234.1" y="296.82" width="14.45" height="5.71" fill="#cacf53"/>
<rect x="247.95" y="296.82" width="14.45" height="5.71" fill="#74ae80"/>
<rect x="261.8" y="296.82" width="14.45" height="5.71" fill="#4b557e"/>
<rect x="275.65" y="296.82" width="13.85" height="5.71" fill="#4a3a72"/>
<rect x="178.7" y="301.93" width="14.45" height="5.71" fill="#4b557e"/>
<rect x="192.55" y="301.93" width="7.53" height="5.71" fill="#4a3a72"/>
<rect x="199.47" y="301.93" width="7.53" height="5.71" fill="#456a88"/>
<rect x="206.4" y="301.93" width="7.53" height="5.71" fill="#cacf53"/>
<rect x="213.32" y="301.93" width="7.53" height="5.71" fill="#a0c166"/>
<rect x="220.25" y="301.93" width="14.45" height="5.71" fill="#74ae80"/>
<rect x="234.1" y="301.93" width="14.45" height="5.71" fill="#cacf53"/>
<rect x="247.95" y="301.93" width="7.53" height="5.71" fill="#a0c166"/>
<rect x="254.88" y="301.93" width="7.53" height="5.71" fill="#74ae80"/>
<rect x="261.8" y="301.93" width="7.53" height="5.71" fill="#4a3a72"/>
<rect x="268.73" y="301.93" width="7.53" height="5.71" fill="#4b557e"/>
<rect x="275.65" y="301.93" width="7.53" height="5.71" fill="#4a3a72"/>
<rect x="282.57" y="301.93" width="6.93" height="5.71" fill="#4b557e"/>
<rect x="178.7" y="307.04" width="14.45" height="5.71" fill="#4a3a72"/>
<rect x="192.55" y="307.04" width="7.53" height="5.71" fill="#456a88"/>
<rect x="199.47" y="307.04" width="7.53" height="5.71" fill="#4a3a72"/>
<rect x="206.4" y="307.04" width="14.45" height="5.71" fill="#a0c166"/>
<rect x="220.25" y="307.04" width="14.45" height="5.71" fill="#74ae80"/>
<rect x="234.1" y="307.04" width="7.53" height="5.71" fill="#f0e132"/>
<rect x="241.02" y="307.04" width="7.53" height="5.71" fill="#cacf53"/>
<rect x="247.95" y="307.04" width="7.53" height="5.71" fill="#a0c166"/>
<rect x="254.88" y="307.04" width="7.53" height="5.71" fill="#74ae80"/>
<rect x="261.8" y="307.04" width="7.53" height="5.71" fill="#4a3a72"/>
<rect x="268.73" y="307.04" width="7.53" height="5.71" fill="#4b557e"/>
<rect x="275.65" y="307.04" width="7.53" height="5.71" fill="#3d7d8b"/>
<rect x="282.57" y="307.04" width="6.93" height="5.71" fill="#4a3a72"/>
<rect x="178.7" y="312.14" width="14.45" height="5.71" fill="#456a88"/>
<rect x="192.55" y="312.14" width="14.45" height="5.71" fill="#4b557e"/>
<rect x="206.4" y="312.14" width="7.53" height="5.71" fill="#f0e132"/>
<rect x="213.32" y="312.14" width="7.53" height="5.71" fill="#cacf53"/>
<rect x="220.25" y="312.14" width="7.53" height="5.71" fill="#a0c166"/>
<rect x="227.18" y="312.14" width="7.53" height="5.71" fill="#74ae80"/>
<rect x="234.1" y="312.14" width="14.45" height="5.71" fill="#a0c166"/>
<rect x="247.95" y="312.14" width="14.45" height="5.71" fill="#3d7d8b"/>
<rect x="261.8" y="312.14" width="7.53" height="5.71" fill="#4a3a72"/>
<rect x="268.73" y="312.14" width="20.78" height="5.71" fill="#4b557e"/>
<rect x="178.7" y="317.25" width="28.3" height="5.71" fill="#4b557e"/>
<rect x="206.4" y="317.25" width="7.53" height="5.71" fill="#f0e132"/>
<rect x="213.32" y="317.25" width="7.53" height="5.71" fill="#cacf53"/>
<rect x="220.25" y="317.25" width="7.53" height="5.71" fill="#a0c166"/>
<rect x="227.18" y="317.25" width="7.53" height="5.71" fill="#74ae80"/>
<rect x="234.1" y="317.25" width="7.53" height="5.71" fill="#cacf53"/>
<rect x="241.02" y="317.25" width="7.53" height="5.71" fill="#a0c166"/>
<rect x="247.95" y="317.25" width="14.45" height="5.71" fill="#3d7d8b"/>
<rect x="261.8" y="317.25" width="27.7" height="5.71" fill="#4b557e"/>
<rect x="178.7" y="322.35" width="28.3" height="5.71" fill="#4b557e"/>
<rect x="206.4" y="322.35" width="7.53" height="5.71" fill="#cacf53"/>
<rect x="213.32" y="322.35" width="21.38" height="5.71" fill="#a0c166"/>
<rect x="234.1" y="322.35" width="14.45" height="5.71" fill="#cacf53"/>
<rect x="247.95" y="322.35" width="7.53" height="5.71" fill="#3d7d8b"/>
<rect x="254.88" y="322.35" width="7.53" height="5.71" fill="#74ae80"/>
<rect x="261.8" y="322.35" width="7.53" height="5.71" fill="#4a3a72"/>
<rect x="268.73" y="322.35" width="20.78" height="5.71" fill="#4b557e"/>
<rect x="178.7" y="327.46" width="14.45" height="5.71" fill="#4a3a72"/>
<rect x="192.55" y="327.46" width="7.53" height="5.71" fill="#456a88"/>
<rect x="199.47" y="327.46" width="7.53" height="5.71" fill="#4b557e"/>
<rect x="206.4" y="327.46" width="7.53" height="5.71" fill="#cacf53"/>
<rect x="213.32" y="327.46" width="21.38" height="5.71" fill="#a0c166"/>
<rect x="234.1" y="327.46" width="14.45" height="5.71" fill="#cacf53"/>
<rect x="247.95" y="327.46" width="7.53" height="5.71" fill="#3d7d8b"/>
<rect x="254.88" y="327.46" width="7.53" height="5.71" fill="#74ae80"/>
<rect x="261.8" y="327.46" width="7.53" height="5.71" fill="#4a3a72"/>
<rect x="268.73" y="327.46" width="7.53" height="5.71" fill="#4b557e"/>
<rect x="275.65" y="327.46" width="7.53" height="5.71" fill="#456a88"/>
<rect x="282.57" y="327.46" width="6.93" height="5.71" fill="#4b557e"/>
<rect x="178.7" y="332.56" width="14.45" height="5.71" fill="#4b557e"/>
<rect x="192.55" y="332.56" width="7.53" height="5.71" fill="#4a3a72"/>
<rect x="199.47" y="332.56" width="7.53" height="5.71" fill="#4b557e"/>
<rect x="206.4" y="332.56" width="7.53" height="5.71" fill="#cacf53"/>
<rect x="213.32" y="332.56" width="7.53" height="5.71" fill="#a0c166"/>
<rect x="220.25" y="332.56" width="14.45" height="5.71" fill="#74ae80"/>
<rect x="234.1" y="332.56" width="14.45" height="5.71" fill="#a0c166"/>
<rect x="247.95" y="332.56" width="7.53" height="5.71" fill="#40978f"/>
<rect x="254.88" y="332.56" width="7.53" height="5.71" fill="#74ae80"/>
<rect x="261.8" y="332.56" width="7.53" height="5.71" fill="#4a3a72"/>
<rect x="268.73" y="332.56" width="20.78" height="5.71" fill="#4b557e"/>
<rect x="178.7" y="337.67" width="14.45" height="5.71" fill="#4b557e"/>
<rect x="192.55" y="337.67" width="7.53" height="5.71" fill="#4a3a72"/>
<rect x="199.47" y="337.67" width="7.53" height="5.71" fill="#4b557e"/>
<rect x="206.4" y="337.67" width="7.53" height="5.71" fill="#f0e132"/>
<rect x="213.32" y="337.67" width="14.45" height="5.71" fill="#a0c166"/>
<rect x="227.18" y="337.67" width="7.53" height="5.71" fill="#74ae80"/>
<rect x="234.1" y="337.67" width="7.53" height="5.71" fill="#cacf53"/>
<rect x="241.02" y="337.67" width="7.53" height="5.71" fill="#a0c166"/>
<rect x="247.95" y="337.67" width="7.53" height="5.71" fill="#3d7d8b"/>
<rect x="254.88" y="337.67" width="7.53" height="5.71" fill="#74ae80"/>
<rect x="261.8" y="337.67" width="14.45" height="5.71" fill="#4a3a72"/>
<rect x="275.65" y="337.67" width="7.53" height="5.71" fill="#456a88"/>
<rect x="282.57" y="337.67" width="6.93" height="5.71" fill="#4b557e"/>
<rect x="178.7" y="342.78" width="14.45" height="5.71" fill="#4b557e"/>
<rect x="192.55" y="342.78" width="7.53" height="5.71" fill="#4a3a72"/>
<rect x="199.47" y="342.78" width="7.53" height="5.71" fill="#4b557e"/>
<rect x="206.4" y="342.78" width="7.53" height="5.71" fill="#cacf53"/>
<rect x="213.32" y="342.78" width="14.45" height="5.71" fill="#a0c166"/>
<rect x="227.18" y="342.78" width="7.53" height="5.71" fill="#74ae80"/>
<rect x="234.1" y="342.78" width="14.45" height="5.71" fill="#a0c166"/>
<rect x="247.95" y="342.78" width="7.53" height="5.71" fill="#3d7d8b"/>
<rect x="254.88" y="342.78" width="7.53" height="5.71" fill="#74ae80"/>
<rect x="261.8" y="342.78" width="14.45" height="5.71" fill="#4a3a72"/>
<rect x="275.65" y="342.78" width="13.85" height="5.71" fill="#4b557e"/>
<rect x="178.7" y="347.88" width="7.53" height="5.71" fill="#4b557e"/>
<rect x="185.62" y="347.88" width="7.53" height="5.71" fill="#4a3a72"/>
<rect x="192.55" y="347.88" width="14.45" height="5.71" fill="#4b557e"/>
<rect x="206.4" y="347.88" width="14.45" height="5.71" fill="#a0c166"/>
<rect x="220.25" y="347.88" width="7.53" height="5.71" fill="#74ae80"/>
<rect x="227.18" y="347.88" width="7.53" height="5.71" fill="#3d7d8b"/>
<rect x="234.1" y="347.88" width="7.53" height="5.71" fill="#f0e132"/>
<rect x="241.02" y="347.88" width="7.53" height="5.71" fill="#a0c166"/>
<rect x="247.95" y="347.88" width="7.53" height="5.71" fill="#40978f"/>
<rect x="254.88" y="347.88" width="7.53" height="5.71" fill="#74ae80"/>
<rect x="261.8" y="347.88" width="7.53" height="5.71" fill="#4a3a72"/>
<rect x="268.73" y="347.88" width="7.53" height="5.71" fill="#456a88"/>
<rect x="275.65" y="347.88" width="13.85" height="5.71" fill="#4b557e"/>
<rect x="178.7" y="352.99" width="14.45" height="5.71" fill="#4b557e"/>
<rect x="192.55" y="352.99" width="7.53" height="5.71" fill="#40978f"/>
<rect x="199.47" y="352.99" width="7.53" height="5.71" fill="#3d7d8b"/>
<rect x="206.4" y="352.99" width="7.53" height="5.71" fill="#74ae80"/>
<rect x="213.32" y="352.99" width="7.53" height="5.71" fill="#a0c166"/>
<rect x="220.25" y="352.99" width="7.53" height="5.71" fill="#74ae80"/>
<rect x="227.18" y="352.99" width="21.38" height="5.71" fill="#a0c166"/>
<rect x="247.95" y="352.99" width="14.45" height="5.71" fill="#74ae80"/>
<rect x="261.8" y="352.99" width="7.53" height="5.71" fill="#441a5c"/>
<rect x="268.73" y="352.99" width="7.53" height="5.71" fill="#4a3a72"/>
<rect x="275.65" y="352.99" width="7.53" height="5.71" fill="#4b557e"/>
<rect x="282.57" y="352.99" width="6.93" height="5.71" fill="#4a3a72"/>
<rect x="178.7" y="358.09" width="7.53" height="5.11" fill="#4a3a72"/>
<rect x="185.62" y="358.09" width="7.53" height="5.11" fill="#4b557e"/>
<rect x="192.55" y="358.09" width="7.53" height="5.11" fill="#456a88"/>
<rect x="199.47" y="358.09" width="7.53" height="5.11" fill="#3d7d8b"/>
<rect x="206.4" y="358.09" width="14.45" height="5.11" fill="#a0c166"/>
<rect x="220.25" y="358.09" width="7.53" height="5.11" fill="#74ae80"/>
<rect x="227.18" y="358.09" width="21.38" height="5.11" fill="#a0c166"/>
<rect x="247.95" y="358.09" width="7.53" height="5.11" fill="#40978f"/>
<rect x="254.88" y="358.09" width="7.53" height="5.11" fill="#74ae80"/>
<rect x="261.8" y="358.09" width="7.53" height="5.11" fill="#441a5c"/>
<rect x="268.73" y="358.09" width="7.53" height="5.11" fill="#4a3a72"/>
<rect x="275.65" y="358.09" width="13.85" height="5.11" fill="#4b557e"/>
<rect x="178.7" y="276.4" width="110.8" height="86.8" fill="none" stroke="#1a1a1a" stroke-width="0.9"/>
<text x="1301.33" y="1124.61" font-size="20" fill="#1a1a1a" transform="scale(0.2250,0.25)">Bglap</text>
<text x="1301.33" y="1145.04" font-size="20" fill="#1a1a1a" transform="scale(0.2250,0.25)">Mgst2</text>
<text x="1301.33" y="1165.46" font-size="20" fill="#1a1a1a" transform="scale(0.2250,0.25)">Gpld1</text>
<text x="1301.33" y="1185.88" font-size="20" fill="#1a1a1a" transform="scale(0.2250,0.25)">Fam19a5</text>
<text x="1301.33" y="1206.31" font-size="20" fill="#1a1a1a" transform="scale(0.2250,0.25)">Vit</text>
<text x="1301.33" y="1226.73" font-size="20" fill="#1a1a1a" transform="scale(0.2250,0.25)">Sfrp5</text>
<text x="1301.33" y="1247.15" font-size="20" fill="#1a1a1a" transform="scale(0.2250,0.25)">Rbp4</text>
<text x="1301.33" y="1267.58" font-size="20" fill="#1a1a1a" transform="scale(0.2250,0.25)">Col9a3</text>
<text x="1301.33" y="1288" font-size="20" fill="#1a1a1a" transform="scale(0.2250,0.25)">Cytl1</text>
<text x="1301.33" y="1308.42" font-size="20" fill="#1a1a1a" transform="scale(0.2250,0.25)">Matn3</text>
<text x="1301.33" y="1328.85" font-size="20" fill="#1a1a1a" transform="scale(0.2250,0.25)">Mia</text>
<text x="1301.33" y="1349.27" font-size="20" fill="#1a1a1a" transform="scale(0.2250,0.25)">Hapln1</text>
<text x="1301.33" y="1369.69" font-size="20" fill="#1a1a1a" transform="scale(0.2250,0.25)">Col9a2</text>
<text x="1301.33" y="1390.12" font-size="20" fill="#1a1a1a" transform="scale(0.2250,0.25)">Col9a1</text>
<text x="1301.33" y="1410.54" font-size="20" fill="#1a1a1a" transform="scale(0.2250,0.25)">Notum</text>
<text x="1301.33" y="1430.96" font-size="20" fill="#1a1a1a" transform="scale(0.2250,0.25)">Il17b</text>
<text x="1301.33" y="1451.39" font-size="20" fill="#1a1a1a" transform="scale(0.2250,0.25)">Ihh</text>
<text x="0" y="0" font-size="7.2" fill="#111" text-anchor="middle" transform="translate(173.9,321.9) rotate(-90)">secreted</text>
<rect x="178.7" y="368.8" width="7.53" height="5.72" fill="#40978f"/>
<rect x="185.62" y="368.8" width="7.53" height="5.72" fill="#3d7d8b"/>
<rect x="192.55" y="368.8" width="7.53" height="5.72" fill="#441a5c"/>
<rect x="199.47" y="368.8" width="7.53" height="5.72" fill="#4b557e"/>
<rect x="206.4" y="368.8" width="7.53" height="5.72" fill="#a0c166"/>
<rect x="213.32" y="368.8" width="7.53" height="5.72" fill="#cacf53"/>
<rect x="220.25" y="368.8" width="7.53" height="5.72" fill="#456a88"/>
<rect x="227.18" y="368.8" width="7.53" height="5.72" fill="#74ae80"/>
<rect x="234.1" y="368.8" width="7.53" height="5.72" fill="#cacf53"/>
<rect x="241.02" y="368.8" width="14.45" height="5.72" fill="#74ae80"/>
<rect x="254.88" y="368.8" width="7.53" height="5.72" fill="#a0c166"/>
<rect x="261.8" y="368.8" width="7.53" height="5.72" fill="#3d7d8b"/>
<rect x="268.73" y="368.8" width="7.53" height="5.72" fill="#4a3a72"/>
<rect x="275.65" y="368.8" width="7.53" height="5.72" fill="#441a5c"/>
<rect x="282.57" y="368.8" width="6.93" height="5.72" fill="#456a88"/>
<rect x="178.7" y="373.92" width="28.3" height="5.72" fill="#4b557e"/>
<rect x="206.4" y="373.92" width="14.45" height="5.72" fill="#cacf53"/>
<rect x="220.25" y="373.92" width="7.53" height="5.72" fill="#a0c166"/>
<rect x="227.18" y="373.92" width="7.53" height="5.72" fill="#74ae80"/>
<rect x="234.1" y="373.92" width="7.53" height="5.72" fill="#f0e132"/>
<rect x="241.02" y="373.92" width="14.45" height="5.72" fill="#40978f"/>
<rect x="254.88" y="373.92" width="7.53" height="5.72" fill="#3d7d8b"/>
<rect x="261.8" y="373.92" width="27.7" height="5.72" fill="#4b557e"/>
<rect x="178.7" y="379.04" width="28.3" height="5.72" fill="#4b557e"/>
<rect x="206.4" y="379.04" width="7.53" height="5.72" fill="#f0e132"/>
<rect x="213.32" y="379.04" width="7.53" height="5.72" fill="#cacf53"/>
<rect x="220.25" y="379.04" width="14.45" height="5.72" fill="#a0c166"/>
<rect x="234.1" y="379.04" width="7.53" height="5.72" fill="#cacf53"/>
<rect x="241.02" y="379.04" width="7.53" height="5.72" fill="#a0c166"/>
<rect x="247.95" y="379.04" width="7.53" height="5.72" fill="#3d7d8b"/>
<rect x="254.88" y="379.04" width="7.53" height="5.72" fill="#40978f"/>
<rect x="261.8" y="379.04" width="27.7" height="5.72" fill="#4b557e"/>
<rect x="178.7" y="384.17" width="28.3" height="5.72" fill="#4b557e"/>
<rect x="206.4" y="384.17" width="14.45" height="5.72" fill="#cacf53"/>
<rect x="220.25" y="384.17" width="14.45" height="5.72" fill="#a0c166"/>
<rect x="234.1" y="384.17" width="7.53" height="5.72" fill="#cacf53"/>
<rect x="241.02" y="384.17" width="7.53" height="5.72" fill="#a0c166"/>
<rect x="247.95" y="384.17" width="14.45" height="5.72" fill="#40978f"/>
<rect x="261.8" y="384.17" width="7.53" height="5.72" fill="#4a3a72"/>
<rect x="268.73" y="384.17" width="20.78" height="5.72" fill="#4b557e"/>
<rect x="178.7" y="389.29" width="28.3" height="5.72" fill="#4b557e"/>
<rect x="206.4" y="389.29" width="14.45" height="5.72" fill="#cacf53"/>
<rect x="220.25" y="389.29" width="14.45" height="5.72" fill="#a0c166"/>
<rect x="234.1" y="389.29" width="7.53" height="5.72" fill="#cacf53"/>
<rect x="241.02" y="389.29" width="7.53" height="5.72" fill="#a0c166"/>
<rect x="247.95" y="389.29" width="7.53" height="5.72" fill="#40978f"/>
<rect x="254.88" y="389.29" width="7.53" height="5.72" fill="#74ae80"/>
<rect x="261.8" y="389.29" width="7.53" height="5.72" fill="#4a3a72"/>
<rect x="268.73" y="389.29" width="20.78" height="5.72" fill="#4b557e"/>
<rect x="178.7" y="394.41" width="14.45" height="5.72" fill="#4b557e"/>
<rect x="192.55" y="394.41" width="7.53" height="5.72" fill="#456a88"/>
<rect x="199.47" y="394.41" width="7.53" height="5.72" fill="#4b557e"/>
<rect x="206.4" y="394.41" width="14.45" height="5.72" fill="#cacf53"/>
<rect x="220.25" y="394.41" width="7.53" height="5.72" fill="#a0c166"/>
<rect x="227.18" y="394.41" width="7.53" height="5.72" fill="#74ae80"/>
<rect x="234.1" y="394.41" width="7.53" height="5.72" fill="#cacf53"/>
<rect x="241.02" y="394.41" width="7.53" height="5.72" fill="#a0c166"/>
<rect x="247.95" y="394.41" width="7.53" height="5.72" fill="#40978f"/>
<rect x="254.88" y="394.41" width="7.53" height="5.72" fill="#74ae80"/>
<rect x="261.8" y="394.41" width="7.53" height="5.72" fill="#4a3a72"/>
<rect x="268.73" y="394.41" width="20.78" height="5.72" fill="#4b557e"/>
<rect x="178.7" y="399.53" width="14.45" height="5.72" fill="#456a88"/>
<rect x="192.55" y="399.53" width="7.53" height="5.72" fill="#4b557e"/>
<rect x="199.47" y="399.53" width="7.53" height="5.72" fill="#456a88"/>
<rect x="206.4" y="399.53" width="14.45" height="5.72" fill="#cacf53"/>
<rect x="220.25" y="399.53" width="14.45" height="5.72" fill="#a0c166"/>
<rect x="234.1" y="399.53" width="7.53" height="5.72" fill="#cacf53"/>
<rect x="241.02" y="399.53" width="7.53" height="5.72" fill="#a0c166"/>
<rect x="247.95" y="399.53" width="7.53" height="5.72" fill="#3d7d8b"/>
<rect x="254.88" y="399.53" width="7.53" height="5.72" fill="#74ae80"/>
<rect x="261.8" y="399.53" width="7.53" height="5.72" fill="#4a3a72"/>
<rect x="268.73" y="399.53" width="7.53" height="5.72" fill="#4b557e"/>
<rect x="275.65" y="399.53" width="7.53" height="5.72" fill="#4a3a72"/>
<rect x="282.57" y="399.53" width="6.93" height="5.72" fill="#4b557e"/>
<rect x="178.7" y="404.66" width="14.45" height="5.72" fill="#456a88"/>
<rect x="192.55" y="404.66" width="7.53" height="5.72" fill="#4a3a72"/>
<rect x="199.47" y="404.66" width="7.53" height="5.72" fill="#456a88"/>
<rect x="206.4" y="404.66" width="14.45" height="5.72" fill="#cacf53"/>
<rect x="220.25" y="404.66" width="14.45" height="5.72" fill="#a0c166"/>
<rect x="234.1" y="404.66" width="7.53" height="5.72" fill="#cacf53"/>
<rect x="241.02" y="404.66" width="7.53" height="5.72" fill="#a0c166"/>
<rect x="247.95" y="404.66" width="7.53" height="5.72" fill="#3d7d8b"/>
<rect x="254.88" y="404.66" width="7.53" height="5.72" fill="#74ae80"/>
<rect x="261.8" y="404.66" width="7.53" height="5.72" fill="#4a3a72"/>
<rect x="268.73" y="404.66" width="7.53" height="5.72" fill="#4b557e"/>
<rect x="275.65" y="404.66" width="7.53" height="5.72" fill="#4a3a72"/>
<rect x="282.57" y="404.66" width="6.93" height="5.72" fill="#4b557e"/>
<rect x="178.7" y="409.78" width="7.53" height="5.72" fill="#4b557e"/>
<rect x="185.62" y="409.78" width="14.45" height="5.72" fill="#456a88"/>
<rect x="199.47" y="409.78" width="7.53" height="5.72" fill="#4b557e"/>
<rect x="206.4" y="409.78" width="14.45" height="5.72" fill="#cacf53"/>
<rect x="220.25" y="409.78" width="14.45" height="5.72" fill="#a0c166"/>
<rect x="234.1" y="409.78" width="7.53" height="5.72" fill="#cacf53"/>
<rect x="241.02" y="409.78" width="7.53" height="5.72" fill="#a0c166"/>
<rect x="247.95" y="409.78" width="7.53" height="5.72" fill="#3d7d8b"/>
<rect x="254.88" y="409.78" width="7.53" height="5.72" fill="#74ae80"/>
<rect x="261.8" y="409.78" width="7.53" height="5.72" fill="#4a3a72"/>
<rect x="268.73" y="409.78" width="20.78" height="5.72" fill="#4b557e"/>
<rect x="178.7" y="414.9" width="14.45" height="5.72" fill="#456a88"/>
<rect x="192.55" y="414.9" width="7.53" height="5.72" fill="#4b557e"/>
<rect x="199.47" y="414.9" width="7.53" height="5.72" fill="#456a88"/>
<rect x="206.4" y="414.9" width="14.45" height="5.72" fill="#cacf53"/>
<rect x="220.25" y="414.9" width="28.3" height="5.72" fill="#a0c166"/>
<rect x="247.95" y="414.9" width="7.53" height="5.72" fill="#40978f"/>
<rect x="254.88" y="414.9" width="7.53" height="5.72" fill="#a0c166"/>
<rect x="261.8" y="414.9" width="7.53" height="5.72" fill="#4a3a72"/>
<rect x="268.73" y="414.9" width="20.78" height="5.72" fill="#4b557e"/>
<rect x="178.7" y="420.02" width="7.53" height="5.72" fill="#456a88"/>
<rect x="185.62" y="420.02" width="7.53" height="5.72" fill="#4b557e"/>
<rect x="192.55" y="420.02" width="14.45" height="5.72" fill="#456a88"/>
<rect x="206.4" y="420.02" width="14.45" height="5.72" fill="#a0c166"/>
<rect x="220.25" y="420.02" width="7.53" height="5.72" fill="#74ae80"/>
<rect x="227.18" y="420.02" width="7.53" height="5.72" fill="#a0c166"/>
<rect x="234.1" y="420.02" width="7.53" height="5.72" fill="#cacf53"/>
<rect x="241.02" y="420.02" width="7.53" height="5.72" fill="#a0c166"/>
<rect x="247.95" y="420.02" width="14.45" height="5.72" fill="#74ae80"/>
<rect x="261.8" y="420.02" width="7.53" height="5.72" fill="#4b557e"/>
<rect x="268.73" y="420.02" width="7.53" height="5.72" fill="#4a3a72"/>
<rect x="275.65" y="420.02" width="13.85" height="5.72" fill="#4b557e"/>
<rect x="178.7" y="425.14" width="7.53" height="5.72" fill="#456a88"/>
<rect x="185.62" y="425.14" width="7.53" height="5.72" fill="#4a3a72"/>
<rect x="192.55" y="425.14" width="14.45" height="5.72" fill="#456a88"/>
<rect x="206.4" y="425.14" width="7.53" height="5.72" fill="#cacf53"/>
<rect x="213.32" y="425.14" width="35.23" height="5.72" fill="#a0c166"/>
<rect x="247.95" y="425.14" width="14.45" height="5.72" fill="#74ae80"/>
<rect x="261.8" y="425.14" width="7.53" height="5.72" fill="#4b557e"/>
<rect x="268.73" y="425.14" width="7.53" height="5.72" fill="#456a88"/>
<rect x="275.65" y="425.14" width="13.85" height="5.72" fill="#4b557e"/>
<rect x="178.7" y="430.27" width="7.53" height="5.72" fill="#456a88"/>
<rect x="185.62" y="430.27" width="7.53" height="5.72" fill="#4a3a72"/>
<rect x="192.55" y="430.27" width="7.53" height="5.72" fill="#456a88"/>
<rect x="199.47" y="430.27" width="7.53" height="5.72" fill="#441a5c"/>
<rect x="206.4" y="430.27" width="14.45" height="5.72" fill="#a0c166"/>
<rect x="220.25" y="430.27" width="7.53" height="5.72" fill="#cacf53"/>
<rect x="227.18" y="430.27" width="7.53" height="5.72" fill="#a0c166"/>
<rect x="234.1" y="430.27" width="7.53" height="5.72" fill="#cacf53"/>
<rect x="241.02" y="430.27" width="14.45" height="5.72" fill="#a0c166"/>
<rect x="254.88" y="430.27" width="7.53" height="5.72" fill="#74ae80"/>
<rect x="261.8" y="430.27" width="7.53" height="5.72" fill="#4b557e"/>
<rect x="268.73" y="430.27" width="7.53" height="5.72" fill="#456a88"/>
<rect x="275.65" y="430.27" width="7.53" height="5.72" fill="#4b557e"/>
<rect x="282.57" y="430.27" width="6.93" height="5.72" fill="#4a3a72"/>
<rect x="178.7" y="435.39" width="7.53" height="5.72" fill="#456a88"/>
<rect x="185.62" y="435.39" width="21.38" height="5.72" fill="#4a3a72"/>
<rect x="206.4" y="435.39" width="7.53" height="5.72" fill="#f0e132"/>
<rect x="213.32" y="435.39" width="14.45" height="5.72" fill="#a0c166"/>
<rect x="227.18" y="435.39" width="7.53" height="5.72" fill="#74ae80"/>
<rect x="234.1" y="435.39" width="7.53" height="5.72" fill="#cacf53"/>
<rect x="241.02" y="435.39" width="7.53" height="5.72" fill="#a0c166"/>
<rect x="247.95" y="435.39" width="7.53" height="5.72" fill="#74ae80"/>
<rect x="254.88" y="435.39" width="7.53" height="5.72" fill="#3d7d8b"/>
<rect x="261.8" y="435.39" width="7.53" height="5.72" fill="#4b557e"/>
<rect x="268.73" y="435.39" width="7.53" height="5.72" fill="#40978f"/>
<rect x="275.65" y="435.39" width="13.85" height="5.72" fill="#4b557e"/>
<rect x="178.7" y="440.51" width="28.3" height="5.72" fill="#4b557e"/>
<rect x="206.4" y="440.51" width="7.53" height="5.72" fill="#f0e132"/>
<rect x="213.32" y="440.51" width="7.53" height="5.72" fill="#cacf53"/>
<rect x="220.25" y="440.51" width="7.53" height="5.72" fill="#3d7d8b"/>
<rect x="227.18" y="440.51" width="7.53" height="5.72" fill="#74ae80"/>
<rect x="234.1" y="440.51" width="7.53" height="5.72" fill="#a0c166"/>
<rect x="241.02" y="440.51" width="7.53" height="5.72" fill="#f0e132"/>
<rect x="247.95" y="440.51" width="7.53" height="5.72" fill="#40978f"/>
<rect x="254.88" y="440.51" width="7.53" height="5.72" fill="#74ae80"/>
<rect x="261.8" y="440.51" width="27.7" height="5.72" fill="#4b557e"/>
<rect x="178.7" y="445.63" width="7.53" height="5.72" fill="#456a88"/>
<rect x="185.62" y="445.63" width="7.53" height="5.72" fill="#4b557e"/>
<rect x="192.55" y="445.63" width="14.45" height="5.72" fill="#456a88"/>
<rect x="206.4" y="445.63" width="42.15" height="5.72" fill="#a0c166"/>
<rect x="247.95" y="445.63" width="7.53" height="5.72" fill="#74ae80"/>
<rect x="254.88" y="445.63" width="7.53" height="5.72" fill="#a0c166"/>
<rect x="261.8" y="445.63" width="7.53" height="5.72" fill="#441a5c"/>
<rect x="268.73" y="445.63" width="14.45" height="5.72" fill="#4a3a72"/>
<rect x="282.57" y="445.63" width="6.93" height="5.72" fill="#456a88"/>
<rect x="178.7" y="450.76" width="14.45" height="5.72" fill="#40978f"/>
<rect x="192.55" y="450.76" width="14.45" height="5.72" fill="#3d7d8b"/>
<rect x="206.4" y="450.76" width="7.53" height="5.72" fill="#a0c166"/>
<rect x="213.32" y="450.76" width="14.45" height="5.72" fill="#74ae80"/>
<rect x="227.18" y="450.76" width="21.38" height="5.72" fill="#a0c166"/>
<rect x="247.95" y="450.76" width="7.53" height="5.72" fill="#74ae80"/>
<rect x="254.88" y="450.76" width="7.53" height="5.72" fill="#a0c166"/>
<rect x="261.8" y="450.76" width="7.53" height="5.72" fill="#441a5c"/>
<rect x="268.73" y="450.76" width="7.53" height="5.72" fill="#4b557e"/>
<rect x="275.65" y="450.76" width="7.53" height="5.72" fill="#441a5c"/>
<rect x="282.57" y="450.76" width="6.93" height="5.72" fill="#4a3a72"/>
<rect x="178.7" y="455.88" width="7.53" height="5.12" fill="#4a3a72"/>
<rect x="185.62" y="455.88" width="7.53" height="5.12" fill="#4b557e"/>
<rect x="192.55" y="455.88" width="7.53" height="5.12" fill="#40978f"/>
<rect x="199.47" y="455.88" width="7.53" height="5.12" fill="#4a3a72"/>
<rect x="206.4" y="455.88" width="7.53" height="5.12" fill="#a0c166"/>
<rect x="213.32" y="455.88" width="14.45" height="5.12" fill="#f0e132"/>
<rect x="227.18" y="455.88" width="7.53" height="5.12" fill="#3d7d8b"/>
<rect x="234.1" y="455.88" width="7.53" height="5.12" fill="#40978f"/>
<rect x="241.02" y="455.88" width="7.53" height="5.12" fill="#cacf53"/>
<rect x="247.95" y="455.88" width="7.53" height="5.12" fill="#74ae80"/>
<rect x="254.88" y="455.88" width="14.45" height="5.12" fill="#4a3a72"/>
<rect x="268.73" y="455.88" width="14.45" height="5.12" fill="#40978f"/>
<rect x="282.57" y="455.88" width="6.93" height="5.12" fill="#4a3a72"/>
<rect x="178.7" y="368.8" width="110.8" height="92.2" fill="none" stroke="#1a1a1a" stroke-width="0.9"/>
<text x="1301.33" y="1494.24" font-size="20" fill="#1a1a1a" transform="scale(0.2250,0.25)">Meg3</text>
<text x="1301.33" y="1514.73" font-size="20" fill="#1a1a1a" transform="scale(0.2250,0.25)">Serpina1b</text>
<text x="1301.33" y="1535.22" font-size="20" fill="#1a1a1a" transform="scale(0.2250,0.25)">Lect1</text>
<text x="1301.33" y="1555.71" font-size="20" fill="#1a1a1a" transform="scale(0.2250,0.25)">Calml3</text>
<text x="1301.33" y="1576.2" font-size="20" fill="#1a1a1a" transform="scale(0.2250,0.25)">Ncmap</text>
<text x="1301.33" y="1596.69" font-size="20" fill="#1a1a1a" transform="scale(0.2250,0.25)">3110079O15Rik</text>
<text x="1301.33" y="1617.18" font-size="20" fill="#1a1a1a" transform="scale(0.2250,0.25)">Serpina1a</text>
<text x="1301.33" y="1637.67" font-size="20" fill="#1a1a1a" transform="scale(0.2250,0.25)">Serpina1d</text>
<text x="1301.33" y="1658.16" font-size="20" fill="#1a1a1a" transform="scale(0.2250,0.25)">Fxyd2</text>
<text x="1301.33" y="1678.64" font-size="20" fill="#1a1a1a" transform="scale(0.2250,0.25)">Syt8</text>
<text x="1301.33" y="1699.13" font-size="20" fill="#1a1a1a" transform="scale(0.2250,0.25)">Papss2</text>
<text x="1301.33" y="1719.62" font-size="20" fill="#1a1a1a" transform="scale(0.2250,0.25)">Crispld1</text>
<text x="1301.33" y="1740.11" font-size="20" fill="#1a1a1a" transform="scale(0.2250,0.25)">1500015O10Rik</text>
<text x="1301.33" y="1760.6" font-size="20" fill="#1a1a1a" transform="scale(0.2250,0.25)">Cenpp</text>
<text x="1301.33" y="1781.09" font-size="20" fill="#1a1a1a" transform="scale(0.2250,0.25)">Chl1</text>
<text x="1301.33" y="1801.58" font-size="20" fill="#1a1a1a" transform="scale(0.2250,0.25)">Slc6a1</text>
<text x="1301.33" y="1822.07" font-size="20" fill="#1a1a1a" transform="scale(0.2250,0.25)">Serpina1c</text>
<text x="1301.33" y="1842.56" font-size="20" fill="#1a1a1a" transform="scale(0.2250,0.25)">Stmn1</text>
<text x="0" y="0" font-size="7.2" fill="#111" text-anchor="middle" transform="translate(173.9,411.2) rotate(-90)">other</text>
<circle cx="22.5" cy="464.5" r="1.85" fill="#c0102e"/>
<circle cx="29.5" cy="464.5" r="1.85" fill="#c0102e"/>
<circle cx="36.5" cy="464.5" r="1.85" fill="#c0102e"/>
<circle cx="43.5" cy="464.5" r="1.85" fill="#c0102e"/>
<circle cx="50.5" cy="464.5" r="1.85" fill="#4b2280"/>
<circle cx="57.5" cy="464.5" r="1.85" fill="#4b2280"/>
<circle cx="64.5" cy="464.5" r="1.85" fill="#4b2280"/>
<circle cx="71.5" cy="464.5" r="1.85" fill="#4b2280"/>
<circle cx="78.5" cy="464.5" r="1.85" fill="#4a6cb8"/>
<circle cx="85.5" cy="464.5" r="1.85" fill="#4a6cb8"/>
<circle cx="92.5" cy="464.5" r="1.85" fill="#4a6cb8"/>
<circle cx="99.5" cy="464.5" r="1.85" fill="#4a6cb8"/>
<circle cx="106.5" cy="464.5" r="1.85" fill="#e88a18"/>
<circle cx="113.5" cy="464.5" r="1.85" fill="#e88a18"/>
<circle cx="120.5" cy="464.5" r="1.85" fill="#e88a18"/>
<circle cx="127.5" cy="464.5" r="1.85" fill="#e88a18"/>
<text x="33" y="475.8" font-size="7.0" text-anchor="middle" font-weight="normal" font-style="normal" fill="#111" >A</text>
<text x="61" y="475.8" font-size="7.0" text-anchor="middle" font-weight="normal" font-style="normal" fill="#111" >AB</text>
<text x="89" y="475.8" font-size="7.0" text-anchor="middle" font-weight="normal" font-style="normal" fill="#111" >B</text>
<text x="117" y="475.8" font-size="7.0" text-anchor="middle" font-weight="normal" font-style="normal" fill="#111" >DN</text>
<circle cx="182.16" cy="465.6" r="1.85" fill="#c0102e"/>
<circle cx="189.09" cy="465.6" r="1.85" fill="#c0102e"/>
<circle cx="196.01" cy="465.6" r="1.85" fill="#c0102e"/>
<circle cx="202.94" cy="465.6" r="1.85" fill="#c0102e"/>
<circle cx="209.86" cy="465.6" r="1.85" fill="#4b2280"/>
<circle cx="216.79" cy="465.6" r="1.85" fill="#4b2280"/>
<circle cx="223.71" cy="465.6" r="1.85" fill="#4b2280"/>
<circle cx="230.64" cy="465.6" r="1.85" fill="#4b2280"/>
<circle cx="237.56" cy="465.6" r="1.85" fill="#4a6cb8"/>
<circle cx="244.49" cy="465.6" r="1.85" fill="#4a6cb8"/>
<circle cx="251.41" cy="465.6" r="1.85" fill="#4a6cb8"/>
<circle cx="258.34" cy="465.6" r="1.85" fill="#4a6cb8"/>
<circle cx="265.26" cy="465.6" r="1.85" fill="#e88a18"/>
<circle cx="272.19" cy="465.6" r="1.85" fill="#e88a18"/>
<circle cx="279.11" cy="465.6" r="1.85" fill="#e88a18"/>
<circle cx="286.04" cy="465.6" r="1.85" fill="#e88a18"/>
<text x="192.55" y="476.9" font-size="7.0" text-anchor="middle" font-weight="normal" font-style="normal" fill="#111" >A</text>
<text x="220.25" y="476.9" font-size="7.0" text-anchor="middle" font-weight="normal" font-style="normal" fill="#111" >AB</text>
<text x="247.95" y="476.9" font-size="7.0" text-anchor="middle" font-weight="normal" font-style="normal" fill="#111" >B</text>
<text x="275.65" y="476.9" font-size="7.0" text-anchor="middle" font-weight="normal" font-style="normal" fill="#111" >DN</text>
<text x="35.5" y="32" font-size="10" text-anchor="start" font-weight="normal" font-style="normal" fill="#111" textLength="78" lengthAdjust="spacingAndGlyphs">Osteoblastic genes</text>
<text x="194.2" y="31.8" font-size="10" text-anchor="start" font-weight="normal" font-style="normal" fill="#111" textLength="80" lengthAdjust="spacingAndGlyphs">Chondrocyte genes</text>
<text x="415.4" y="128.8" font-size="10" text-anchor="start" font-weight="normal" font-style="normal" fill="#111" textLength="79" lengthAdjust="spacingAndGlyphs">Osteoblastic genes</text>
<text x="413.8" y="301.9" font-size="10" text-anchor="start" font-weight="normal" font-style="normal" fill="#111" textLength="80" lengthAdjust="spacingAndGlyphs">Chondrocyte genes</text>
<text x="7.4" y="17.6" font-size="12.9" text-anchor="start" font-weight="bold" font-style="normal" fill="#000" >A</text>
<text x="167.6" y="17.5" font-size="12.9" text-anchor="start" font-weight="bold" font-style="normal" fill="#000" >B</text>
<text x="368.2" y="131" font-size="12.9" text-anchor="start" font-weight="bold" font-style="normal" fill="#000" >C</text>
<text x="368.2" y="304.2" font-size="12.9" text-anchor="start" font-weight="bold" font-style="normal" fill="#000" >D</text>
<text x="7.3" y="503.9" font-size="12.9" text-anchor="start" font-weight="bold" font-style="normal" fill="#000" >E</text>
<text x="88.3" y="503.8" font-size="12.9" text-anchor="start" font-weight="bold" font-style="normal" fill="#000" >F</text>
<text x="174.2" y="503.8" font-size="12.9" text-anchor="start" font-weight="bold" font-style="normal" fill="#000" >G</text>
<text x="259" y="503.8" font-size="12.9" text-anchor="start" font-weight="bold" font-style="normal" fill="#000" >H</text>
<text x="339" y="503.8" font-size="12.9" text-anchor="start" font-weight="bold" font-style="normal" fill="#000" >I</text>
<text x="431.5" y="503.8" font-size="12.9" text-anchor="start" font-weight="bold" font-style="normal" fill="#000" >J</text>
<defs><linearGradient id="cb" x1="0" y1="0" x2="0" y2="1"><stop offset="0.000" stop-color="#3d1a58"/><stop offset="0.050" stop-color="#3d2661"/><stop offset="0.100" stop-color="#3e316b"/><stop offset="0.150" stop-color="#3e3d74"/><stop offset="0.200" stop-color="#3f487e"/><stop offset="0.250" stop-color="#3f5487"/><stop offset="0.300" stop-color="#3c5f88"/><stop offset="0.350" stop-color="#386a89"/><stop offset="0.400" stop-color="#357589"/><stop offset="0.450" stop-color="#31808a"/><stop offset="0.500" stop-color="#2e8b8b"/><stop offset="0.550" stop-color="#459682"/><stop offset="0.600" stop-color="#5ca17a"/><stop offset="0.650" stop-color="#72ad71"/><stop offset="0.700" stop-color="#89b869"/><stop offset="0.750" stop-color="#a0c360"/><stop offset="0.800" stop-color="#b0c956"/><stop offset="0.850" stop-color="#c0cf4c"/><stop offset="0.900" stop-color="#d0d642"/><stop offset="0.950" stop-color="#e0dc38"/><stop offset="1.000" stop-color="#f0e22e"/></linearGradient></defs>
<rect x="329" y="33.9" width="12.6" height="58" fill="url(#cb)"/>
<rect x="329" y="35.7" width="2.6" height="1" fill="#fff"/>
<rect x="339" y="35.7" width="2.6" height="1" fill="#fff"/>
<text x="344.6" y="38.55" font-size="6.6" text-anchor="start" font-weight="normal" font-style="normal" fill="#111" >2</text>
<rect x="329" y="48.9" width="2.6" height="1" fill="#fff"/>
<rect x="339" y="48.9" width="2.6" height="1" fill="#fff"/>
<text x="344.6" y="51.75" font-size="6.6" text-anchor="start" font-weight="normal" font-style="normal" fill="#111" >1</text>
<rect x="329" y="62.3" width="2.6" height="1" fill="#fff"/>
<rect x="339" y="62.3" width="2.6" height="1" fill="#fff"/>
<text x="344.6" y="65.15" font-size="6.6" text-anchor="start" font-weight="normal" font-style="normal" fill="#111" >0</text>
<rect x="329" y="75.9" width="2.6" height="1" fill="#fff"/>
<rect x="339" y="75.9" width="2.6" height="1" fill="#fff"/>
<text x="344.6" y="78.75" font-size="6.6" text-anchor="start" font-weight="normal" font-style="normal" fill="#111" >&#8722;1</text>
<rect x="329" y="88.7" width="2.6" height="1" fill="#fff"/>
<rect x="339" y="88.7" width="2.6" height="1" fill="#fff"/>
<text x="344.6" y="91.55" font-size="6.6" text-anchor="start" font-weight="normal" font-style="normal" fill="#111" >&#8722;2</text>
<rect x="401.8" y="134" width="1.2" height="134" fill="#222"/>
<rect x="399.6" y="161.56" width="2.4" height="1" fill="#222"/>
<text x="394.8" y="164.31" font-size="6.5" text-anchor="end" font-weight="normal" font-style="normal" fill="#111" >0.4</text>
<rect x="399.6" y="196" width="2.4" height="1" fill="#222"/>
<text x="394.8" y="198.75" font-size="6.5" text-anchor="end" font-weight="normal" font-style="normal" fill="#111" >0.0</text>
<rect x="399.6" y="230.44" width="2.4" height="1" fill="#222"/>
<text x="394.8" y="233.19" font-size="6.5" text-anchor="end" font-weight="normal" font-style="normal" fill="#111" >&#8722;0.4</text>
<rect x="399.6" y="264.88" width="2.4" height="1" fill="#222"/>
<text x="394.8" y="267.63" font-size="6.5" text-anchor="end" font-weight="normal" font-style="normal" fill="#111" >&#8722;0.8</text>
<text x="0" y="0" font-size="7.4" fill="#111" text-anchor="middle" transform="translate(376,200.1) rotate(-90)" textLength="35.6" lengthAdjust="spacingAndGlyphs">GSVA score</text>
<rect x="404.8" y="152.59" width="1.2" height="43.91" fill="#c62848"/>
<rect x="406" y="186.17" width="1.2" height="10.33" fill="#c62848"/>
<rect x="407.2" y="196.5" width="1.2" height="14.64" fill="#c62848"/>
<rect x="408.4" y="196.5" width="1.2" height="28.41" fill="#c62848"/>
<rect x="409.6" y="139.67" width="1.2" height="56.83" fill="#6e42a6"/>
<rect x="410.8" y="143.12" width="1.2" height="53.38" fill="#6e42a6"/>
<rect x="412" y="158.62" width="1.2" height="37.88" fill="#6e42a6"/>
<rect x="413.2" y="164.64" width="1.2" height="31.86" fill="#6e42a6"/>
<rect x="414.4" y="156.89" width="1.2" height="39.61" fill="#6e8ed0"/>
<rect x="415.6" y="155.17" width="1.2" height="41.33" fill="#6e8ed0"/>
<rect x="416.8" y="177.56" width="1.2" height="18.94" fill="#6e8ed0"/>
<rect x="419.2" y="196.5" width="1.2" height="49.08" fill="#e8a03c"/>
<rect x="420.4" y="196.5" width="1.2" height="55.96" fill="#e8a03c"/>
<rect x="421.6" y="196.5" width="1.2" height="57.69" fill="#e8a03c"/>
<rect x="422.8" y="196.5" width="1.2" height="65.44" fill="#e8a03c"/>
<rect x="431.6" y="184.96" width="1.2" height="11.54" fill="#c62848"/>
<rect x="432.8" y="186.68" width="1.2" height="9.82" fill="#c62848"/>
<rect x="434" y="196.5" width="1.2" height="11.62" fill="#c62848"/>
<rect x="435.2" y="196.5" width="1.2" height="15.5" fill="#c62848"/>
<rect x="436.4" y="147.85" width="1.2" height="48.65" fill="#6e42a6"/>
<rect x="437.6" y="144.84" width="1.2" height="51.66" fill="#6e42a6"/>
<rect x="438.8" y="165.76" width="1.2" height="30.74" fill="#6e42a6"/>
<rect x="440" y="164.64" width="1.2" height="31.86" fill="#6e42a6"/>
<rect x="441.2" y="173.25" width="1.2" height="23.25" fill="#6e8ed0"/>
<rect x="442.4" y="159.48" width="1.2" height="37.02" fill="#6e8ed0"/>
<rect x="443.6" y="183.59" width="1.2" height="12.91" fill="#6e8ed0"/>
<rect x="446" y="196.5" width="1.2" height="43.05" fill="#e8a03c"/>
<rect x="447.2" y="196.5" width="1.2" height="44.77" fill="#e8a03c"/>
<rect x="448.4" y="196.5" width="1.2" height="46.49" fill="#e8a03c"/>
<rect x="449.6" y="196.5" width="1.2" height="55.1" fill="#e8a03c"/>
<rect x="458.6" y="160.34" width="1.2" height="36.16" fill="#c62848"/>
<rect x="459.8" y="188.92" width="1.2" height="7.58" fill="#c62848"/>
<rect x="461" y="191.33" width="1.2" height="5.17" fill="#c62848"/>
<rect x="462.2" y="196.5" width="1.2" height="30.13" fill="#c62848"/>
<rect x="463.4" y="141.4" width="1.2" height="55.1" fill="#6e42a6"/>
<rect x="464.6" y="141.4" width="1.2" height="55.1" fill="#6e42a6"/>
<rect x="465.8" y="156.89" width="1.2" height="39.61" fill="#6e42a6"/>
<rect x="467" y="193.92" width="1.2" height="2.58" fill="#6e42a6"/>
<rect x="468.2" y="165.5" width="1.2" height="31" fill="#6e8ed0"/>
<rect x="469.4" y="164.64" width="1.2" height="31.86" fill="#6e8ed0"/>
<rect x="470.6" y="187.89" width="1.2" height="8.61" fill="#6e8ed0"/>
<rect x="471.8" y="196.5" width="1.2" height="27.55" fill="#6e8ed0"/>
<rect x="473" y="196.5" width="1.2" height="51.66" fill="#e8a03c"/>
<rect x="474.2" y="196.5" width="1.2" height="42.19" fill="#e8a03c"/>
<rect x="475.4" y="196.5" width="1.2" height="36.16" fill="#e8a03c"/>
<rect x="476.6" y="196.5" width="1.2" height="55.96" fill="#e8a03c"/>
<rect x="485.6" y="193.06" width="1.2" height="3.44" fill="#c62848"/>
<rect x="486.8" y="196.5" width="1.2" height="14.21" fill="#c62848"/>
<rect x="488" y="196.5" width="1.2" height="14.21" fill="#c62848"/>
<rect x="489.2" y="196.5" width="1.2" height="33.58" fill="#c62848"/>
<rect x="490.4" y="140.97" width="1.2" height="55.53" fill="#6e42a6"/>
<rect x="491.6" y="166.37" width="1.2" height="30.13" fill="#6e42a6"/>
<rect x="492.8" y="144.84" width="1.2" height="51.66" fill="#6e42a6"/>
<rect x="494" y="183.59" width="1.2" height="12.91" fill="#6e42a6"/>
<rect x="495.2" y="161.2" width="1.2" height="35.3" fill="#6e8ed0"/>
<rect x="496.4" y="144.84" width="1.2" height="51.66" fill="#6e8ed0"/>
<rect x="497.6" y="170.67" width="1.2" height="25.83" fill="#6e8ed0"/>
<rect x="498.8" y="196.5" width="1.2" height="23.68" fill="#6e8ed0"/>
<rect x="500" y="196.5" width="1.2" height="32.72" fill="#e8a03c"/>
<rect x="501.2" y="196.5" width="1.2" height="40.9" fill="#e8a03c"/>
<rect x="502.4" y="196.5" width="1.2" height="50.8" fill="#e8a03c"/>
<rect x="503.6" y="196.5" width="1.2" height="49.08" fill="#e8a03c"/>
<rect x="400.9" y="196" width="106.3" height="1" fill="#222"/>
<text x="406.8" y="273.2" font-size="7" text-anchor="start" font-weight="normal" font-style="normal" fill="#111" textLength="18" lengthAdjust="spacingAndGlyphs">Other</text>
<text x="428.7" y="273.2" font-size="7" text-anchor="start" font-weight="normal" font-style="normal" fill="#111" textLength="27.4" lengthAdjust="spacingAndGlyphs">Secreted</text>
<text x="457.6" y="273.2" font-size="7" text-anchor="start" font-weight="normal" font-style="normal" fill="#111" textLength="23.3" lengthAdjust="spacingAndGlyphs">Surface</text>
<text x="491.2" y="273.2" font-size="7" text-anchor="start" font-weight="normal" font-style="normal" fill="#111" textLength="9.9" lengthAdjust="spacingAndGlyphs">TFs</text>
<rect x="403.5" y="276.85" width="24.1" height="1.3" fill="#666"/>
<rect x="430.5" y="276.85" width="24.1" height="1.3" fill="#666"/>
<rect x="457.2" y="276.85" width="24.1" height="1.3" fill="#666"/>
<rect x="484.0" y="276.85" width="24.3" height="1.3" fill="#666"/>
<rect x="401.4" y="307.4" width="1.2" height="137.2" fill="#222"/>
<rect x="399.2" y="335.5" width="2.4" height="1" fill="#222"/>
<text x="394.4" y="338.25" font-size="6.5" text-anchor="end" font-weight="normal" font-style="normal" fill="#111" >0.4</text>
<rect x="399.2" y="370.7" width="2.4" height="1" fill="#222"/>
<text x="394.4" y="373.45" font-size="6.5" text-anchor="end" font-weight="normal" font-style="normal" fill="#111" >0.0</text>
<rect x="399.2" y="405.9" width="2.4" height="1" fill="#222"/>
<text x="394.4" y="408.65" font-size="6.5" text-anchor="end" font-weight="normal" font-style="normal" fill="#111" >&#8722;0.4</text>
<rect x="399.2" y="441.1" width="2.4" height="1" fill="#222"/>
<text x="394.4" y="443.85" font-size="6.5" text-anchor="end" font-weight="normal" font-style="normal" fill="#111" >&#8722;0.8</text>
<text x="0" y="0" font-size="7.4" fill="#111" text-anchor="middle" transform="translate(375.6,374.8) rotate(-90)" textLength="35.6" lengthAdjust="spacingAndGlyphs">GSVA score</text>
<rect x="405.9" y="323.06" width="1.2" height="48.14" fill="#c62848"/>
<rect x="407.1" y="321.39" width="1.2" height="49.81" fill="#c62848"/>
<rect x="408.3" y="327.2" width="1.2" height="44" fill="#c62848"/>
<rect x="409.5" y="324.56" width="1.2" height="46.64" fill="#c62848"/>
<rect x="410.7" y="371.2" width="1.2" height="64.24" fill="#6e42a6"/>
<rect x="411.9" y="371.2" width="1.2" height="65.12" fill="#6e42a6"/>
<rect x="413.1" y="371.2" width="1.2" height="52.8" fill="#6e42a6"/>
<rect x="414.3" y="371.2" width="1.2" height="36.08" fill="#6e42a6"/>
<rect x="415.5" y="371.2" width="1.2" height="36.96" fill="#6e8ed0"/>
<rect x="416.7" y="371.2" width="1.2" height="61.6" fill="#6e8ed0"/>
<rect x="417.9" y="371.2" width="1.2" height="55.44" fill="#6e8ed0"/>
<rect x="419.1" y="371.2" width="1.2" height="14.96" fill="#6e8ed0"/>
<rect x="420.3" y="315.14" width="1.2" height="56.06" fill="#e8a03c"/>
<rect x="421.5" y="328.08" width="1.2" height="43.12" fill="#e8a03c"/>
<rect x="422.7" y="316.82" width="1.2" height="54.38" fill="#e8a03c"/>
<rect x="423.9" y="328.08" width="1.2" height="43.12" fill="#e8a03c"/>
<rect x="433.1" y="320.16" width="1.2" height="51.04" fill="#c62848"/>
<rect x="434.3" y="328.96" width="1.2" height="42.24" fill="#c62848"/>
<rect x="435.5" y="330.28" width="1.2" height="40.92" fill="#c62848"/>
<rect x="436.7" y="323.06" width="1.2" height="48.14" fill="#c62848"/>
<rect x="437.9" y="371.2" width="1.2" height="60.72" fill="#6e42a6"/>
<rect x="439.1" y="371.2" width="1.2" height="58.96" fill="#6e42a6"/>
<rect x="440.3" y="371.2" width="1.2" height="37.84" fill="#6e42a6"/>
<rect x="441.5" y="371.2" width="1.2" height="24.64" fill="#6e42a6"/>
<rect x="442.7" y="371.2" width="1.2" height="56.32" fill="#6e8ed0"/>
<rect x="443.9" y="371.2" width="1.2" height="49.28" fill="#6e8ed0"/>
<rect x="445.1" y="371.2" width="1.2" height="21.12" fill="#6e8ed0"/>
<rect x="446.3" y="371.2" width="1.2" height="14.96" fill="#6e8ed0"/>
<rect x="447.5" y="316.02" width="1.2" height="55.18" fill="#e8a03c"/>
<rect x="448.7" y="350.08" width="1.2" height="21.12" fill="#e8a03c"/>
<rect x="449.9" y="351.22" width="1.2" height="19.98" fill="#e8a03c"/>
<rect x="451.1" y="343.3" width="1.2" height="27.9" fill="#e8a03c"/>
<rect x="460.5" y="326.32" width="1.2" height="44.88" fill="#c62848"/>
<rect x="461.7" y="316.2" width="1.2" height="55" fill="#c62848"/>
<rect x="462.9" y="334.24" width="1.2" height="36.96" fill="#c62848"/>
<rect x="464.1" y="337.14" width="1.2" height="34.06" fill="#c62848"/>
<rect x="465.3" y="371.2" width="1.2" height="52.8" fill="#6e42a6"/>
<rect x="466.5" y="371.2" width="1.2" height="49.28" fill="#6e42a6"/>
<rect x="467.7" y="371.2" width="1.2" height="46.64" fill="#6e42a6"/>
<rect x="468.9" y="371.2" width="1.2" height="33.88" fill="#6e42a6"/>
<rect x="470.1" y="371.2" width="1.2" height="56.32" fill="#6e8ed0"/>
<rect x="471.3" y="371.2" width="1.2" height="51.92" fill="#6e8ed0"/>
<rect x="472.5" y="371.2" width="1.2" height="37.84" fill="#6e8ed0"/>
<rect x="473.7" y="371.2" width="1.2" height="15.84" fill="#6e8ed0"/>
<rect x="474.9" y="321.39" width="1.2" height="49.81" fill="#e8a03c"/>
<rect x="476.1" y="327.2" width="1.2" height="44" fill="#e8a03c"/>
<rect x="477.3" y="321.39" width="1.2" height="49.81" fill="#e8a03c"/>
<rect x="478.5" y="331.6" width="1.2" height="39.6" fill="#e8a03c"/>
<rect x="488.2" y="337.14" width="1.2" height="34.06" fill="#c62848"/>
<rect x="489.4" y="359.14" width="1.2" height="12.06" fill="#c62848"/>
<rect x="490.6" y="334.86" width="1.2" height="36.34" fill="#c62848"/>
<rect x="491.8" y="371.2" width="1.2" height="2.64" fill="#c62848"/>
<rect x="493" y="371.2" width="1.2" height="4.4" fill="#6e42a6"/>
<rect x="494.2" y="371.2" width="1.2" height="17.6" fill="#6e42a6"/>
<rect x="495.4" y="371.2" width="1.2" height="28.16" fill="#6e42a6"/>
<rect x="496.6" y="371.2" width="1.2" height="45.76" fill="#6e42a6"/>
<rect x="497.8" y="371.2" width="1.2" height="44.88" fill="#6e8ed0"/>
<rect x="499" y="371.2" width="1.2" height="22" fill="#6e8ed0"/>
<rect x="500.2" y="371.2" width="1.2" height="24.64" fill="#6e8ed0"/>
<rect x="501.4" y="371.2" width="1.2" height="44" fill="#6e8ed0"/>
<rect x="502.6" y="327.2" width="1.2" height="44" fill="#e8a03c"/>
<rect x="503.8" y="347.88" width="1.2" height="23.32" fill="#e8a03c"/>
<rect x="505" y="332.48" width="1.2" height="38.72" fill="#e8a03c"/>
<rect x="506.2" y="347.88" width="1.2" height="23.32" fill="#e8a03c"/>
<rect x="400.5" y="370.7" width="106.7" height="1" fill="#222"/>
<text x="406.8" y="444.3" font-size="7" text-anchor="start" font-weight="normal" font-style="normal" fill="#111" textLength="18" lengthAdjust="spacingAndGlyphs">Other</text>
<text x="428.7" y="444.3" font-size="7" text-anchor="start" font-weight="normal" font-style="normal" fill="#111" textLength="27.4" lengthAdjust="spacingAndGlyphs">Secreted</text>
<text x="457.6" y="444.3" font-size="7" text-anchor="start" font-weight="normal" font-style="normal" fill="#111" textLength="23.3" lengthAdjust="spacingAndGlyphs">Surface</text>
<text x="491.2" y="444.3" font-size="7" text-anchor="start" font-weight="normal" font-style="normal" fill="#111" textLength="9.9" lengthAdjust="spacingAndGlyphs">TFs</text>
<rect x="403.5" y="448.65" width="24.1" height="1.3" fill="#666"/>
<rect x="430.5" y="448.65" width="24.1" height="1.3" fill="#666"/>
<rect x="457.2" y="448.65" width="24.1" height="1.3" fill="#666"/>
<rect x="484.0" y="448.65" width="24.3" height="1.3" fill="#666"/>
<text x="435.5" y="465.2" font-size="7.2" text-anchor="middle" font-weight="normal" font-style="normal" fill="#111" >A</text>
<text x="447.15" y="465.2" font-size="7.2" text-anchor="middle" font-weight="normal" font-style="normal" fill="#111" >AB</text>
<text x="458.65" y="465.2" font-size="7.2" text-anchor="middle" font-weight="normal" font-style="normal" fill="#111" >B</text>
<text x="470.7" y="465.2" font-size="7.2" text-anchor="middle" font-weight="normal" font-style="normal" fill="#111" >DN</text>
<rect x="431.7" y="469.8" width="7.4" height="7.2" fill="#c0102e"/>
<rect x="443.1" y="469.8" width="7.7" height="7.2" fill="#4b2280"/>
<rect x="454.7" y="469.8" width="7.4" height="7.2" fill="#4a6cb8"/>
<rect x="466.9" y="469.8" width="7.5" height="7.2" fill="#e88a18"/>
<rect x="35.2" y="572.35" width="5.8" height="12.55" fill="#c0102e"/>
<rect x="46" y="560.16" width="6.1" height="24.74" fill="#4b2280"/>
<rect x="57" y="574.14" width="6" height="10.75" fill="#4a6cb8"/>
<rect x="68" y="573.55" width="6.2" height="11.35" fill="#e88a18"/>
<circle cx="36.65" cy="562.19" r="0.85" fill="#000"/>
<circle cx="37.62" cy="562.79" r="0.85" fill="#000"/>
<circle cx="38.58" cy="571.75" r="0.85" fill="#000"/>
<circle cx="39.55" cy="573.55" r="0.85" fill="#000"/>
<circle cx="37.13" cy="576.53" r="0.85" fill="#000"/>
<circle cx="38.1" cy="578.92" r="0.85" fill="#000"/>
<circle cx="39.07" cy="570.56" r="0.85" fill="#000"/>
<circle cx="47.52" cy="541.28" r="0.85" fill="#000"/>
<circle cx="48.54" cy="553.83" r="0.85" fill="#000"/>
<circle cx="49.56" cy="554.43" r="0.85" fill="#000"/>
<circle cx="50.58" cy="557.41" r="0.85" fill="#000"/>
<circle cx="48.03" cy="563.39" r="0.85" fill="#000"/>
<circle cx="49.05" cy="569.37" r="0.85" fill="#000"/>
<circle cx="50.07" cy="574.14" r="0.85" fill="#000"/>
<circle cx="58.5" cy="547.26" r="0.85" fill="#000"/>
<circle cx="59.5" cy="580.12" r="0.85" fill="#000"/>
<circle cx="60.5" cy="582.51" r="0.85" fill="#000"/>
<circle cx="69.55" cy="562.79" r="0.85" fill="#000"/>
<circle cx="70.58" cy="571.75" r="0.85" fill="#000"/>
<circle cx="71.62" cy="572.95" r="0.85" fill="#000"/>
<circle cx="72.65" cy="574.14" r="0.85" fill="#000"/>
<circle cx="70.07" cy="575.94" r="0.85" fill="#000"/>
<circle cx="71.1" cy="578.92" r="0.85" fill="#000"/>
<circle cx="72.13" cy="581.31" r="0.85" fill="#000"/>
<rect x="37.6" y="565.54" width="1.0" height="13.62" fill="#000"/>
<rect x="36.1" y="565.04" width="4.0" height="1.0" fill="#000"/>
<rect x="36.1" y="578.66" width="4.0" height="1.0" fill="#000"/>
<rect x="48.55" y="550.84" width="1.0" height="18.64" fill="#000"/>
<rect x="47.05" y="550.34" width="4.0" height="1.0" fill="#000"/>
<rect x="47.05" y="568.98" width="4.0" height="1.0" fill="#000"/>
<rect x="59.5" y="561.36" width="1.0" height="23.54" fill="#000"/>
<rect x="58" y="560.86" width="4.0" height="1.0" fill="#000"/>
<rect x="70.6" y="568.77" width="1.0" height="9.56" fill="#000"/>
<rect x="69.1" y="568.27" width="4.0" height="1.0" fill="#000"/>
<rect x="69.1" y="577.83" width="4.0" height="1.0" fill="#000"/>
<rect x="30.25" y="511" width="1.5" height="74.6" fill="#111"/>
<rect x="28.2" y="584.2" width="50.6" height="1.4" fill="#111"/>
<rect x="28.2" y="584.4" width="2.4" height="1" fill="#222"/>
<text x="25.5" y="587.25" font-size="6.8" text-anchor="end" font-weight="normal" font-style="normal" fill="#111" >0</text>
<rect x="28.2" y="560.5" width="2.4" height="1" fill="#222"/>
<text x="25.5" y="563.35" font-size="6.8" text-anchor="end" font-weight="normal" font-style="normal" fill="#111" >2</text>
<rect x="28.2" y="536.6" width="2.4" height="1" fill="#222"/>
<text x="25.5" y="539.45" font-size="6.8" text-anchor="end" font-weight="normal" font-style="normal" fill="#111" >4</text>
<rect x="28.2" y="512.7" width="2.4" height="1" fill="#222"/>
<text x="25.5" y="515.55" font-size="6.8" text-anchor="end" font-weight="normal" font-style="normal" fill="#111" >6</text>
<text x="35.9" y="593.6" font-size="6.8" text-anchor="start" font-weight="normal" font-style="normal" fill="#111" textLength="5" lengthAdjust="spacingAndGlyphs">A</text>
<text x="44.6" y="593.6" font-size="6.8" text-anchor="start" font-weight="normal" font-style="normal" fill="#111" textLength="8.4" lengthAdjust="spacingAndGlyphs">AB</text>
<text x="57.7" y="593.6" font-size="6.8" text-anchor="start" font-weight="normal" font-style="normal" fill="#111" textLength="4" lengthAdjust="spacingAndGlyphs">B</text>
<text x="65.8" y="593.6" font-size="6.8" text-anchor="start" font-weight="normal" font-style="normal" fill="#111" textLength="9.7" lengthAdjust="spacingAndGlyphs">DN</text>
<text x="0" y="0" font-size="7" font-style="italic" fill="#111" text-anchor="middle" transform="translate(13.1,548.75) rotate(-90)" textLength="40.9" lengthAdjust="spacingAndGlyphs">Runx2:Hprt1</text>
<rect x="39" y="536.55" width="8.7" height="1.3" fill="#222"/>
<circle cx="43.35" cy="534.5" r="0.7" fill="#111"/>
<rect x="50" y="536.55" width="9.6" height="1.3" fill="#222"/>
<circle cx="53.85" cy="534.5" r="0.7" fill="#111"/>
<circle cx="55.75" cy="534.5" r="0.7" fill="#111"/>
<rect x="50" y="529.75" width="18.9" height="1.3" fill="#222"/>
<circle cx="58.5" cy="527.7" r="0.7" fill="#111"/>
<circle cx="60.4" cy="527.7" r="0.7" fill="#111"/>
<rect x="121.6" y="559.25" width="6.6" height="25.45" fill="#c0102e"/>
<rect x="132.8" y="559.25" width="6.6" height="25.45" fill="#4b2280"/>
<rect x="143.5" y="574.33" width="6.6" height="10.37" fill="#4a6cb8"/>
<rect x="154.4" y="569.62" width="6.6" height="15.08" fill="#e88a18"/>
<circle cx="123.25" cy="531.91" r="0.85" fill="#000"/>
<circle cx="124.35" cy="530.97" r="0.85" fill="#000"/>
<circle cx="125.45" cy="556.42" r="0.85" fill="#000"/>
<circle cx="126.55" cy="570.56" r="0.85" fill="#000"/>
<circle cx="123.8" cy="577.63" r="0.85" fill="#000"/>
<circle cx="134.45" cy="526.73" r="0.85" fill="#000"/>
<circle cx="135.55" cy="558.78" r="0.85" fill="#000"/>
<circle cx="136.65" cy="563.49" r="0.85" fill="#000"/>
<circle cx="137.75" cy="570.56" r="0.85" fill="#000"/>
<circle cx="135" cy="579.04" r="0.85" fill="#000"/>
<circle cx="145.15" cy="561.13" r="0.85" fill="#000"/>
<circle cx="146.25" cy="563.49" r="0.85" fill="#000"/>
<circle cx="147.35" cy="575.27" r="0.85" fill="#000"/>
<circle cx="148.45" cy="582.34" r="0.85" fill="#000"/>
<circle cx="156.05" cy="563.49" r="0.85" fill="#000"/>
<circle cx="157.15" cy="565.85" r="0.85" fill="#000"/>
<circle cx="158.25" cy="569.62" r="0.85" fill="#000"/>
<circle cx="159.35" cy="575.27" r="0.85" fill="#000"/>
<circle cx="156.6" cy="580.93" r="0.85" fill="#000"/>
<rect x="124.4" y="539.46" width="1.0" height="39.59" fill="#000"/>
<rect x="122.9" y="538.96" width="4.0" height="1.0" fill="#000"/>
<rect x="122.9" y="578.54" width="4.0" height="1.0" fill="#000"/>
<rect x="135.6" y="544.17" width="1.0" height="30.16" fill="#000"/>
<rect x="134.1" y="543.67" width="4.0" height="1.0" fill="#000"/>
<rect x="134.1" y="573.83" width="4.0" height="1.0" fill="#000"/>
<rect x="146.3" y="565.38" width="1.0" height="17.91" fill="#000"/>
<rect x="144.8" y="564.88" width="4.0" height="1.0" fill="#000"/>
<rect x="144.8" y="582.79" width="4.0" height="1.0" fill="#000"/>
<rect x="157.2" y="562.55" width="1.0" height="14.14" fill="#000"/>
<rect x="155.7" y="562.05" width="4.0" height="1.0" fill="#000"/>
<rect x="155.7" y="576.19" width="4.0" height="1.0" fill="#000"/>
<rect x="116.55" y="511.6" width="1.5" height="73.8" fill="#111"/>
<rect x="114.5" y="584" width="50.2" height="1.4" fill="#111"/>
<rect x="114.5" y="584.2" width="2.4" height="1" fill="#222"/>
<text x="111.8" y="587.05" font-size="6.8" text-anchor="end" font-weight="normal" font-style="normal" fill="#111" >0.0</text>
<rect x="114.5" y="560.63" width="2.4" height="1" fill="#222"/>
<text x="111.8" y="563.49" font-size="6.8" text-anchor="end" font-weight="normal" font-style="normal" fill="#111" >0.5</text>
<rect x="114.5" y="537.07" width="2.4" height="1" fill="#222"/>
<text x="111.8" y="539.92" font-size="6.8" text-anchor="end" font-weight="normal" font-style="normal" fill="#111" >1.0</text>
<rect x="114.5" y="513.5" width="2.4" height="1" fill="#222"/>
<text x="111.8" y="516.36" font-size="6.8" text-anchor="end" font-weight="normal" font-style="normal" fill="#111" >1.5</text>
<text x="122.5" y="593.6" font-size="6.8" text-anchor="start" font-weight="normal" font-style="normal" fill="#111" textLength="4.2" lengthAdjust="spacingAndGlyphs">A</text>
<text x="131" y="593.6" font-size="6.8" text-anchor="start" font-weight="normal" font-style="normal" fill="#111" textLength="8.8" lengthAdjust="spacingAndGlyphs">AB</text>
<text x="144.1" y="593.6" font-size="6.8" text-anchor="start" font-weight="normal" font-style="normal" fill="#111" textLength="3.8" lengthAdjust="spacingAndGlyphs">B</text>
<text x="152.2" y="593.6" font-size="6.8" text-anchor="start" font-weight="normal" font-style="normal" fill="#111" textLength="10.1" lengthAdjust="spacingAndGlyphs">DN</text>
<text x="0" y="0" font-size="7" font-style="italic" fill="#111" text-anchor="middle" transform="translate(94,548.2) rotate(-90)" textLength="32.9" lengthAdjust="spacingAndGlyphs">Sp7:Hprt1</text>
<rect x="206.6" y="551" width="6.2" height="33.7" fill="#c0102e"/>
<rect x="217.3" y="552.42" width="6.5" height="32.28" fill="#4b2280"/>
<rect x="228.5" y="559.54" width="6.2" height="25.16" fill="#4a6cb8"/>
<rect x="239.4" y="550.05" width="6.6" height="34.65" fill="#e88a18"/>
<circle cx="208.15" cy="541.98" r="0.85" fill="#000"/>
<circle cx="209.18" cy="542.93" r="0.85" fill="#000"/>
<circle cx="210.22" cy="560.97" r="0.85" fill="#000"/>
<circle cx="211.25" cy="568.09" r="0.85" fill="#000"/>
<circle cx="218.93" cy="538.18" r="0.85" fill="#000"/>
<circle cx="220.01" cy="549.1" r="0.85" fill="#000"/>
<circle cx="221.09" cy="558.59" r="0.85" fill="#000"/>
<circle cx="222.18" cy="570.46" r="0.85" fill="#000"/>
<circle cx="230.05" cy="537.7" r="0.85" fill="#000"/>
<circle cx="231.08" cy="556.22" r="0.85" fill="#000"/>
<circle cx="232.12" cy="570.46" r="0.85" fill="#000"/>
<circle cx="233.15" cy="578.53" r="0.85" fill="#000"/>
<circle cx="241.05" cy="519.19" r="0.85" fill="#000"/>
<circle cx="242.15" cy="546.72" r="0.85" fill="#000"/>
<circle cx="243.25" cy="564.76" r="0.85" fill="#000"/>
<circle cx="244.35" cy="578.53" r="0.85" fill="#000"/>
<rect x="209.2" y="538.65" width="1.0" height="24.68" fill="#000"/>
<rect x="207.7" y="538.15" width="4.0" height="1.0" fill="#000"/>
<rect x="207.7" y="562.84" width="4.0" height="1.0" fill="#000"/>
<rect x="220.05" y="542.45" width="1.0" height="19.94" fill="#000"/>
<rect x="218.55" y="541.95" width="4.0" height="1.0" fill="#000"/>
<rect x="218.55" y="561.89" width="4.0" height="1.0" fill="#000"/>
<rect x="231.1" y="545.3" width="1.0" height="28.48" fill="#000"/>
<rect x="229.6" y="544.8" width="4.0" height="1.0" fill="#000"/>
<rect x="229.6" y="573.28" width="4.0" height="1.0" fill="#000"/>
<rect x="242.2" y="534.38" width="1.0" height="31.33" fill="#000"/>
<rect x="240.7" y="533.88" width="4.0" height="1.0" fill="#000"/>
<rect x="240.7" y="565.21" width="4.0" height="1.0" fill="#000"/>
<rect x="201.55" y="511.6" width="1.5" height="73.8" fill="#111"/>
<rect x="199.5" y="584" width="50.2" height="1.4" fill="#111"/>
<rect x="199.5" y="584.2" width="2.4" height="1" fill="#222"/>
<text x="196.8" y="587.05" font-size="6.8" text-anchor="end" font-weight="normal" font-style="normal" fill="#111" >0</text>
<rect x="199.5" y="560.47" width="2.4" height="1" fill="#222"/>
<text x="196.8" y="563.32" font-size="6.8" text-anchor="end" font-weight="normal" font-style="normal" fill="#111" >5</text>
<rect x="199.5" y="536.73" width="2.4" height="1" fill="#222"/>
<text x="196.8" y="539.58" font-size="6.8" text-anchor="end" font-weight="normal" font-style="normal" fill="#111" >10</text>
<rect x="199.5" y="513" width="2.4" height="1" fill="#222"/>
<text x="196.8" y="515.85" font-size="6.8" text-anchor="end" font-weight="normal" font-style="normal" fill="#111" >15</text>
<text x="207" y="593.6" font-size="6.8" text-anchor="start" font-weight="normal" font-style="normal" fill="#111" textLength="4.7" lengthAdjust="spacingAndGlyphs">A</text>
<text x="216" y="593.6" font-size="6.8" text-anchor="start" font-weight="normal" font-style="normal" fill="#111" textLength="8.4" lengthAdjust="spacingAndGlyphs">AB</text>
<text x="229.1" y="593.6" font-size="6.8" text-anchor="start" font-weight="normal" font-style="normal" fill="#111" textLength="3.8" lengthAdjust="spacingAndGlyphs">B</text>
<text x="237.2" y="593.6" font-size="6.8" text-anchor="start" font-weight="normal" font-style="normal" fill="#111" textLength="10.1" lengthAdjust="spacingAndGlyphs">DN</text>
<text x="0" y="0" font-size="7" font-style="italic" fill="#111" text-anchor="middle" transform="translate(180.9,548.2) rotate(-90)" textLength="34" lengthAdjust="spacingAndGlyphs">Alpl:Hprt1</text>
<rect x="286.9" y="559.88" width="6.6" height="24.81" fill="#c0102e"/>
<rect x="297.8" y="572.22" width="6.4" height="12.48" fill="#4b2280"/>
<rect x="308.8" y="560.88" width="6.2" height="23.82" fill="#4a6cb8"/>
<rect x="319.7" y="556.62" width="6.6" height="28.08" fill="#e88a18"/>
<circle cx="288.55" cy="540.03" r="0.85" fill="#000"/>
<circle cx="289.65" cy="549.25" r="0.85" fill="#000"/>
<circle cx="290.75" cy="570.52" r="0.85" fill="#000"/>
<circle cx="291.85" cy="579.74" r="0.85" fill="#000"/>
<circle cx="299.4" cy="563.43" r="0.85" fill="#000"/>
<circle cx="300.47" cy="569.1" r="0.85" fill="#000"/>
<circle cx="301.53" cy="571.94" r="0.85" fill="#000"/>
<circle cx="302.6" cy="576.19" r="0.85" fill="#000"/>
<circle cx="310.35" cy="514.51" r="0.85" fill="#000"/>
<circle cx="311.38" cy="522.31" r="0.85" fill="#000"/>
<circle cx="312.42" cy="530.82" r="0.85" fill="#000"/>
<circle cx="313.45" cy="573.36" r="0.85" fill="#000"/>
<circle cx="310.87" cy="581.16" r="0.85" fill="#000"/>
<circle cx="321.35" cy="535.78" r="0.85" fill="#000"/>
<circle cx="322.45" cy="547.83" r="0.85" fill="#000"/>
<circle cx="323.55" cy="549.25" r="0.85" fill="#000"/>
<circle cx="324.65" cy="564.85" r="0.85" fill="#000"/>
<circle cx="321.9" cy="577.61" r="0.85" fill="#000"/>
<rect x="289.7" y="545.28" width="1.0" height="29.21" fill="#000"/>
<rect x="288.2" y="544.78" width="4.0" height="1.0" fill="#000"/>
<rect x="288.2" y="573.99" width="4.0" height="1.0" fill="#000"/>
<rect x="300.5" y="567.4" width="1.0" height="9.64" fill="#000"/>
<rect x="299" y="566.9" width="4.0" height="1.0" fill="#000"/>
<rect x="299" y="576.54" width="4.0" height="1.0" fill="#000"/>
<rect x="311.4" y="539.32" width="1.0" height="43.11" fill="#000"/>
<rect x="309.9" y="538.82" width="4.0" height="1.0" fill="#000"/>
<rect x="309.9" y="581.93" width="4.0" height="1.0" fill="#000"/>
<rect x="322.5" y="542.16" width="1.0" height="28.93" fill="#000"/>
<rect x="321" y="541.66" width="4.0" height="1.0" fill="#000"/>
<rect x="321" y="570.59" width="4.0" height="1.0" fill="#000"/>
<rect x="281.85" y="511.6" width="1.5" height="73.8" fill="#111"/>
<rect x="279.8" y="584" width="50.2" height="1.4" fill="#111"/>
<rect x="279.8" y="584.2" width="2.4" height="1" fill="#222"/>
<text x="277.1" y="587.05" font-size="6.8" text-anchor="end" font-weight="normal" font-style="normal" fill="#111" >0</text>
<rect x="279.8" y="570.02" width="2.4" height="1" fill="#222"/>
<text x="277.1" y="572.87" font-size="6.8" text-anchor="end" font-weight="normal" font-style="normal" fill="#111" >1</text>
<rect x="279.8" y="555.84" width="2.4" height="1" fill="#222"/>
<text x="277.1" y="558.69" font-size="6.8" text-anchor="end" font-weight="normal" font-style="normal" fill="#111" >2</text>
<rect x="279.8" y="541.66" width="2.4" height="1" fill="#222"/>
<text x="277.1" y="544.51" font-size="6.8" text-anchor="end" font-weight="normal" font-style="normal" fill="#111" >3</text>
<rect x="279.8" y="527.48" width="2.4" height="1" fill="#222"/>
<text x="277.1" y="530.33" font-size="6.8" text-anchor="end" font-weight="normal" font-style="normal" fill="#111" >4</text>
<rect x="279.8" y="513.3" width="2.4" height="1" fill="#222"/>
<text x="277.1" y="516.15" font-size="6.8" text-anchor="end" font-weight="normal" font-style="normal" fill="#111" >5</text>
<text x="287.3" y="593.6" font-size="6.8" text-anchor="start" font-weight="normal" font-style="normal" fill="#111" textLength="4.8" lengthAdjust="spacingAndGlyphs">A</text>
<text x="296.7" y="593.6" font-size="6.8" text-anchor="start" font-weight="normal" font-style="normal" fill="#111" textLength="8.6" lengthAdjust="spacingAndGlyphs">AB</text>
<text x="309.4" y="593.6" font-size="6.8" text-anchor="start" font-weight="normal" font-style="normal" fill="#111" textLength="4.1" lengthAdjust="spacingAndGlyphs">B</text>
<text x="317.9" y="593.6" font-size="6.8" text-anchor="start" font-weight="normal" font-style="normal" fill="#111" textLength="10.3" lengthAdjust="spacingAndGlyphs">DN</text>
<text x="0" y="0" font-size="7" font-style="italic" fill="#111" text-anchor="middle" transform="translate(264.5,548.2) rotate(-90)" textLength="37.2" lengthAdjust="spacingAndGlyphs">Pth1r:Hprt1</text>
<rect x="300" y="516.15" width="22.9" height="1.3" fill="#222"/>
<circle cx="311.45" cy="514.1" r="0.7" fill="#111"/>
<rect x="379" y="567.61" width="6.6" height="17.09" fill="#c0102e"/>
<rect x="389.7" y="579.72" width="6.6" height="4.98" fill="#4b2280"/>
<rect x="401" y="580.43" width="6.5" height="4.27" fill="#4a6cb8"/>
<rect x="411.3" y="583.99" width="7.5" height="0.71" fill="#e88a18"/>
<circle cx="380.65" cy="548.39" r="0.85" fill="#000"/>
<circle cx="381.75" cy="573.31" r="0.85" fill="#000"/>
<circle cx="382.85" cy="580.43" r="0.85" fill="#000"/>
<circle cx="391.35" cy="572.6" r="0.85" fill="#000"/>
<circle cx="392.45" cy="576.87" r="0.85" fill="#000"/>
<circle cx="393.55" cy="581.14" r="0.85" fill="#000"/>
<circle cx="402.62" cy="571.88" r="0.85" fill="#000"/>
<circle cx="403.71" cy="578.29" r="0.85" fill="#000"/>
<circle cx="404.79" cy="581.85" r="0.85" fill="#000"/>
<circle cx="413.18" cy="581.85" r="0.85" fill="#000"/>
<circle cx="414.43" cy="583.63" r="0.85" fill="#000"/>
<rect x="381.8" y="551.24" width="1.0" height="32.75" fill="#000"/>
<rect x="380.3" y="550.74" width="4.0" height="1.0" fill="#000"/>
<rect x="380.3" y="583.49" width="4.0" height="1.0" fill="#000"/>
<rect x="392.5" y="576.16" width="1.0" height="7.12" fill="#000"/>
<rect x="391" y="575.66" width="4.0" height="1.0" fill="#000"/>
<rect x="391" y="582.78" width="4.0" height="1.0" fill="#000"/>
<rect x="403.75" y="576.87" width="1.0" height="7.12" fill="#000"/>
<rect x="402.25" y="576.37" width="4.0" height="1.0" fill="#000"/>
<rect x="402.25" y="583.49" width="4.0" height="1.0" fill="#000"/>
<rect x="414.55" y="582.56" width="1.0" height="2.14" fill="#000"/>
<rect x="413.05" y="582.06" width="4.0" height="1.0" fill="#000"/>
<rect x="374.35" y="511.6" width="1.5" height="73.8" fill="#111"/>
<rect x="372.3" y="584" width="50.2" height="1.4" fill="#111"/>
<rect x="372.3" y="584.2" width="2.4" height="1" fill="#222"/>
<text x="369.6" y="587.05" font-size="6.8" text-anchor="end" font-weight="normal" font-style="normal" fill="#111" >0</text>
<rect x="372.3" y="569.96" width="2.4" height="1" fill="#222"/>
<text x="369.6" y="572.81" font-size="6.8" text-anchor="end" font-weight="normal" font-style="normal" fill="#111" >200</text>
<rect x="372.3" y="555.72" width="2.4" height="1" fill="#222"/>
<text x="369.6" y="558.57" font-size="6.8" text-anchor="end" font-weight="normal" font-style="normal" fill="#111" >400</text>
<rect x="372.3" y="541.48" width="2.4" height="1" fill="#222"/>
<text x="369.6" y="544.33" font-size="6.8" text-anchor="end" font-weight="normal" font-style="normal" fill="#111" >600</text>
<rect x="372.3" y="527.24" width="2.4" height="1" fill="#222"/>
<text x="369.6" y="530.09" font-size="6.8" text-anchor="end" font-weight="normal" font-style="normal" fill="#111" >800</text>
<rect x="372.3" y="513" width="2.4" height="1" fill="#222"/>
<text x="369.6" y="515.85" font-size="6.8" text-anchor="end" font-weight="normal" font-style="normal" fill="#111" >1000</text>
<text x="379.8" y="593.6" font-size="6.8" text-anchor="start" font-weight="normal" font-style="normal" fill="#111" textLength="4.3" lengthAdjust="spacingAndGlyphs">A</text>
<text x="389.2" y="593.6" font-size="6.8" text-anchor="start" font-weight="normal" font-style="normal" fill="#111" textLength="7.1" lengthAdjust="spacingAndGlyphs">AB</text>
<text x="401.9" y="593.6" font-size="6.8" text-anchor="start" font-weight="normal" font-style="normal" fill="#111" textLength="3.8" lengthAdjust="spacingAndGlyphs">B</text>
<text x="410.9" y="593.6" font-size="6.8" text-anchor="start" font-weight="normal" font-style="normal" fill="#111" textLength="9.8" lengthAdjust="spacingAndGlyphs">DN</text>
<text x="0" y="0" font-size="7" font-style="italic" fill="#111" text-anchor="middle" transform="translate(345.9,547.9) rotate(-90)" textLength="38.8" lengthAdjust="spacingAndGlyphs">Bglap:Hprt1</text>
<rect x="381.6" y="514.65" width="32.5" height="1.3" fill="#222"/>
<circle cx="395.95" cy="512.6" r="0.7" fill="#111"/>
<circle cx="397.85" cy="512.6" r="0.7" fill="#111"/>
<circle cx="399.75" cy="512.6" r="0.7" fill="#111"/>
<rect x="381.6" y="520.35" width="21.3" height="1.3" fill="#222"/>
<circle cx="391.3" cy="518.3" r="0.7" fill="#111"/>
<circle cx="393.2" cy="518.3" r="0.7" fill="#111"/>
<rect x="381.6" y="525.55" width="11.9" height="1.3" fill="#222"/>
<circle cx="387.55" cy="523.5" r="0.7" fill="#111"/>
<rect x="491" y="572.81" width="6.1" height="11.79" fill="#4a6cb8"/>
<rect x="501.8" y="553.36" width="6.6" height="31.24" fill="#e88a18"/>
<circle cx="492.52" cy="534.19" r="0.85" fill="#000"/>
<circle cx="493.54" cy="581.76" r="0.85" fill="#000"/>
<circle cx="503.45" cy="546.26" r="0.85" fill="#000"/>
<circle cx="504.55" cy="549.1" r="0.85" fill="#000"/>
<circle cx="505.65" cy="556.2" r="0.85" fill="#000"/>
<circle cx="506.75" cy="567.56" r="0.85" fill="#000"/>
<rect x="493.55" y="551.23" width="1.0" height="33.37" fill="#000"/>
<rect x="492.05" y="550.73" width="4.0" height="1.0" fill="#000"/>
<rect x="504.6" y="544.84" width="1.0" height="17.04" fill="#000"/>
<rect x="503.1" y="544.34" width="4.0" height="1.0" fill="#000"/>
<rect x="503.1" y="561.38" width="4.0" height="1.0" fill="#000"/>
<rect x="464.55" y="511.6" width="1.5" height="73.7" fill="#111"/>
<rect x="462.5" y="583.9" width="50.2" height="1.4" fill="#111"/>
<rect x="462.5" y="584.1" width="2.4" height="1" fill="#222"/>
<text x="459.8" y="586.95" font-size="6.8" text-anchor="end" font-weight="normal" font-style="normal" fill="#111" >0.00</text>
<rect x="462.5" y="569.9" width="2.4" height="1" fill="#222"/>
<text x="459.8" y="572.75" font-size="6.8" text-anchor="end" font-weight="normal" font-style="normal" fill="#111" >0.01</text>
<rect x="462.5" y="555.7" width="2.4" height="1" fill="#222"/>
<text x="459.8" y="558.55" font-size="6.8" text-anchor="end" font-weight="normal" font-style="normal" fill="#111" >0.02</text>
<rect x="462.5" y="541.5" width="2.4" height="1" fill="#222"/>
<text x="459.8" y="544.35" font-size="6.8" text-anchor="end" font-weight="normal" font-style="normal" fill="#111" >0.03</text>
<rect x="462.5" y="527.3" width="2.4" height="1" fill="#222"/>
<text x="459.8" y="530.15" font-size="6.8" text-anchor="end" font-weight="normal" font-style="normal" fill="#111" >0.04</text>
<rect x="462.5" y="513.1" width="2.4" height="1" fill="#222"/>
<text x="459.8" y="515.95" font-size="6.8" text-anchor="end" font-weight="normal" font-style="normal" fill="#111" >0.05</text>
<text x="470" y="593.6" font-size="6.8" text-anchor="start" font-weight="normal" font-style="normal" fill="#111" textLength="4.1" lengthAdjust="spacingAndGlyphs">A</text>
<text x="478.4" y="593.6" font-size="6.8" text-anchor="start" font-weight="normal" font-style="normal" fill="#111" textLength="8.4" lengthAdjust="spacingAndGlyphs">AB</text>
<text x="492.1" y="593.6" font-size="6.8" text-anchor="start" font-weight="normal" font-style="normal" fill="#111" textLength="3.7" lengthAdjust="spacingAndGlyphs">B</text>
<text x="500" y="593.6" font-size="6.8" text-anchor="start" font-weight="normal" font-style="normal" fill="#111" textLength="10.3" lengthAdjust="spacingAndGlyphs">DN</text>
<text x="0" y="0" font-size="7" font-style="italic" fill="#111" text-anchor="middle" transform="translate(437.8,547.9) rotate(-90)" textLength="33.4" lengthAdjust="spacingAndGlyphs">Sost:Hprt1</text>
<rect x="473.3" y="518.95" width="32.7" height="1.3" fill="#222"/>
<circle cx="487.75" cy="516.9" r="0.7" fill="#111"/>
<circle cx="489.65" cy="516.9" r="0.7" fill="#111"/>
<circle cx="491.55" cy="516.9" r="0.7" fill="#111"/>
<rect x="484.6" y="524.35" width="21.4" height="1.3" fill="#222"/>
<circle cx="494.35" cy="522.3" r="0.7" fill="#111"/>
<circle cx="496.25" cy="522.3" r="0.7" fill="#111"/>
<rect x="494.7" y="529.65" width="11.3" height="1.3" fill="#222"/>
<circle cx="500.35" cy="527.6" r="0.7" fill="#111"/>
</svg>
<div class="frame" style="border-top:1px solid #000;border-left:1px solid #000;border-right:1px solid #000;"></div>
<div style="position:absolute;left:0;top:601.6px;width:520px;height:1.4px;background:#000"></div>
</body></html>
